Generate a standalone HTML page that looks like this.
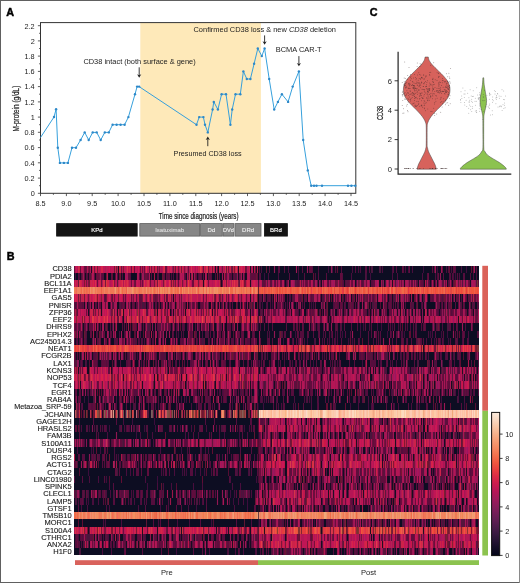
<!DOCTYPE html>
<html><head><meta charset="utf-8"><title>Figure</title>
<style>html,body{margin:0;padding:0;background:#fff}body{width:520px;height:583px;overflow:hidden;font-family:"Liberation Sans",sans-serif}svg{display:block}</style>
</head><body>
<svg width="520" height="583" viewBox="0 0 520 583" font-family="'Liberation Sans', sans-serif">
<rect x="0" y="0" width="520" height="583" fill="#fff"/><g opacity="0.999">
<rect x="140.3" y="23" width="120.6" height="170.3" fill="#fee9b9"/>
<path d="M37.9 193.3H40.5M39.1 185.7H40.5M37.9 178.1H40.5M39.1 170.4H40.5M37.9 162.8H40.5M39.1 155.2H40.5M37.9 147.6H40.5M39.1 140.0H40.5M37.9 132.3H40.5M39.1 124.7H40.5M37.9 117.1H40.5M39.1 109.5H40.5M37.9 101.9H40.5M39.1 94.2H40.5M37.9 86.6H40.5M39.1 79.0H40.5M37.9 71.4H40.5M39.1 63.8H40.5M37.9 56.1H40.5M39.1 48.5H40.5M37.9 40.9H40.5M39.1 33.3H40.5M37.9 25.7H40.5M40.5 193.3V196.1M53.4 193.3V194.8M66.4 193.3V196.1M79.3 193.3V194.8M92.2 193.3V196.1M105.2 193.3V194.8M118.1 193.3V196.1M131.1 193.3V194.8M144.0 193.3V196.1M156.9 193.3V194.8M169.9 193.3V196.1M182.8 193.3V194.8M195.8 193.3V196.1M208.7 193.3V194.8M221.6 193.3V196.1M234.6 193.3V194.8M247.5 193.3V196.1M260.4 193.3V194.8M273.4 193.3V196.1M286.3 193.3V194.8M299.2 193.3V196.1M312.2 193.3V194.8M325.1 193.3V196.1M338.1 193.3V194.8M351.0 193.3V196.1" stroke="#333" stroke-width="0.8" fill="none"/>
<rect x="40.5" y="22.6" width="315.3" height="170.7" fill="none" stroke="#333" stroke-width="1"/>
<text x="34.7" y="196.1" font-size="7.3" text-anchor="end" fill="#1c1c1c">0</text>
<text x="34.7" y="180.9" font-size="7.3" text-anchor="end" fill="#1c1c1c">0.2</text>
<text x="34.7" y="165.6" font-size="7.3" text-anchor="end" fill="#1c1c1c">0.4</text>
<text x="34.7" y="150.4" font-size="7.3" text-anchor="end" fill="#1c1c1c">0.6</text>
<text x="34.7" y="135.1" font-size="7.3" text-anchor="end" fill="#1c1c1c">0.8</text>
<text x="34.7" y="119.9" font-size="7.3" text-anchor="end" fill="#1c1c1c">1</text>
<text x="34.7" y="104.7" font-size="7.3" text-anchor="end" fill="#1c1c1c">1.2</text>
<text x="34.7" y="89.4" font-size="7.3" text-anchor="end" fill="#1c1c1c">1.4</text>
<text x="34.7" y="74.2" font-size="7.3" text-anchor="end" fill="#1c1c1c">1.6</text>
<text x="34.7" y="58.9" font-size="7.3" text-anchor="end" fill="#1c1c1c">1.8</text>
<text x="34.7" y="43.7" font-size="7.3" text-anchor="end" fill="#1c1c1c">2</text>
<text x="34.7" y="28.5" font-size="7.3" text-anchor="end" fill="#1c1c1c">2.2</text>
<text x="40.5" y="206" font-size="7.3" text-anchor="middle" fill="#1c1c1c">8.5</text>
<text x="66.4" y="206" font-size="7.3" text-anchor="middle" fill="#1c1c1c">9.0</text>
<text x="92.2" y="206" font-size="7.3" text-anchor="middle" fill="#1c1c1c">9.5</text>
<text x="118.1" y="206" font-size="7.3" text-anchor="middle" fill="#1c1c1c">10.0</text>
<text x="144.0" y="206" font-size="7.3" text-anchor="middle" fill="#1c1c1c">10.5</text>
<text x="169.9" y="206" font-size="7.3" text-anchor="middle" fill="#1c1c1c">11.0</text>
<text x="195.8" y="206" font-size="7.3" text-anchor="middle" fill="#1c1c1c">11.5</text>
<text x="221.6" y="206" font-size="7.3" text-anchor="middle" fill="#1c1c1c">12.0</text>
<text x="247.5" y="206" font-size="7.3" text-anchor="middle" fill="#1c1c1c">12.5</text>
<text x="273.4" y="206" font-size="7.3" text-anchor="middle" fill="#1c1c1c">13.0</text>
<text x="299.2" y="206" font-size="7.3" text-anchor="middle" fill="#1c1c1c">13.5</text>
<text x="325.1" y="206" font-size="7.3" text-anchor="middle" fill="#1c1c1c">14.0</text>
<text x="351.0" y="206" font-size="7.3" text-anchor="middle" fill="#1c1c1c">14.5</text>
<path d="M40.5 137.5L54.0 117.0L56.1 109.2L57.8 147.7L59.9 162.9L63.9 162.9L67.9 162.9L72.0 147.7L76.0 147.7L80.6 140.0L84.7 132.4L88.7 140.0L92.7 132.4L96.7 132.4L100.7 140.0L104.8 132.4L108.8 132.4L112.6 124.7L116.6 124.7L120.6 124.7L124.6 124.7L128.4 117.1L135.0 94.2L137.1 86.6L139.1 86.6L196.5 124.7L199.2 117.1L203.4 117.1L205.0 124.7L207.8 132.4L212.6 109.5L213.8 101.9L217.9 109.5L221.6 94.2L226.0 94.2L230.4 124.7L232.2 109.5L235.5 94.2L240.3 94.2L243.4 71.4L246.8 79.0L250.4 79.0L254.1 63.8L257.8 48.5L261.8 56.1L264.6 48.5L269.2 79.0L274.2 109.5L277.9 101.9L281.9 94.2L288.1 101.9L292.7 86.6L298.9 71.4L303.2 140.0L307.8 170.4L311.2 185.7L314.0 185.7L316.5 185.7L322.0 185.7L348.0 185.7L351.4 185.7L355.3 185.7" fill="none" stroke="#36a0dc" stroke-width="1.0" stroke-linejoin="round"/>
<g fill="#2d88c8"><circle cx="54.0" cy="117.0" r="1.2"/><circle cx="56.1" cy="109.2" r="1.2"/><circle cx="57.8" cy="147.7" r="1.2"/><circle cx="59.9" cy="162.9" r="1.2"/><circle cx="63.9" cy="162.9" r="1.2"/><circle cx="67.9" cy="162.9" r="1.2"/><circle cx="72.0" cy="147.7" r="1.2"/><circle cx="76.0" cy="147.7" r="1.2"/><circle cx="80.6" cy="140.0" r="1.2"/><circle cx="84.7" cy="132.4" r="1.2"/><circle cx="88.7" cy="140.0" r="1.2"/><circle cx="92.7" cy="132.4" r="1.2"/><circle cx="96.7" cy="132.4" r="1.2"/><circle cx="100.7" cy="140.0" r="1.2"/><circle cx="104.8" cy="132.4" r="1.2"/><circle cx="108.8" cy="132.4" r="1.2"/><circle cx="112.6" cy="124.7" r="1.2"/><circle cx="116.6" cy="124.7" r="1.2"/><circle cx="120.6" cy="124.7" r="1.2"/><circle cx="124.6" cy="124.7" r="1.2"/><circle cx="128.4" cy="117.1" r="1.2"/><circle cx="135.0" cy="94.2" r="1.2"/><circle cx="137.1" cy="86.6" r="1.2"/><circle cx="139.1" cy="86.6" r="1.2"/><circle cx="196.5" cy="124.7" r="1.2"/><circle cx="199.2" cy="117.1" r="1.2"/><circle cx="203.4" cy="117.1" r="1.2"/><circle cx="205.0" cy="124.7" r="1.2"/><circle cx="207.8" cy="132.4" r="1.2"/><circle cx="212.6" cy="109.5" r="1.2"/><circle cx="213.8" cy="101.9" r="1.2"/><circle cx="217.9" cy="109.5" r="1.2"/><circle cx="221.6" cy="94.2" r="1.2"/><circle cx="226.0" cy="94.2" r="1.2"/><circle cx="230.4" cy="124.7" r="1.2"/><circle cx="232.2" cy="109.5" r="1.2"/><circle cx="235.5" cy="94.2" r="1.2"/><circle cx="240.3" cy="94.2" r="1.2"/><circle cx="243.4" cy="71.4" r="1.2"/><circle cx="246.8" cy="79.0" r="1.2"/><circle cx="250.4" cy="79.0" r="1.2"/><circle cx="254.1" cy="63.8" r="1.2"/><circle cx="257.8" cy="48.5" r="1.2"/><circle cx="261.8" cy="56.1" r="1.2"/><circle cx="264.6" cy="48.5" r="1.2"/><circle cx="269.2" cy="79.0" r="1.2"/><circle cx="274.2" cy="109.5" r="1.2"/><circle cx="277.9" cy="101.9" r="1.2"/><circle cx="281.9" cy="94.2" r="1.2"/><circle cx="288.1" cy="101.9" r="1.2"/><circle cx="292.7" cy="86.6" r="1.2"/><circle cx="298.9" cy="71.4" r="1.2"/><circle cx="303.2" cy="140.0" r="1.2"/><circle cx="307.8" cy="170.4" r="1.2"/><circle cx="311.2" cy="185.7" r="1.2"/><circle cx="314.0" cy="185.7" r="1.2"/><circle cx="316.5" cy="185.7" r="1.2"/><circle cx="322.0" cy="185.7" r="1.2"/><circle cx="348.0" cy="185.7" r="1.2"/><circle cx="351.4" cy="185.7" r="1.2"/><circle cx="355.3" cy="185.7" r="1.2"/></g>
<path d="M139.2 67.3V76.2" stroke="#222" stroke-width="0.9" fill="none"/><path d="M137.1 74.3L139.2 77.7L141.3 74.3L139.2 75.3Z" fill="#222"/>
<path d="M264.6 35.4V43.2" stroke="#222" stroke-width="0.9" fill="none"/><path d="M262.5 41.3L264.6 44.7L266.7 41.3L264.6 42.3Z" fill="#222"/>
<path d="M298.9 56.1V64.8" stroke="#222" stroke-width="0.9" fill="none"/><path d="M296.8 62.9L298.9 66.3L301.0 62.9L298.9 63.9Z" fill="#222"/>
<path d="M207.8 146.2V138.0" stroke="#222" stroke-width="0.9" fill="none"/><path d="M205.7 139.9L207.8 136.5L209.9 139.9L207.8 138.9Z" fill="#222"/>
<text x="83.4" y="63.5" font-size="7.5" fill="#1c1c1c" textLength="112.3" lengthAdjust="spacingAndGlyphs">CD38 intact (both surface &amp; gene)</text>
<text x="193.5" y="31.6" font-size="7.5" fill="#1c1c1c" textLength="142.5" lengthAdjust="spacingAndGlyphs">Confirmed CD38 loss &amp; new <tspan font-style="italic">CD38</tspan> deletion</text>
<text x="275.7" y="51.6" font-size="7.5" fill="#1c1c1c" textLength="46" lengthAdjust="spacingAndGlyphs">BCMA CAR-T</text>
<text x="173.6" y="155.7" font-size="7.5" fill="#1c1c1c" textLength="68" lengthAdjust="spacingAndGlyphs">Presumed CD38 loss</text>
<text x="158.7" y="218.5" font-size="8.6" fill="#1c1c1c" stroke="#1c1c1c" stroke-width="0.2" textLength="79.8" lengthAdjust="spacingAndGlyphs">Time since diagnosis (years)</text>
<text transform="translate(18.9,131.5) rotate(-90)" font-size="8.6" fill="#1c1c1c" stroke="#1c1c1c" stroke-width="0.2" textLength="45.8" lengthAdjust="spacingAndGlyphs">M-protein (g/dL)</text>
<rect x="56.6" y="223.6" width="80.6" height="12.5" fill="#141414" stroke="#141414" stroke-width="0.8"/>
<text x="96.9" y="232.1" font-size="6" fill="#fff" stroke="#fff" stroke-width="0.15" text-anchor="middle">KPd</text>
<rect x="139.8" y="223.6" width="59.8" height="12.5" fill="#868686" stroke="#5e5e5e" stroke-width="0.8"/>
<text x="169.7" y="232.1" font-size="6" fill="#dcdcdc" stroke="#dcdcdc" stroke-width="0.15" text-anchor="middle">Isatuximab</text>
<rect x="200.6" y="223.6" width="21.6" height="12.5" fill="#868686" stroke="#5e5e5e" stroke-width="0.8"/>
<text x="211.4" y="232.1" font-size="6" fill="#ececec" stroke="#ececec" stroke-width="0.15" text-anchor="middle">Dd</text>
<rect x="223" y="223.6" width="11.0" height="12.5" fill="#868686" stroke="#5e5e5e" stroke-width="0.8"/>
<text x="228.5" y="232.1" font-size="5.6" fill="#ececec" stroke="#ececec" stroke-width="0.15" text-anchor="middle">DVd</text>
<rect x="235.2" y="223.6" width="25.8" height="12.5" fill="#868686" stroke="#5e5e5e" stroke-width="0.8"/>
<text x="248.1" y="232.1" font-size="6" fill="#ececec" stroke="#ececec" stroke-width="0.15" text-anchor="middle">DRd</text>
<rect x="264.4" y="223.6" width="23.0" height="12.5" fill="#141414" stroke="#141414" stroke-width="0.8"/>
<text x="275.9" y="232.1" font-size="6" fill="#fff" stroke="#fff" stroke-width="0.15" text-anchor="middle">BRd</text>
<text x="6.3" y="16.3" font-size="10.8" font-weight="bold" fill="#000" stroke="#000" stroke-width="0.45">A</text>
<text x="6.8" y="259.9" font-size="10.8" font-weight="bold" fill="#000" stroke="#000" stroke-width="0.45">B</text>
<text x="369.8" y="16.2" font-size="10.8" font-weight="bold" fill="#000" stroke="#000" stroke-width="0.45">C</text>
<path d="M398.1 51.8V174.1H511.3" fill="none" stroke="#222" stroke-width="1.2"/>
<path d="M394.6 169.0H398M394.6 139.6H398M394.6 110.2H398M394.6 80.8H398" stroke="#222" stroke-width="0.9" fill="none"/>
<text x="392" y="171.7" font-size="7.6" text-anchor="end" fill="#1c1c1c">0</text>
<text x="392" y="142.3" font-size="7.6" text-anchor="end" fill="#1c1c1c">2</text>
<text x="392" y="112.9" font-size="7.6" text-anchor="end" fill="#1c1c1c">4</text>
<text x="392" y="83.5" font-size="7.6" text-anchor="end" fill="#1c1c1c">6</text>
<text transform="translate(382.8,120) rotate(-90)" font-size="8.6" fill="#1c1c1c" stroke="#1c1c1c" stroke-width="0.2" textLength="14.2" lengthAdjust="spacingAndGlyphs">CD38</text>
<path d="M425.1 57.0C424.9 57.6 424.8 59.2 424.2 60.4C423.6 61.6 422.8 62.8 421.8 64.0C420.8 65.2 419.6 66.4 418.4 67.6C417.2 68.8 416.1 69.8 414.7 71.2C413.3 72.6 411.3 74.4 409.9 76.0C408.4 77.6 407.0 79.2 406.0 80.8C405.0 82.4 404.3 84.0 403.9 85.6C403.5 87.2 403.3 88.8 403.4 90.4C403.5 92.0 403.7 93.6 404.3 95.2C404.9 96.8 405.9 98.4 407.1 100.0C408.3 101.6 409.8 103.2 411.3 104.8C412.8 106.4 414.5 108.0 416.1 109.6C417.6 111.2 419.3 112.9 420.6 114.4C421.9 116.0 423.1 117.6 423.9 118.9C424.7 120.2 425.1 121.2 425.5 122.4C425.9 123.6 426.1 123.7 426.2 125.8C426.3 127.9 426.3 131.7 426.3 135.0C426.3 138.3 426.3 143.4 426.2 145.5C426.2 147.6 426.1 146.9 425.9 147.8C425.7 148.8 425.4 150.0 425.0 151.2C424.6 152.3 424.0 153.5 423.4 154.7C422.8 155.9 422.2 157.0 421.6 158.2C421.0 159.3 420.5 160.4 419.9 161.6C419.3 162.8 418.6 163.9 418.2 165.1C417.8 166.2 417.4 167.8 417.2 168.5C417.0 169.2 417.1 169.1 417.1 169.2L436.3 169.2C436.3 169.1 436.4 169.2 436.2 168.5C436.0 167.8 435.6 166.2 435.2 165.1C434.8 163.9 434.1 162.8 433.5 161.6C432.9 160.4 432.4 159.3 431.8 158.2C431.2 157.0 430.6 155.9 430.0 154.7C429.4 153.5 428.8 152.3 428.4 151.2C428.0 150.0 427.7 148.8 427.5 147.8C427.3 146.9 427.2 147.6 427.1 145.5C427.1 143.4 427.1 138.3 427.1 135.0C427.1 131.7 427.1 127.9 427.2 125.8C427.3 123.7 427.5 123.6 427.9 122.4C428.3 121.2 428.7 120.2 429.5 118.9C430.3 117.6 431.5 116.0 432.8 114.4C434.1 112.9 435.8 111.2 437.3 109.6C438.9 108.0 440.6 106.4 442.1 104.8C443.6 103.2 445.1 101.6 446.3 100.0C447.5 98.4 448.5 96.8 449.1 95.2C449.7 93.6 449.9 92.0 450.0 90.4C450.1 88.8 449.9 87.2 449.5 85.6C449.1 84.0 448.4 82.4 447.4 80.8C446.4 79.2 444.9 77.6 443.5 76.0C442.1 74.4 440.1 72.6 438.7 71.2C437.3 69.8 436.2 68.8 435.0 67.6C433.8 66.4 432.6 65.2 431.6 64.0C430.6 62.8 429.8 61.6 429.2 60.4C428.6 59.2 428.4 57.6 428.3 57.0Z" fill="#d7625c" stroke="#444" stroke-width="0.5"/>
<path d="M482.9 77.8C482.8 79.0 482.7 82.4 482.4 84.8C482.1 87.2 481.5 90.2 481.2 92.2C480.9 94.2 480.6 95.6 480.4 97.0C480.2 98.4 480.0 99.4 480.0 100.6C480.0 101.8 480.2 102.9 480.3 104.0C480.4 105.1 480.5 105.4 480.8 107.0C481.1 108.6 482.0 111.7 482.3 113.5C482.6 115.3 482.7 115.3 482.8 118.1C482.9 120.8 482.9 125.0 482.9 130.0C482.9 134.9 483.1 144.2 482.9 147.8C482.7 151.4 482.4 150.3 481.7 151.5C481.0 152.7 480.3 154.0 478.9 155.2C477.5 156.4 475.3 157.7 473.3 158.9C471.3 160.1 468.9 161.4 467.1 162.6C465.3 163.8 463.4 165.3 462.3 166.3C461.2 167.3 460.7 168.0 460.4 168.5C460.1 169.0 460.3 169.1 460.3 169.2L506.3 169.2C506.3 169.1 506.5 169.0 506.2 168.5C505.9 168.0 505.4 167.3 504.3 166.3C503.2 165.3 501.3 163.8 499.5 162.6C497.7 161.4 495.3 160.1 493.3 158.9C491.3 157.7 489.1 156.4 487.7 155.2C486.3 154.0 485.6 152.7 484.9 151.5C484.2 150.3 483.9 151.4 483.8 147.8C483.6 144.2 483.7 134.9 483.7 130.0C483.7 125.0 483.7 120.8 483.8 118.1C483.9 115.3 484.0 115.3 484.3 113.5C484.6 111.7 485.5 108.6 485.8 107.0C486.1 105.4 486.2 105.1 486.3 104.0C486.4 102.9 486.6 101.8 486.6 100.6C486.6 99.4 486.4 98.4 486.2 97.0C486.0 95.6 485.7 94.2 485.4 92.2C485.1 90.2 484.5 87.2 484.2 84.8C483.9 82.4 483.8 79.0 483.7 77.8Z" fill="#8cc34f" stroke="#444" stroke-width="0.5"/>
<g fill="#3a2a2a" fill-opacity="0.62"><circle cx="434.1" cy="93.9" r="0.48"/><circle cx="405.7" cy="85.5" r="0.48"/><circle cx="404.0" cy="93.4" r="0.48"/><circle cx="406.6" cy="94.9" r="0.48"/><circle cx="423.0" cy="89.4" r="0.48"/><circle cx="413.1" cy="88.5" r="0.48"/><circle cx="432.9" cy="96.1" r="0.48"/><circle cx="421.6" cy="77.4" r="0.48"/><circle cx="450.0" cy="95.8" r="0.48"/><circle cx="409.3" cy="85.3" r="0.48"/><circle cx="408.0" cy="98.2" r="0.48"/><circle cx="411.1" cy="98.4" r="0.48"/><circle cx="430.7" cy="72.2" r="0.48"/><circle cx="429.0" cy="97.9" r="0.48"/><circle cx="405.3" cy="99.2" r="0.48"/><circle cx="423.2" cy="86.5" r="0.48"/><circle cx="417.6" cy="75.1" r="0.48"/><circle cx="416.9" cy="101.5" r="0.48"/><circle cx="441.1" cy="97.3" r="0.48"/><circle cx="430.3" cy="93.7" r="0.48"/><circle cx="427.9" cy="98.9" r="0.48"/><circle cx="416.3" cy="78.5" r="0.48"/><circle cx="450.2" cy="103.7" r="0.48"/><circle cx="445.1" cy="89.8" r="0.48"/><circle cx="417.6" cy="105.4" r="0.48"/><circle cx="430.6" cy="96.1" r="0.48"/><circle cx="424.6" cy="105.0" r="0.48"/><circle cx="425.4" cy="76.9" r="0.48"/><circle cx="434.7" cy="113.5" r="0.48"/><circle cx="416.1" cy="106.3" r="0.48"/><circle cx="410.4" cy="80.3" r="0.48"/><circle cx="439.8" cy="88.2" r="0.48"/><circle cx="408.5" cy="88.5" r="0.48"/><circle cx="444.9" cy="90.9" r="0.48"/><circle cx="415.8" cy="98.1" r="0.48"/><circle cx="445.5" cy="100.0" r="0.48"/><circle cx="449.1" cy="85.8" r="0.48"/><circle cx="413.6" cy="87.1" r="0.48"/><circle cx="413.6" cy="85.5" r="0.48"/><circle cx="415.1" cy="105.7" r="0.48"/><circle cx="427.5" cy="80.7" r="0.48"/><circle cx="440.4" cy="102.2" r="0.48"/><circle cx="421.4" cy="77.2" r="0.48"/><circle cx="421.7" cy="105.1" r="0.48"/><circle cx="405.3" cy="78.6" r="0.48"/><circle cx="412.4" cy="81.6" r="0.48"/><circle cx="404.8" cy="85.8" r="0.48"/><circle cx="402.2" cy="82.5" r="0.48"/><circle cx="432.3" cy="84.9" r="0.48"/><circle cx="419.2" cy="86.1" r="0.48"/><circle cx="420.0" cy="84.3" r="0.48"/><circle cx="425.9" cy="76.1" r="0.48"/><circle cx="419.0" cy="86.7" r="0.48"/><circle cx="415.2" cy="88.5" r="0.48"/><circle cx="428.1" cy="96.8" r="0.48"/><circle cx="420.2" cy="93.9" r="0.48"/><circle cx="410.4" cy="99.2" r="0.48"/><circle cx="440.4" cy="89.2" r="0.48"/><circle cx="418.4" cy="104.6" r="0.48"/><circle cx="427.6" cy="91.6" r="0.48"/><circle cx="419.6" cy="99.0" r="0.48"/><circle cx="415.9" cy="88.5" r="0.48"/><circle cx="414.9" cy="90.6" r="0.48"/><circle cx="424.1" cy="100.8" r="0.48"/><circle cx="420.1" cy="63.7" r="0.48"/><circle cx="413.3" cy="93.2" r="0.48"/><circle cx="432.8" cy="88.6" r="0.48"/><circle cx="446.3" cy="84.0" r="0.48"/><circle cx="434.2" cy="84.3" r="0.48"/><circle cx="441.4" cy="101.7" r="0.48"/><circle cx="439.0" cy="82.9" r="0.48"/><circle cx="440.9" cy="97.9" r="0.48"/><circle cx="418.5" cy="90.1" r="0.48"/><circle cx="421.6" cy="81.9" r="0.48"/><circle cx="410.5" cy="74.4" r="0.48"/><circle cx="409.6" cy="96.9" r="0.48"/><circle cx="408.6" cy="99.3" r="0.48"/><circle cx="416.6" cy="89.1" r="0.48"/><circle cx="414.0" cy="82.9" r="0.48"/><circle cx="422.7" cy="98.4" r="0.48"/><circle cx="408.6" cy="95.5" r="0.48"/><circle cx="424.6" cy="82.4" r="0.48"/><circle cx="430.8" cy="96.6" r="0.48"/><circle cx="447.2" cy="81.6" r="0.48"/><circle cx="426.8" cy="97.6" r="0.48"/><circle cx="411.2" cy="93.8" r="0.48"/><circle cx="437.7" cy="90.6" r="0.48"/><circle cx="427.6" cy="100.3" r="0.48"/><circle cx="429.4" cy="94.5" r="0.48"/><circle cx="429.7" cy="90.0" r="0.48"/><circle cx="414.4" cy="96.2" r="0.48"/><circle cx="427.1" cy="94.3" r="0.48"/><circle cx="429.7" cy="72.4" r="0.48"/><circle cx="423.9" cy="89.6" r="0.48"/><circle cx="424.4" cy="108.0" r="0.48"/><circle cx="428.3" cy="92.4" r="0.48"/><circle cx="445.2" cy="87.5" r="0.48"/><circle cx="429.6" cy="83.1" r="0.48"/><circle cx="448.4" cy="94.1" r="0.48"/><circle cx="408.2" cy="87.9" r="0.48"/><circle cx="423.9" cy="96.1" r="0.48"/><circle cx="405.8" cy="83.7" r="0.48"/><circle cx="435.0" cy="87.5" r="0.48"/><circle cx="409.8" cy="86.1" r="0.48"/><circle cx="449.6" cy="76.9" r="0.48"/><circle cx="448.9" cy="73.2" r="0.48"/><circle cx="410.1" cy="88.4" r="0.48"/><circle cx="418.8" cy="103.2" r="0.48"/><circle cx="411.8" cy="85.6" r="0.48"/><circle cx="423.8" cy="75.1" r="0.48"/><circle cx="432.8" cy="81.3" r="0.48"/><circle cx="427.3" cy="90.0" r="0.48"/><circle cx="449.8" cy="78.5" r="0.48"/><circle cx="440.4" cy="91.4" r="0.48"/><circle cx="415.5" cy="88.0" r="0.48"/><circle cx="446.9" cy="83.2" r="0.48"/><circle cx="442.3" cy="82.7" r="0.48"/><circle cx="447.2" cy="91.4" r="0.48"/><circle cx="430.2" cy="84.8" r="0.48"/><circle cx="405.0" cy="92.6" r="0.48"/><circle cx="435.9" cy="95.6" r="0.48"/><circle cx="448.2" cy="94.9" r="0.48"/><circle cx="433.3" cy="89.2" r="0.48"/><circle cx="444.2" cy="89.6" r="0.48"/><circle cx="405.5" cy="95.5" r="0.48"/><circle cx="418.8" cy="83.2" r="0.48"/><circle cx="429.3" cy="100.3" r="0.48"/><circle cx="408.5" cy="83.3" r="0.48"/><circle cx="428.0" cy="95.0" r="0.48"/><circle cx="410.1" cy="90.7" r="0.48"/><circle cx="404.7" cy="85.8" r="0.48"/><circle cx="417.1" cy="88.2" r="0.48"/><circle cx="439.4" cy="82.0" r="0.48"/><circle cx="410.9" cy="94.3" r="0.48"/><circle cx="419.2" cy="78.5" r="0.48"/><circle cx="429.2" cy="90.1" r="0.48"/><circle cx="448.0" cy="86.4" r="0.48"/><circle cx="407.4" cy="79.5" r="0.48"/><circle cx="426.5" cy="86.2" r="0.48"/><circle cx="443.1" cy="101.7" r="0.48"/><circle cx="435.9" cy="101.3" r="0.48"/><circle cx="450.3" cy="82.9" r="0.48"/><circle cx="433.4" cy="82.6" r="0.48"/><circle cx="422.0" cy="106.1" r="0.48"/><circle cx="408.6" cy="93.2" r="0.48"/><circle cx="405.7" cy="88.1" r="0.48"/><circle cx="410.2" cy="91.6" r="0.48"/><circle cx="416.0" cy="79.8" r="0.48"/><circle cx="414.1" cy="103.0" r="0.48"/><circle cx="409.9" cy="94.4" r="0.48"/><circle cx="424.0" cy="79.3" r="0.48"/><circle cx="402.3" cy="94.9" r="0.48"/><circle cx="425.5" cy="81.5" r="0.48"/><circle cx="426.9" cy="98.5" r="0.48"/><circle cx="402.4" cy="91.2" r="0.48"/><circle cx="404.2" cy="81.7" r="0.48"/><circle cx="417.1" cy="85.1" r="0.48"/><circle cx="428.1" cy="89.5" r="0.48"/><circle cx="439.0" cy="76.5" r="0.48"/><circle cx="445.3" cy="100.7" r="0.48"/><circle cx="421.3" cy="105.7" r="0.48"/><circle cx="433.7" cy="62.8" r="0.48"/><circle cx="432.9" cy="79.2" r="0.48"/><circle cx="426.9" cy="82.5" r="0.48"/><circle cx="443.1" cy="80.8" r="0.48"/><circle cx="430.8" cy="84.1" r="0.48"/><circle cx="403.7" cy="93.9" r="0.48"/><circle cx="419.9" cy="98.6" r="0.48"/><circle cx="429.6" cy="74.5" r="0.48"/><circle cx="433.0" cy="78.3" r="0.48"/><circle cx="426.2" cy="102.8" r="0.48"/><circle cx="428.4" cy="91.2" r="0.48"/><circle cx="434.5" cy="104.1" r="0.48"/><circle cx="414.6" cy="74.6" r="0.48"/><circle cx="405.8" cy="83.8" r="0.48"/><circle cx="412.3" cy="92.8" r="0.48"/><circle cx="438.5" cy="73.4" r="0.48"/><circle cx="420.9" cy="78.4" r="0.48"/><circle cx="425.7" cy="93.0" r="0.48"/><circle cx="432.4" cy="98.7" r="0.48"/><circle cx="433.7" cy="108.3" r="0.48"/><circle cx="414.6" cy="85.6" r="0.48"/><circle cx="438.6" cy="88.2" r="0.48"/><circle cx="402.8" cy="95.9" r="0.48"/><circle cx="415.4" cy="77.6" r="0.48"/><circle cx="435.3" cy="99.1" r="0.48"/><circle cx="416.5" cy="106.0" r="0.48"/><circle cx="425.1" cy="103.3" r="0.48"/><circle cx="408.0" cy="92.4" r="0.48"/><circle cx="424.2" cy="78.8" r="0.48"/><circle cx="412.5" cy="84.4" r="0.48"/><circle cx="430.7" cy="65.3" r="0.48"/><circle cx="448.9" cy="82.6" r="0.48"/><circle cx="442.4" cy="80.6" r="0.48"/><circle cx="436.7" cy="114.1" r="0.48"/><circle cx="446.2" cy="92.4" r="0.48"/><circle cx="424.3" cy="90.9" r="0.48"/><circle cx="419.1" cy="93.0" r="0.48"/><circle cx="417.7" cy="85.3" r="0.48"/><circle cx="439.0" cy="90.7" r="0.48"/><circle cx="443.3" cy="91.6" r="0.48"/><circle cx="437.1" cy="72.7" r="0.48"/><circle cx="446.4" cy="73.8" r="0.48"/><circle cx="419.9" cy="83.2" r="0.48"/><circle cx="404.6" cy="99.0" r="0.48"/><circle cx="443.1" cy="87.2" r="0.48"/><circle cx="414.4" cy="96.8" r="0.48"/><circle cx="449.1" cy="87.2" r="0.48"/><circle cx="445.5" cy="81.2" r="0.48"/><circle cx="447.0" cy="85.2" r="0.48"/><circle cx="438.1" cy="91.8" r="0.48"/><circle cx="424.3" cy="94.5" r="0.48"/><circle cx="416.2" cy="90.8" r="0.48"/><circle cx="419.0" cy="82.4" r="0.48"/><circle cx="416.8" cy="82.1" r="0.48"/><circle cx="414.9" cy="93.2" r="0.48"/><circle cx="421.5" cy="95.5" r="0.48"/><circle cx="410.4" cy="77.7" r="0.48"/><circle cx="446.6" cy="87.1" r="0.48"/><circle cx="426.6" cy="84.7" r="0.48"/><circle cx="409.0" cy="67.5" r="0.48"/><circle cx="406.7" cy="82.6" r="0.48"/><circle cx="413.9" cy="85.6" r="0.48"/><circle cx="445.7" cy="91.8" r="0.48"/><circle cx="438.9" cy="76.8" r="0.48"/><circle cx="427.9" cy="100.8" r="0.48"/><circle cx="420.7" cy="85.2" r="0.48"/><circle cx="415.8" cy="93.2" r="0.48"/><circle cx="449.6" cy="87.7" r="0.48"/><circle cx="433.1" cy="81.9" r="0.48"/><circle cx="444.5" cy="81.8" r="0.48"/><circle cx="414.4" cy="89.2" r="0.48"/><circle cx="421.8" cy="82.5" r="0.48"/><circle cx="445.0" cy="82.0" r="0.48"/><circle cx="437.0" cy="88.3" r="0.48"/><circle cx="446.1" cy="90.7" r="0.48"/><circle cx="402.2" cy="105.5" r="0.48"/><circle cx="447.6" cy="88.6" r="0.48"/><circle cx="449.8" cy="81.2" r="0.48"/><circle cx="407.5" cy="110.4" r="0.48"/><circle cx="433.9" cy="93.4" r="0.48"/><circle cx="429.2" cy="90.0" r="0.48"/><circle cx="433.8" cy="88.4" r="0.48"/><circle cx="417.1" cy="66.5" r="0.48"/><circle cx="436.4" cy="91.3" r="0.48"/><circle cx="407.7" cy="75.4" r="0.48"/><circle cx="421.2" cy="105.5" r="0.48"/><circle cx="413.2" cy="93.3" r="0.48"/><circle cx="417.0" cy="92.4" r="0.48"/><circle cx="424.8" cy="92.0" r="0.48"/><circle cx="413.7" cy="95.1" r="0.48"/><circle cx="436.7" cy="90.6" r="0.48"/><circle cx="417.3" cy="63.1" r="0.48"/><circle cx="422.8" cy="107.6" r="0.48"/><circle cx="414.8" cy="90.9" r="0.48"/><circle cx="413.3" cy="103.5" r="0.48"/><circle cx="403.9" cy="112.9" r="0.48"/><circle cx="438.4" cy="83.1" r="0.48"/><circle cx="449.7" cy="98.6" r="0.48"/><circle cx="442.4" cy="91.3" r="0.48"/><circle cx="439.5" cy="90.2" r="0.48"/><circle cx="416.7" cy="83.3" r="0.48"/><circle cx="411.4" cy="78.8" r="0.48"/><circle cx="413.1" cy="94.9" r="0.48"/><circle cx="448.7" cy="105.2" r="0.48"/><circle cx="421.5" cy="83.0" r="0.48"/><circle cx="409.2" cy="84.2" r="0.48"/><circle cx="404.7" cy="62.1" r="0.48"/><circle cx="448.1" cy="94.5" r="0.48"/><circle cx="438.8" cy="84.9" r="0.48"/><circle cx="420.8" cy="75.1" r="0.48"/><circle cx="420.5" cy="87.8" r="0.48"/><circle cx="402.3" cy="94.4" r="0.48"/><circle cx="419.4" cy="85.2" r="0.48"/><circle cx="449.4" cy="85.6" r="0.48"/><circle cx="412.4" cy="92.7" r="0.48"/><circle cx="442.5" cy="103.8" r="0.48"/><circle cx="423.4" cy="75.0" r="0.48"/><circle cx="420.5" cy="79.2" r="0.48"/><circle cx="447.3" cy="87.3" r="0.48"/><circle cx="446.2" cy="87.4" r="0.48"/><circle cx="404.2" cy="84.0" r="0.48"/><circle cx="446.2" cy="91.9" r="0.48"/><circle cx="418.8" cy="72.8" r="0.48"/><circle cx="432.4" cy="95.0" r="0.48"/><circle cx="447.1" cy="83.0" r="0.48"/><circle cx="403.4" cy="108.7" r="0.48"/><circle cx="425.5" cy="110.8" r="0.48"/><circle cx="421.1" cy="64.7" r="0.48"/><circle cx="414.5" cy="98.4" r="0.48"/><circle cx="447.7" cy="102.7" r="0.48"/><circle cx="441.5" cy="85.6" r="0.48"/><circle cx="440.1" cy="92.6" r="0.48"/><circle cx="432.0" cy="111.5" r="0.48"/><circle cx="419.9" cy="95.6" r="0.48"/><circle cx="440.5" cy="82.5" r="0.48"/><circle cx="439.1" cy="84.7" r="0.48"/><circle cx="414.3" cy="87.6" r="0.48"/><circle cx="429.3" cy="88.4" r="0.48"/><circle cx="418.2" cy="89.9" r="0.48"/><circle cx="450.6" cy="68.4" r="0.48"/><circle cx="406.3" cy="93.9" r="0.48"/><circle cx="437.0" cy="80.4" r="0.48"/><circle cx="424.1" cy="83.7" r="0.48"/><circle cx="432.6" cy="90.0" r="0.48"/><circle cx="435.2" cy="79.7" r="0.48"/><circle cx="434.8" cy="91.4" r="0.48"/><circle cx="420.5" cy="95.0" r="0.48"/><circle cx="438.4" cy="77.4" r="0.48"/><circle cx="414.2" cy="88.5" r="0.48"/><circle cx="409.7" cy="83.2" r="0.48"/><circle cx="418.2" cy="80.3" r="0.48"/><circle cx="421.6" cy="100.7" r="0.48"/><circle cx="413.5" cy="78.0" r="0.48"/><circle cx="441.8" cy="91.7" r="0.48"/><circle cx="404.2" cy="77.9" r="0.48"/><circle cx="408.0" cy="111.7" r="0.48"/><circle cx="447.8" cy="76.7" r="0.48"/><circle cx="444.6" cy="93.6" r="0.48"/><circle cx="440.3" cy="99.2" r="0.48"/><circle cx="448.5" cy="88.4" r="0.48"/><circle cx="432.6" cy="79.4" r="0.48"/><circle cx="412.9" cy="81.9" r="0.48"/><circle cx="412.2" cy="95.2" r="0.48"/><circle cx="414.7" cy="86.6" r="0.48"/><circle cx="412.2" cy="104.1" r="0.48"/><circle cx="402.8" cy="100.5" r="0.48"/><circle cx="417.5" cy="94.2" r="0.48"/><circle cx="412.2" cy="97.4" r="0.48"/><circle cx="405.3" cy="87.2" r="0.48"/><circle cx="407.2" cy="104.4" r="0.48"/><circle cx="406.7" cy="106.1" r="0.48"/><circle cx="436.3" cy="96.0" r="0.48"/><circle cx="417.3" cy="98.7" r="0.48"/><circle cx="448.9" cy="86.3" r="0.48"/><circle cx="419.7" cy="96.5" r="0.48"/><circle cx="422.6" cy="77.9" r="0.48"/><circle cx="420.0" cy="66.6" r="0.48"/><circle cx="423.0" cy="98.5" r="0.48"/><circle cx="445.5" cy="86.3" r="0.48"/><circle cx="424.8" cy="101.3" r="0.48"/><circle cx="429.2" cy="90.1" r="0.48"/><circle cx="433.6" cy="89.5" r="0.48"/><circle cx="432.7" cy="87.1" r="0.48"/><circle cx="420.4" cy="93.6" r="0.48"/><circle cx="416.1" cy="97.3" r="0.48"/><circle cx="427.7" cy="91.3" r="0.48"/><circle cx="426.2" cy="86.4" r="0.48"/><circle cx="441.6" cy="93.5" r="0.48"/><circle cx="408.4" cy="83.9" r="0.48"/><circle cx="448.4" cy="92.6" r="0.48"/><circle cx="421.2" cy="93.0" r="0.48"/><circle cx="442.6" cy="78.4" r="0.48"/><circle cx="410.1" cy="99.8" r="0.48"/><circle cx="422.0" cy="89.3" r="0.48"/><circle cx="443.7" cy="98.7" r="0.48"/><circle cx="412.9" cy="87.7" r="0.48"/><circle cx="421.8" cy="97.2" r="0.48"/><circle cx="408.2" cy="101.9" r="0.48"/><circle cx="437.7" cy="92.3" r="0.48"/><circle cx="429.8" cy="88.5" r="0.48"/><circle cx="439.3" cy="93.0" r="0.48"/><circle cx="429.2" cy="86.1" r="0.48"/><circle cx="422.8" cy="97.7" r="0.48"/><circle cx="430.7" cy="97.8" r="0.48"/><circle cx="424.1" cy="105.5" r="0.48"/><circle cx="423.7" cy="83.8" r="0.48"/><circle cx="426.2" cy="75.9" r="0.48"/><circle cx="413.7" cy="88.8" r="0.48"/><circle cx="424.7" cy="89.5" r="0.48"/><circle cx="423.3" cy="86.6" r="0.48"/><circle cx="406.7" cy="87.5" r="0.48"/><circle cx="406.2" cy="86.4" r="0.48"/><circle cx="427.3" cy="93.1" r="0.48"/><circle cx="447.8" cy="81.2" r="0.48"/><circle cx="419.4" cy="74.4" r="0.48"/><circle cx="446.1" cy="90.8" r="0.48"/><circle cx="415.7" cy="97.6" r="0.48"/><circle cx="426.8" cy="88.6" r="0.48"/><circle cx="447.3" cy="96.7" r="0.48"/><circle cx="427.0" cy="88.9" r="0.48"/><circle cx="417.8" cy="82.8" r="0.48"/><circle cx="410.1" cy="84.3" r="0.48"/><circle cx="448.1" cy="89.5" r="0.48"/><circle cx="410.5" cy="101.1" r="0.48"/><circle cx="440.7" cy="112.3" r="0.48"/><circle cx="419.8" cy="106.5" r="0.48"/><circle cx="445.0" cy="94.1" r="0.48"/><circle cx="445.4" cy="104.7" r="0.48"/><circle cx="415.2" cy="106.6" r="0.48"/><circle cx="423.9" cy="103.1" r="0.48"/><circle cx="410.9" cy="76.7" r="0.48"/><circle cx="442.4" cy="91.2" r="0.48"/><circle cx="414.6" cy="94.6" r="0.48"/><circle cx="430.9" cy="111.4" r="0.48"/><circle cx="434.7" cy="115.4" r="0.48"/><circle cx="409.5" cy="88.2" r="0.48"/><circle cx="432.4" cy="91.1" r="0.48"/><circle cx="446.1" cy="103.1" r="0.48"/><circle cx="413.3" cy="85.6" r="0.48"/><circle cx="402.3" cy="92.4" r="0.48"/><circle cx="407.4" cy="93.0" r="0.48"/><circle cx="430.8" cy="96.0" r="0.48"/><circle cx="431.1" cy="84.9" r="0.48"/><circle cx="425.5" cy="86.7" r="0.48"/><circle cx="406.9" cy="90.8" r="0.48"/><circle cx="433.5" cy="84.8" r="0.48"/><circle cx="421.9" cy="77.8" r="0.48"/><circle cx="415.1" cy="105.0" r="0.48"/><circle cx="429.8" cy="75.3" r="0.48"/><circle cx="419.4" cy="89.9" r="0.48"/><circle cx="414.4" cy="100.6" r="0.48"/><circle cx="428.2" cy="88.4" r="0.48"/><circle cx="422.1" cy="93.0" r="0.48"/><circle cx="440.4" cy="90.8" r="0.48"/><circle cx="412.0" cy="85.4" r="0.48"/><circle cx="432.0" cy="93.3" r="0.48"/><circle cx="442.1" cy="106.9" r="0.48"/><circle cx="417.4" cy="91.8" r="0.48"/><circle cx="445.8" cy="92.2" r="0.48"/><circle cx="440.6" cy="87.8" r="0.48"/><circle cx="443.6" cy="91.4" r="0.48"/><circle cx="438.7" cy="92.3" r="0.48"/><circle cx="424.4" cy="108.8" r="0.48"/><circle cx="413.3" cy="87.2" r="0.48"/><circle cx="404.1" cy="84.8" r="0.48"/><circle cx="438.9" cy="86.2" r="0.48"/><circle cx="437.1" cy="98.3" r="0.48"/><circle cx="427.8" cy="109.0" r="0.48"/><circle cx="415.2" cy="83.5" r="0.48"/><circle cx="402.9" cy="113.3" r="0.48"/><circle cx="448.5" cy="89.5" r="0.48"/><circle cx="438.8" cy="73.0" r="0.48"/><circle cx="418.3" cy="101.6" r="0.48"/><circle cx="434.8" cy="102.6" r="0.48"/><circle cx="442.1" cy="168.6" r="0.48"/><circle cx="435.6" cy="168.6" r="0.48"/><circle cx="442.9" cy="168.6" r="0.48"/><circle cx="423.6" cy="168.6" r="0.48"/><circle cx="436.8" cy="168.6" r="0.48"/><circle cx="429.7" cy="168.6" r="0.48"/><circle cx="417.7" cy="168.6" r="0.48"/><circle cx="413.3" cy="168.6" r="0.48"/><circle cx="432.1" cy="168.6" r="0.48"/><circle cx="407.1" cy="168.6" r="0.48"/><circle cx="445.4" cy="168.6" r="0.48"/><circle cx="410.2" cy="168.6" r="0.48"/><circle cx="404.7" cy="168.6" r="0.48"/><circle cx="408.4" cy="168.6" r="0.48"/><circle cx="446.2" cy="168.6" r="0.48"/><circle cx="419.4" cy="168.6" r="0.48"/><circle cx="410.0" cy="168.6" r="0.48"/><circle cx="404.8" cy="168.6" r="0.48"/><circle cx="405.4" cy="168.6" r="0.48"/><circle cx="435.4" cy="168.6" r="0.48"/><circle cx="432.7" cy="168.6" r="0.48"/><circle cx="435.6" cy="168.6" r="0.48"/><circle cx="437.4" cy="168.6" r="0.48"/><circle cx="406.5" cy="168.6" r="0.48"/><circle cx="430.7" cy="168.6" r="0.48"/><circle cx="420.2" cy="168.6" r="0.48"/><circle cx="441.1" cy="168.6" r="0.48"/><circle cx="441.2" cy="168.6" r="0.48"/><circle cx="444.5" cy="168.6" r="0.48"/><circle cx="406.5" cy="168.6" r="0.48"/><circle cx="443.4" cy="168.6" r="0.48"/><circle cx="445.6" cy="168.6" r="0.48"/><circle cx="446.9" cy="168.6" r="0.48"/><circle cx="408.4" cy="168.6" r="0.48"/><circle cx="413.0" cy="168.6" r="0.48"/><circle cx="408.7" cy="168.6" r="0.48"/><circle cx="405.1" cy="168.6" r="0.48"/><circle cx="442.5" cy="168.6" r="0.48"/><circle cx="440.9" cy="168.6" r="0.48"/><circle cx="432.7" cy="168.6" r="0.48"/><circle cx="441.5" cy="168.6" r="0.48"/><circle cx="432.6" cy="168.6" r="0.48"/><circle cx="416.7" cy="168.6" r="0.48"/><circle cx="408.1" cy="168.6" r="0.48"/><circle cx="408.0" cy="168.6" r="0.48"/></g>
<g fill="#444" fill-opacity="0.5"><circle cx="475.0" cy="101.2" r="0.48"/><circle cx="479.8" cy="105.9" r="0.48"/><circle cx="473.3" cy="96.3" r="0.48"/><circle cx="493.2" cy="100.7" r="0.48"/><circle cx="504.6" cy="105.3" r="0.48"/><circle cx="483.5" cy="97.1" r="0.48"/><circle cx="461.7" cy="95.9" r="0.48"/><circle cx="479.3" cy="108.8" r="0.48"/><circle cx="476.3" cy="111.9" r="0.48"/><circle cx="492.7" cy="97.0" r="0.48"/><circle cx="500.0" cy="105.9" r="0.48"/><circle cx="464.5" cy="102.5" r="0.48"/><circle cx="460.4" cy="99.7" r="0.48"/><circle cx="469.6" cy="105.0" r="0.48"/><circle cx="460.5" cy="100.0" r="0.48"/><circle cx="482.9" cy="119.6" r="0.48"/><circle cx="468.8" cy="113.2" r="0.48"/><circle cx="483.1" cy="100.7" r="0.48"/><circle cx="472.3" cy="108.5" r="0.48"/><circle cx="503.7" cy="91.1" r="0.48"/><circle cx="492.5" cy="102.3" r="0.48"/><circle cx="483.2" cy="96.9" r="0.48"/><circle cx="464.0" cy="94.1" r="0.48"/><circle cx="496.5" cy="95.4" r="0.48"/><circle cx="489.2" cy="105.2" r="0.48"/><circle cx="476.7" cy="112.4" r="0.48"/><circle cx="501.3" cy="106.8" r="0.48"/><circle cx="464.3" cy="97.5" r="0.48"/><circle cx="469.8" cy="100.2" r="0.48"/><circle cx="472.4" cy="102.3" r="0.48"/><circle cx="477.7" cy="95.0" r="0.48"/><circle cx="501.0" cy="105.9" r="0.48"/><circle cx="484.8" cy="100.6" r="0.48"/><circle cx="495.0" cy="94.1" r="0.48"/><circle cx="476.3" cy="101.2" r="0.48"/><circle cx="475.3" cy="110.9" r="0.48"/><circle cx="490.8" cy="94.2" r="0.48"/><circle cx="494.4" cy="90.8" r="0.48"/><circle cx="495.9" cy="97.9" r="0.48"/><circle cx="486.9" cy="95.2" r="0.48"/><circle cx="501.0" cy="96.2" r="0.48"/><circle cx="471.2" cy="96.1" r="0.48"/><circle cx="492.6" cy="99.4" r="0.48"/><circle cx="499.1" cy="96.1" r="0.48"/><circle cx="471.7" cy="99.2" r="0.48"/><circle cx="475.3" cy="98.2" r="0.48"/><circle cx="475.4" cy="105.3" r="0.48"/><circle cx="469.0" cy="101.9" r="0.48"/><circle cx="465.0" cy="90.8" r="0.48"/><circle cx="504.6" cy="103.0" r="0.48"/><circle cx="505.6" cy="96.1" r="0.48"/><circle cx="496.9" cy="97.5" r="0.48"/><circle cx="469.3" cy="102.1" r="0.48"/><circle cx="489.6" cy="108.4" r="0.48"/><circle cx="478.2" cy="97.9" r="0.48"/><circle cx="461.9" cy="98.6" r="0.48"/><circle cx="492.2" cy="110.8" r="0.48"/><circle cx="483.3" cy="94.4" r="0.48"/><circle cx="466.8" cy="106.4" r="0.48"/><circle cx="488.1" cy="106.8" r="0.48"/><circle cx="502.1" cy="110.4" r="0.48"/><circle cx="480.1" cy="95.3" r="0.48"/><circle cx="479.7" cy="111.2" r="0.48"/><circle cx="470.8" cy="106.3" r="0.48"/><circle cx="495.9" cy="103.7" r="0.48"/><circle cx="492.5" cy="114.8" r="0.48"/><circle cx="489.8" cy="95.4" r="0.48"/><circle cx="481.2" cy="109.4" r="0.48"/><circle cx="464.8" cy="105.0" r="0.48"/><circle cx="479.6" cy="92.8" r="0.48"/><circle cx="489.3" cy="99.3" r="0.48"/><circle cx="471.8" cy="111.6" r="0.48"/><circle cx="488.9" cy="107.8" r="0.48"/><circle cx="479.1" cy="98.0" r="0.48"/><circle cx="468.7" cy="108.3" r="0.48"/><circle cx="490.4" cy="115.0" r="0.48"/><circle cx="482.8" cy="100.2" r="0.48"/><circle cx="505.1" cy="107.8" r="0.48"/><circle cx="467.7" cy="93.3" r="0.48"/><circle cx="496.3" cy="99.4" r="0.48"/><circle cx="465.0" cy="93.9" r="0.48"/><circle cx="486.7" cy="104.3" r="0.48"/><circle cx="483.9" cy="111.5" r="0.48"/><circle cx="489.7" cy="104.1" r="0.48"/><circle cx="479.2" cy="97.6" r="0.48"/><circle cx="503.9" cy="108.4" r="0.48"/><circle cx="478.4" cy="98.9" r="0.48"/><circle cx="495.4" cy="91.6" r="0.48"/><circle cx="476.7" cy="87.7" r="0.48"/><circle cx="462.9" cy="88.1" r="0.48"/><circle cx="460.9" cy="102.4" r="0.48"/><circle cx="479.6" cy="94.8" r="0.48"/><circle cx="476.5" cy="110.4" r="0.48"/><circle cx="472.5" cy="96.5" r="0.48"/><circle cx="503.5" cy="99.6" r="0.48"/><circle cx="484.5" cy="90.6" r="0.48"/><circle cx="478.3" cy="99.1" r="0.48"/><circle cx="470.1" cy="89.7" r="0.48"/><circle cx="497.5" cy="93.5" r="0.48"/><circle cx="489.5" cy="93.1" r="0.48"/><circle cx="470.7" cy="109.7" r="0.48"/><circle cx="504.6" cy="99.7" r="0.48"/><circle cx="498.0" cy="107.1" r="0.48"/><circle cx="497.8" cy="93.9" r="0.48"/><circle cx="485.5" cy="106.8" r="0.48"/><circle cx="466.1" cy="100.3" r="0.48"/><circle cx="499.4" cy="98.3" r="0.48"/><circle cx="472.6" cy="106.7" r="0.48"/><circle cx="479.9" cy="105.0" r="0.48"/><circle cx="468.9" cy="97.8" r="0.48"/><circle cx="473.2" cy="90.8" r="0.48"/><circle cx="471.6" cy="101.2" r="0.48"/><circle cx="480.0" cy="103.8" r="0.48"/><circle cx="489.6" cy="94.2" r="0.48"/><circle cx="503.0" cy="104.8" r="0.48"/><circle cx="499.6" cy="106.7" r="0.48"/><circle cx="502.0" cy="89.8" r="0.48"/><circle cx="496.4" cy="97.0" r="0.48"/><circle cx="489.4" cy="93.4" r="0.48"/><circle cx="461.0" cy="91.7" r="0.48"/></g>
<text x="71.6" y="271.40" font-size="7.5" text-anchor="end" fill="#1a1a1a" stroke="#1a1a1a" stroke-width="0.12">CD38</text>
<text x="71.6" y="278.66" font-size="7.5" text-anchor="end" fill="#1a1a1a" stroke="#1a1a1a" stroke-width="0.12">PDIA2</text>
<text x="71.6" y="285.91" font-size="7.5" text-anchor="end" fill="#1a1a1a" stroke="#1a1a1a" stroke-width="0.12">BCL11A</text>
<text x="71.6" y="293.17" font-size="7.5" text-anchor="end" fill="#1a1a1a" stroke="#1a1a1a" stroke-width="0.12">EEF1A1</text>
<text x="71.6" y="300.43" font-size="7.5" text-anchor="end" fill="#1a1a1a" stroke="#1a1a1a" stroke-width="0.12">GAS5</text>
<text x="71.6" y="307.69" font-size="7.5" text-anchor="end" fill="#1a1a1a" stroke="#1a1a1a" stroke-width="0.12">PNISR</text>
<text x="71.6" y="314.94" font-size="7.5" text-anchor="end" fill="#1a1a1a" stroke="#1a1a1a" stroke-width="0.12">ZFP36</text>
<text x="71.6" y="322.20" font-size="7.5" text-anchor="end" fill="#1a1a1a" stroke="#1a1a1a" stroke-width="0.12">EEF2</text>
<text x="71.6" y="329.46" font-size="7.5" text-anchor="end" fill="#1a1a1a" stroke="#1a1a1a" stroke-width="0.12">DHRS9</text>
<text x="71.6" y="336.71" font-size="7.5" text-anchor="end" fill="#1a1a1a" stroke="#1a1a1a" stroke-width="0.12">EPHX2</text>
<text x="71.6" y="343.97" font-size="7.5" text-anchor="end" fill="#1a1a1a" stroke="#1a1a1a" stroke-width="0.12">AC245014.3</text>
<text x="71.6" y="351.23" font-size="7.5" text-anchor="end" fill="#1a1a1a" stroke="#1a1a1a" stroke-width="0.12">NEAT1</text>
<text x="71.6" y="358.48" font-size="7.5" text-anchor="end" fill="#1a1a1a" stroke="#1a1a1a" stroke-width="0.12">FCGR2B</text>
<text x="71.6" y="365.74" font-size="7.5" text-anchor="end" fill="#1a1a1a" stroke="#1a1a1a" stroke-width="0.12">LAX1</text>
<text x="71.6" y="373.00" font-size="7.5" text-anchor="end" fill="#1a1a1a" stroke="#1a1a1a" stroke-width="0.12">KCNS3</text>
<text x="71.6" y="380.25" font-size="7.5" text-anchor="end" fill="#1a1a1a" stroke="#1a1a1a" stroke-width="0.12">NOP53</text>
<text x="71.6" y="387.51" font-size="7.5" text-anchor="end" fill="#1a1a1a" stroke="#1a1a1a" stroke-width="0.12">TCF4</text>
<text x="71.6" y="394.77" font-size="7.5" text-anchor="end" fill="#1a1a1a" stroke="#1a1a1a" stroke-width="0.12">EGR1</text>
<text x="71.6" y="402.03" font-size="7.5" text-anchor="end" fill="#1a1a1a" stroke="#1a1a1a" stroke-width="0.12">RAB4A</text>
<text x="71.6" y="409.28" font-size="7.5" text-anchor="end" fill="#1a1a1a" stroke="#1a1a1a" stroke-width="0.12" textLength="57.4" lengthAdjust="spacingAndGlyphs">Metazoa_SRP-59</text>
<text x="71.6" y="416.54" font-size="7.5" text-anchor="end" fill="#1a1a1a" stroke="#1a1a1a" stroke-width="0.12">JCHAIN</text>
<text x="71.6" y="423.80" font-size="7.5" text-anchor="end" fill="#1a1a1a" stroke="#1a1a1a" stroke-width="0.12">GAGE12H</text>
<text x="71.6" y="431.05" font-size="7.5" text-anchor="end" fill="#1a1a1a" stroke="#1a1a1a" stroke-width="0.12">HRASLS2</text>
<text x="71.6" y="438.31" font-size="7.5" text-anchor="end" fill="#1a1a1a" stroke="#1a1a1a" stroke-width="0.12">FAM3B</text>
<text x="71.6" y="445.57" font-size="7.5" text-anchor="end" fill="#1a1a1a" stroke="#1a1a1a" stroke-width="0.12">S100A11</text>
<text x="71.6" y="452.83" font-size="7.5" text-anchor="end" fill="#1a1a1a" stroke="#1a1a1a" stroke-width="0.12">DUSP4</text>
<text x="71.6" y="460.08" font-size="7.5" text-anchor="end" fill="#1a1a1a" stroke="#1a1a1a" stroke-width="0.12">RGS2</text>
<text x="71.6" y="467.34" font-size="7.5" text-anchor="end" fill="#1a1a1a" stroke="#1a1a1a" stroke-width="0.12">ACTG1</text>
<text x="71.6" y="474.60" font-size="7.5" text-anchor="end" fill="#1a1a1a" stroke="#1a1a1a" stroke-width="0.12">CTAG2</text>
<text x="71.6" y="481.85" font-size="7.5" text-anchor="end" fill="#1a1a1a" stroke="#1a1a1a" stroke-width="0.12">LINC01980</text>
<text x="71.6" y="489.11" font-size="7.5" text-anchor="end" fill="#1a1a1a" stroke="#1a1a1a" stroke-width="0.12">SPINK5</text>
<text x="71.6" y="496.37" font-size="7.5" text-anchor="end" fill="#1a1a1a" stroke="#1a1a1a" stroke-width="0.12">CLECL1</text>
<text x="71.6" y="503.62" font-size="7.5" text-anchor="end" fill="#1a1a1a" stroke="#1a1a1a" stroke-width="0.12">LAMP5</text>
<text x="71.6" y="510.88" font-size="7.5" text-anchor="end" fill="#1a1a1a" stroke="#1a1a1a" stroke-width="0.12">GTSF1</text>
<text x="71.6" y="518.14" font-size="7.5" text-anchor="end" fill="#1a1a1a" stroke="#1a1a1a" stroke-width="0.12">TMSB10</text>
<text x="71.6" y="525.39" font-size="7.5" text-anchor="end" fill="#1a1a1a" stroke="#1a1a1a" stroke-width="0.12">MORC1</text>
<text x="71.6" y="532.65" font-size="7.5" text-anchor="end" fill="#1a1a1a" stroke="#1a1a1a" stroke-width="0.12">S100A4</text>
<text x="71.6" y="539.91" font-size="7.5" text-anchor="end" fill="#1a1a1a" stroke="#1a1a1a" stroke-width="0.12">CTHRC1</text>
<text x="71.6" y="547.17" font-size="7.5" text-anchor="end" fill="#1a1a1a" stroke="#1a1a1a" stroke-width="0.12">ANXA2</text>
<text x="71.6" y="554.42" font-size="7.5" text-anchor="end" fill="#1a1a1a" stroke="#1a1a1a" stroke-width="0.12">H1F0</text>
<defs><filter id="hb" x="-1%" y="-1%" width="102%" height="102%"><feGaussianBlur stdDeviation="0.35 0.45"/></filter><clipPath id="hc"><rect x="74" y="265.3" width="405" height="290.3"/></clipPath></defs>
<g clip-path="url(#hc)"><g filter="url(#hb)" shape-rendering="crispEdges" fill="none">
<path stroke="#0c0c24" stroke-width="7" d="M74 276.5h1m1 0h2m26 0h2m3 0h2m2 0h2m8 0h1m7 0h5m16 0h1m3 0h1m2 0h3m12 0h2m36 0h3m5 0h1m24 0h1m12 0h1m2 0h3m1 0h3m1 0h9m1 0h10m1 0h8m1 0h5m1 0h8m3 0h2m1 0h7m1 0h13m3 0h8m1 0h13m2 0h3m1 0h21m1 0h4m1 0h24m1 0h4m2 0h6m7 0h1m1 0h5m11 0h3m2 0h5m1 0h2m1 0h2m1 0h2m-370 29h1m8 0h1m79 0h2m9 0h1m23 0h3m2 0h1m17 0h1m1 0h1m4 0h3m2 0h2m24 0h2m9 0h4m7 0h4m8 0h5m13 0h2m12 0h1m16 0h3m1 0h1m17 0h1m6 0h4m4 0h2m2 0h3m6 0h8m17 0h3m1 0h2m7 0h3m7 0h2m-172 7h1m22 0h2m6 0h1m43 0h1m6 0h2m-302 22h3m5 0h1m9 0h1m11 0h2m4 0h1m7 0h3m7 0h2m28 0h1m2 0h2m3 0h2m3 0h3m10 0h1m3 0h1m1 0h2m6 0h2m2 0h1m10 0h1m4 0h2m11 0h3m4 0h1m3 0h4m2 0h6m3 0h3m3 0h3m7 0h3m3 0h3m9 0h3m2 0h4m1 0h4m2 0h3m3 0h3m4 0h2m3 0h2m3 0h2m1 0h4m4 0h6m1 0h7m1 0h2m1 0h1m8 0h6m1 0h2m5 0h1m9 0h4m2 0h2m4 0h11m5 0h2m1 0h5m3 0h3m1 0h4m8 0h2m3 0h3m1 0h8m-390 7h5m9 0h2m8 0h3m43 0h1m9 0h3m8 0h2m25 0h3m49 0h2m2 0h6m3 0h2m1 0h4m5 0h1m1 0h2m4 0h2m2 0h2m9 0h2m1 0h6m2 0h2m3 0h1m3 0h2m3 0h2m6 0h3m1 0h6m7 0h3m2 0h2m1 0h5m1 0h4m1 0h2m5 0h1m3 0h3m3 0h1m1 0h3m1 0h4m3 0h2m2 0h3m1 0h4m8 0h2m1 0h4m1 0h2m10 0h4m3 0h4m3 0h4m2 0h3m2 0h10m-396 22h2m2 0h2m1 0h1m7 0h3m8 0h3m5 0h3m1 0h5m9 0h3m12 0h3m7 0h1m12 0h2m2 0h2m1 0h2m3 0h2m1 0h2m14 0h1m3 0h1m10 0h2m5 0h3m2 0h4m5 0h3m1 0h3m2 0h2m14 0h4m7 0h2m3 0h3m1 0h4m4 0h2m2 0h2m2 0h1m6 0h2m1 0h2m1 0h2m1 0h3m2 0h1m4 0h3m11 0h8m1 0h4m1 0h7m1 0h2m3 0h2m6 0h2m4 0h4m2 0h2m3 0h3m1 0h4m7 0h6m1 0h2m2 0h8m3 0h1m6 0h3m3 0h6m3 0h2m1 0h4m2 0h6m3 0h1m1 0h2m1 0h3m-390 7h1m298 0h2m-18 7h1m-298 15h1m2 0h2m77 0h2m4 0h2m16 0h2m34 0h1m35 0h1m6 0h1m21 0h1m3 0h1m8 0h5m14 0h2m6 0h2m9 0h1m11 0h3m5 0h2m14 0h3m3 0h2m10 0h3m67 0h2m1 0h2m14 0h3m-404 7h1m6 0h3m1 0h3m1 0h4m4 0h1m17 0h1m1 0h2m17 0h2m21 0h2m3 0h1m14 0h2m1 0h2m3 0h2m1 0h3m10 0h2m6 0h1m3 0h1m4 0h1m6 0h2m16 0h2m11 0h2m15 0h1m2 0h5m1 0h2m3 0h5m1 0h9m8 0h5m2 0h6m1 0h2m1 0h4m4 0h1m3 0h5m4 0h3m3 0h2m2 0h2m3 0h3m1 0h2m17 0h4m1 0h4m1 0h4m5 0h5m1 0h3m11 0h1m3 0h2m1 0h2m1 0h1m4 0h15m2 0h5m1 0h4m4 0h6m-405 7h1m8 0h5m18 0h2m9 0h2m4 0h3m1 0h3m1 0h2m3 0h2m7 0h3m1 0h2m5 0h2m8 0h2m3 0h5m9 0h6m1 0h4m6 0h2m2 0h2m7 0h3m3 0h8m4 0h2m5 0h3m10 0h1m5 0h4m1 0h9m1 0h2m3 0h2m4 0h8m3 0h2m1 0h4m1 0h7m1 0h5m2 0h7m2 0h2m6 0h9m1 0h4m1 0h7m1 0h9m1 0h2m3 0h12m1 0h3m5 0h3m1 0h9m1 0h2m1 0h4m4 0h6m2 0h5m5 0h2m2 0h1m3 0h4m1 0h10m1 0h2m3 0h8m1 0h3m-405 15h5m1 0h13m1 0h22m1 0h6m1 0h8m1 0h21m1 0h50m1 0h8m1 0h21m1 0h13m2 0h5m64 0h1m-248 7h1m7 0h4m4 0h1m7 0h2m7 0h2m1 0h9m3 0h2m17 0h3m4 0h7m1 0h1m6 0h6m7 0h1m1 0h2m8 0h3m1 0h2m1 0h4m4 0h3m1 0h5m3 0h1m1 0h2m7 0h3m16 0h4m6 0h2m-183 7h5m1 0h16m3 0h8m1 0h7m3 0h18m1 0h3m1 0h6m1 0h4m1 0h12m1 0h19m1 0h2m1 0h4m1 0h4m1 0h10m3 0h7m1 0h4m1 0h14m1 0h2m1 0h4m1 0h6m1 0h3m21 0h2m4 0h1m35 0h1m18 0h1m3 0h1m106 0h1m-378 15h3m1 0h13m3 0h2m1 0h3m1 0h3m4 0h6m1 0h45m1 0h13m2 0h5m1 0h5m3 0h10m2 0h3m1 0h2m1 0h3m1 0h14m3 0h10m1 0h10m1 0h5m6 0h1m46 0h2m1 0h1m20 0h2m11 0h2m15 0h1m30 0h2m57 0h3m-381 7h2m2 0h2m3 0h3m12 0h2m5 0h2m1 0h4m5 0h1m36 0h2m16 0h2m8 0h3m6 0h2m1 0h2m12 0h6m4 0h2m1 0h1m4 0h3m10 0h3m7 0h3m1 0h2m-179 7h2m19 0h3m8 0h2m6 0h1m66 0h2m7 0h1m8 0h2m6 0h2m-138 15h7m1 0h6m1 0h8m1 0h5m3 0h2m1 0h11m1 0h23m1 0h11m1 0h44m1 0h26m2 0h25m7 0h1m3 0h2m5 0h2m39 0h2m19 0h1m51 0h1m22 0h2m11 0h1m-351 7h35m1 0h3m1 0h33m1 0h9m1 0h3m3 0h7m1 0h4m1 0h16m1 0h8m1 0h29m1 0h7m1 0h18m24 0h1m15 0h1m8 0h2m37 0h1m14 0h1m51 0h2m8 0h4m27 0h3m-384 15h1m9 0h2m3 0h3m2 0h4m1 0h4m6 0h4m2 0h6m5 0h2m4 0h2m1 0h5m2 0h2m3 0h4m4 0h2m6 0h5m4 0h5m5 0h2m8 0h2m6 0h2m2 0h2m1 0h9m3 0h3m3 0h1m4 0h3m1 0h4m1 0h4m1 0h3m1 0h7m207 0h1m-389 7h4m1 0h2m1 0h5m1 0h18m1 0h2m1 0h28m1 0h6m1 0h14m1 0h5m3 0h7m1 0h4m1 0h6m1 0h7m1 0h9m1 0h27m1 0h12m1 0h6m2 0h2m8 0h2m55 0h2m4 0h2m29 0h1m3 0h4m76 0h2m1 0h2m29 0h1m-405 29h1m34 0h1m11 0h2m12 0h2m9 0h3m18 0h1m37 0h2m3 0h1m3 0h2m9 0h4m3 0h1m2 0h2m2 0h2m3 0h1m-171 7h1m163 0h1m8 0h2"/>
<path stroke="#0c0c24" stroke-width="8" d="M262 269h4m1 0h2m1 0h3m3 0h2m2 0h4m1 0h3m1 0h6m4 0h3m1 0h3m7 0h5m1 0h9m1 0h1m3 0h2m3 0h3m1 0h10m1 0h2m1 0h2m3 0h4m2 0h2m4 0h6m4 0h9m2 0h2m1 0h5m4 0h2m2 0h2m1 0h10m1 0h8m6 0h2m3 0h3m10 0h5m1 0h4m1 0h4m6 0h2m-221 29h1m26 0h2m126 0h1m14 0h2m-322 29h2m8 0h4m63 0h2m7 0h1m20 0h1m9 0h2m12 0h2m20 0h3m1 0h3m1 0h3m1 0h13m1 0h6m7 0h2m2 0h4m12 0h3m6 0h1m3 0h2m3 0h2m2 0h2m1 0h6m1 0h5m1 0h2m1 0h2m3 0h3m3 0h5m1 0h3m1 0h6m7 0h3m5 0h2m3 0h2m1 0h2m4 0h4m5 0h6m8 0h2m1 0h4m4 0h2m1 0h2m2 0h3m3 0h1m1 0h4m3 0h6m-337 29h1m14 0h1m8 0h1m26 0h2m56 0h2m5 0h3m7 0h3m9 0h2m8 0h3m3 0h2m22 0h2m5 0h1m10 0h1m1 0h6m5 0h1m5 0h2m32 0h1m3 0h2m1 0h2m9 0h2m12 0h2m4 0h5m8 0h3m3 0h1m6 0h2m4 0h2m1 0h3m4 0h4m-217 29h1m-171 29h1m60 0h1m4 0h1m63 0h2m27 0h1m-160 29h1m62 0h2m13 0h1m-93 29h5m1 0h8m1 0h26m5 0h6m1 0h3m1 0h2m1 0h2m3 0h2m1 0h5m2 0h12m6 0h2m1 0h4m1 0h7m5 0h3m3 0h2m1 0h4m1 0h3m3 0h4m7 0h10m1 0h6m6 0h7m4 0h5m28 0h1m41 0h1m-248 22h2m7 0h1m17 0h3m1 0h2m16 0h2m3 0h2m7 0h3m2 0h2m6 0h3m5 0h2m3 0h2m3 0h1m44 0h2m7 0h2m1 0h3m3 0h2m13 0h3m220 0h2m-403 29h4m1 0h3m1 0h20m3 0h15m1 0h24m1 0h6m1 0h4m3 0h7m1 0h8m1 0h11m1 0h10m1 0h10m3 0h22m1 0h7m1 0h6m1 0h6m10 0h1m23 0h1m8 0h1m22 0h2m74 0h2m26 0h1m47 0h2m-404 29h5m2 0h21m1 0h8m1 0h12m2 0h16m1 0h18m1 0h6m1 0h7m1 0h16m1 0h8m1 0h1m3 0h2m1 0h17m2 0h6m1 0h2m2 0h3m1 0h11m2 0h3m4 0h2m3 0h2m56 0h6m1 0h2m6 0h2m54 0h1m35 0h1m8 0h2m5 0h2"/>
<path stroke="#180c24" stroke-width="7" d="M80 276.5h1m4 0h1m2 0h1m6 0h1m12 0h1m9 0h1m2 0h1m2 0h1m11 0h1m3 0h1m9 0h1m2 0h1m1 0h1m9 0h1m4 0h1m1 0h1m5 0h1m7 0h1m10 0h1m4 0h1m1 0h1m2 0h1m8 0h1m1 0h1m2 0h1m10 0h1m5 0h1m7 0h1m67 0h1m121 0h1m2 0h1m1 0h1m9 0h1m2 0h1m1 0h1m1 0h1m-238 7h1m63 0h1m3 0h1m28 0h1m2 0h1m22 0h1m10 0h1m14 0h1m8 0h2m3 0h1m33 0h1m5 0h1m5 0h1m3 0h1m2 0h1m9 0h1m4 0h1m17 0h1m-387 22h1m2 0h1m6 0h1m2 0h1m3 0h1m6 0h1m8 0h1m7 0h1m5 0h1m3 0h1m10 0h1m7 0h1m2 0h1m2 0h1m7 0h1m6 0h1m10 0h1m1 0h1m21 0h1m3 0h1m3 0h1m1 0h1m3 0h1m3 0h1m2 0h1m7 0h1m1 0h1m4 0h1m1 0h1m6 0h1m5 0h1m9 0h1m1 0h1m2 0h1m7 0h1m1 0h1m1 0h1m1 0h1m6 0h1m3 0h1m1 0h1m6 0h1m1 0h1m1 0h1m5 0h1m4 0h1m13 0h1m3 0h1m10 0h1m1 0h1m4 0h1m1 0h1m5 0h1m1 0h1m10 0h1m4 0h1m4 0h1m1 0h1m1 0h1m3 0h1m3 0h1m18 0h1m16 0h1m2 0h1m3 0h1m14 0h1m5 0h1m2 0h1m-384 7h1m81 0h1m88 0h1m3 0h1m22 0h1m12 0h1m4 0h1m13 0h1m2 0h1m1 0h1m11 0h1m7 0h1m4 0h1m18 0h1m2 0h1m8 0h1m25 0h1m6 0h1m8 0h1m1 0h2m2 0h1m11 0h1m27 0h1m5 0h1m-351 7h1m140 0h1m63 0h1m1 0h1m78 0h1m-327 15h1m8 0h1m1 0h1m3 0h1m7 0h1m2 0h1m2 0h1m3 0h1m3 0h1m1 0h1m13 0h1m2 0h1m4 0h1m5 0h1m1 0h1m1 0h1m2 0h1m6 0h2m1 0h2m1 0h1m6 0h1m4 0h1m4 0h1m5 0h1m4 0h1m1 0h1m8 0h1m6 0h1m4 0h1m3 0h1m8 0h1m5 0h1m9 0h1m9 0h1m7 0h1m4 0h1m1 0h1m7 0h1m5 0h1m6 0h1m2 0h1m24 0h1m5 0h1m5 0h1m4 0h1m9 0h1m1 0h1m19 0h1m3 0h1m1 0h1m12 0h1m1 0h1m5 0h1m2 0h1m10 0h1m14 0h1m1 0h1m10 0h1m9 0h1m1 0h1m1 0h1m1 0h1m-384 7h1m2 0h1m4 0h1m12 0h1m6 0h1m3 0h1m10 0h1m6 0h1m11 0h1m2 0h1m2 0h1m1 0h1m5 0h1m2 0h1m1 0h1m4 0h1m4 0h1m19 0h1m8 0h1m2 0h1m11 0h1m2 0h1m1 0h1m9 0h1m4 0h1m3 0h1m4 0h1m4 0h1m5 0h1m26 0h1m3 0h1m4 0h1m10 0h1m5 0h1m14 0h1m1 0h1m2 0h1m4 0h1m4 0h1m2 0h1m12 0h1m1 0h1m1 0h1m23 0h1m1 0h1m2 0h1m1 0h1m3 0h1m1 0h1m31 0h1m12 0h1m1 0h1m3 0h1m7 0h1m-371 22h1m11 0h1m21 0h1m17 0h1m8 0h1m1 0h1m2 0h1m1 0h1m6 0h1m2 0h1m1 0h1m7 0h1m3 0h1m11 0h1m17 0h1m1 0h1m5 0h1m1 0h1m3 0h1m36 0h1m7 0h1m1 0h1m7 0h1m4 0h1m3 0h1m11 0h1m10 0h1m2 0h1m1 0h1m15 0h1m2 0h1m4 0h1m1 0h1m2 0h1m1 0h1m28 0h1m11 0h1m11 0h1m10 0h1m2 0h1m25 0h1m1 0h1m6 0h1m26 0h1m1 0h1m-383 7h1m80 0h1m90 0h1m4 0h1m12 0h1m18 0h1m25 0h1m7 0h1m36 0h1m11 0h1m30 0h1m19 0h1m9 0h1m36 0h1m-157 7h1m8 0h1m12 0h1m16 0h1m9 0h1m52 0h1m3 0h1m42 0h1m4 0h1m-395 15h1m2 0h1m1 0h1m2 0h1m6 0h1m1 0h1m1 0h1m1 0h1m14 0h2m4 0h1m4 0h1m12 0h1m1 0h2m4 0h1m3 0h1m13 0h1m2 0h1m1 0h1m9 0h1m6 0h2m6 0h1m1 0h1m3 0h1m4 0h1m4 0h1m1 0h1m2 0h1m2 0h1m10 0h1m4 0h1m1 0h1m4 0h1m3 0h1m1 0h1m2 0h1m6 0h1m1 0h1m5 0h1m3 0h1m3 0h1m3 0h1m5 0h1m1 0h1m1 0h1m13 0h1m4 0h1m6 0h1m10 0h1m2 0h1m2 0h1m1 0h1m3 0h1m2 0h1m5 0h1m1 0h1m3 0h1m1 0h1m7 0h1m7 0h1m11 0h1m5 0h1m6 0h1m4 0h1m7 0h1m10 0h1m7 0h1m2 0h1m7 0h1m4 0h1m2 0h1m3 0h1m16 0h1m2 0h1m-396 7h1m18 0h1m1 0h1m2 0h1m12 0h1m7 0h1m6 0h1m4 0h1m3 0h1m3 0h1m2 0h1m11 0h1m4 0h1m2 0h1m2 0h1m3 0h1m2 0h1m1 0h1m7 0h1m14 0h1m11 0h1m1 0h1m4 0h1m2 0h1m6 0h1m1 0h1m1 0h1m1 0h1m3 0h2m9 0h1m12 0h1m1 0h1m1 0h1m1 0h1m4 0h1m11 0h1m18 0h1m2 0h1m1 0h1m24 0h1m2 0h1m7 0h1m1 0h1m22 0h1m1 0h1m2 0h1m2 0h1m2 0h1m1 0h1m19 0h1m15 0h1m3 0h1m3 0h1m9 0h1m1 0h1m28 0h1m1 0h1m-397 7h1m4 0h1m15 0h1m1 0h1m5 0h1m6 0h1m1 0h1m26 0h1m1 0h1m11 0h1m4 0h1m18 0h1m5 0h1m12 0h1m13 0h1m1 0h1m6 0h1m10 0h1m6 0h1m5 0h1m1 0h1m5 0h1m3 0h1m20 0h1m4 0h1m11 0h1m37 0h1m57 0h1m1 0h1m25 0h1m15 0h1m1 0h1m6 0h1m1 0h1m19 0h1m-209 15h1m10 0h1m16 0h1m20 0h1m13 0h1m22 0h1m26 0h1m11 0h1m4 0h1m35 0h1m-347 7h1m2 0h1m7 0h1m2 0h1m1 0h1m1 0h1m5 0h1m1 0h1m21 0h1m4 0h1m1 0h1m2 0h1m4 0h1m4 0h1m11 0h1m14 0h1m2 0h1m5 0h1m2 0h1m27 0h1m1 0h1m5 0h1m8 0h1m1 0h1m2 0h1m1 0h1m1 0h1m4 0h1m6 0h1m1 0h1m4 0h1m6 0h1m21 0h1m26 0h1m7 0h1m25 0h1m22 0h1m33 0h1m18 0h2m2 0h1m-331 7h1m17 0h1m1 0h1m92 0h1m51 0h1m8 0h1m12 0h1m1 0h1m8 0h1m8 0h1m2 0h1m12 0h1m1 0h1m7 0h1m4 0h1m3 0h1m3 0h1m11 0h1m10 0h1m2 0h1m13 0h1m10 0h2m19 0h1m5 0h1m1 0h1m1 0h1m15 0h1m3 0h1m1 0h1m4 0h1m4 0h1m1 0h1m-368 15h1m13 0h1m81 0h1m39 0h1m28 0h1m6 0h1m3 0h1m5 0h1m10 0h2m1 0h1m3 0h1m21 0h1m9 0h1m8 0h1m9 0h1m12 0h1m1 0h1m4 0h1m5 0h1m4 0h1m16 0h1m16 0h1m9 0h1m7 0h1m1 0h1m2 0h1m4 0h1m6 0h1m3 0h2m9 0h1m14 0h1m2 0h1m-402 7h1m12 0h1m1 0h1m5 0h1m8 0h1m9 0h1m1 0h1m2 0h1m5 0h1m3 0h1m8 0h1m2 0h1m1 0h1m2 0h1m4 0h1m7 0h1m5 0h1m3 0h1m2 0h1m4 0h1m2 0h1m1 0h1m18 0h1m5 0h1m9 0h1m5 0h1m1 0h1m5 0h1m6 0h1m8 0h1m15 0h1m2 0h1m13 0h1m3 0h1m44 0h1m51 0h1m16 0h2m7 0h1m4 0h1m7 0h1m25 0h1m4 0h1m22 0h1m-396 7h1m1 0h1m4 0h1m9 0h1m5 0h1m1 0h1m6 0h1m4 0h1m3 0h1m15 0h1m1 0h1m2 0h1m3 0h1m5 0h1m4 0h1m5 0h1m2 0h2m1 0h2m6 0h1m1 0h1m10 0h1m4 0h1m5 0h1m4 0h1m1 0h1m8 0h1m9 0h1m10 0h1m3 0h2m6 0h1m1 0h1m32 0h2m34 0h1m-217 15h1m151 0h1m6 0h1m5 0h1m7 0h1m7 0h1m10 0h1m4 0h1m2 0h1m6 0h1m8 0h1m15 0h1m1 0h1m3 0h1m15 0h1m11 0h1m15 0h1m1 0h1m2 0h1m3 0h1m13 0h1m12 0h1m11 0h1m10 0h1m8 0h1m2 0h1m19 0h1m-317 7h1m101 0h1m3 0h1m13 0h1m2 0h1m8 0h1m1 0h1m1 0h1m2 0h1m9 0h1m2 0h1m6 0h1m1 0h1m2 0h1m3 0h1m7 0h1m4 0h1m4 0h1m8 0h1m3 0h1m10 0h1m6 0h1m2 0h1m9 0h1m1 0h1m8 0h1m2 0h1m10 0h1m17 0h1m3 0h1m1 0h1m3 0h1m1 0h1m1 0h1m13 0h1m1 0h1m12 0h1m-402 15h1m1 0h1m7 0h1m16 0h1m1 0h1m17 0h1m4 0h1m15 0h1m12 0h1m2 0h1m7 0h1m1 0h1m9 0h1m4 0h1m1 0h1m1 0h1m4 0h1m2 0h1m17 0h1m1 0h1m5 0h1m1 0h1m1 0h1m42 0h1m14 0h1m34 0h1m6 0h1m24 0h1m2 0h1m14 0h1m1 0h1m13 0h1m3 0h1m1 0h1m5 0h1m45 0h1m10 0h1m6 0h1m2 0h1m10 0h1m-311 7h1m91 0h1m4 0h1m7 0h1m1 0h2m10 0h1m4 0h1m5 0h1m3 0h1m12 0h1m3 0h1m14 0h1m1 0h1m4 0h1m3 0h1m1 0h1m7 0h1m6 0h1m1 0h1m5 0h1m11 0h1m2 0h1m3 0h1m1 0h1m2 0h1m13 0h1m5 0h1m6 0h1m7 0h1m2 0h1m3 0h1m4 0h1m1 0h1m12 0h1m3 0h2m12 0h1m-386 22h1m161 0h1m70 0h1m-243 7h1m14 0h1m2 0h1m4 0h1m1 0h1m5 0h1m3 0h1m1 0h1m3 0h1m21 0h1m6 0h1m1 0h2m4 0h1m2 0h1m5 0h1m1 0h1m3 0h1m6 0h1m1 0h1m12 0h1m7 0h1m4 0h1m1 0h1m11 0h1m7 0h1m1 0h1m13 0h1m2 0h1m1 0h1m20 0h1m13 0h1m61 0h1m25 0h1m-294 7h1m1 0h1m6 0h1m8 0h1m3 0h1m6 0h1m2 0h1m2 0h1m10 0h1m8 0h1m2 0h1m6 0h2m19 0h1m24 0h1m11 0h1m2 0h1m32 0h1m1 0h2m7 0h1m70 0h1"/>
<path stroke="#180c24" stroke-width="8" d="M218 269h1m39 0h1m1 0h1m12 0h1m1 0h1m19 0h1m1 0h1m8 0h1m1 0h1m21 0h1m5 0h1m22 0h1m10 0h1m10 0h1m22 0h1m28 0h1m2 0h1m3 0h1m6 0h1m2 0h1m1 0h1m19 0h1m2 0h1m-214 29h1m3 0h1m4 0h1m1 0h1m14 0h1m2 0h1m11 0h1m3 0h1m13 0h1m8 0h1m1 0h1m8 0h1m2 0h1m6 0h1m3 0h1m32 0h1m3 0h1m6 0h1m10 0h1m1 0h1m5 0h1m3 0h1m29 0h1m2 0h1m4 0h1m1 0h1m4 0h1m-385 29h1m4 0h1m10 0h1m1 0h1m2 0h1m6 0h1m2 0h1m2 0h1m5 0h1m1 0h1m1 0h1m1 0h1m1 0h1m5 0h1m4 0h1m1 0h1m6 0h1m1 0h2m1 0h1m14 0h1m3 0h1m3 0h1m1 0h1m11 0h1m2 0h1m3 0h1m8 0h1m4 0h1m7 0h1m8 0h1m3 0h2m1 0h1m11 0h1m8 0h1m35 0h1m2 0h1m9 0h1m1 0h1m5 0h1m8 0h1m4 0h1m1 0h1m31 0h1m5 0h1m18 0h1m1 0h1m1 0h1m5 0h1m1 0h1m4 0h1m7 0h1m7 0h1m12 0h1m25 0h1m1 0h1m6 0h1m-395 29h1m1 0h1m1 0h1m11 0h1m5 0h1m13 0h1m4 0h1m6 0h1m1 0h1m9 0h1m1 0h1m4 0h1m1 0h1m12 0h1m8 0h1m5 0h1m1 0h1m5 0h1m3 0h1m18 0h1m6 0h1m8 0h1m2 0h1m2 0h1m26 0h1m9 0h1m2 0h1m10 0h1m5 0h1m1 0h1m1 0h1m5 0h1m6 0h1m1 0h1m2 0h1m3 0h1m3 0h1m1 0h1m1 0h1m5 0h1m1 0h1m2 0h1m1 0h1m3 0h1m2 0h1m12 0h1m1 0h1m3 0h1m8 0h1m7 0h1m2 0h1m11 0h1m1 0h1m1 0h1m9 0h1m2 0h1m7 0h1m2 0h1m1 0h1m2 0h1m5 0h1m11 0h1m9 0h1m2 0h1m17 0h1m-317 29h1m30 0h1m29 0h1m58 0h1m6 0h1m1 0h1m2 0h1m60 0h1m8 0h1m1 0h1m25 0h1m4 0h1m1 0h1m17 0h1m13 0h1m5 0h1m4 0h1m16 0h1m-378 29h1m7 0h1m2 0h1m3 0h1m2 0h1m9 0h1m15 0h1m5 0h1m9 0h2m3 0h1m10 0h1m4 0h1m23 0h2m33 0h1m5 0h1m5 0h1m11 0h1m7 0h1m-162 29h1m1 0h1m22 0h1m21 0h1m6 0h1m14 0h1m12 0h1m13 0h1m16 0h1m27 0h1m11 0h1m2 0h1m6 0h1m195 0h1m-327 29h1m43 0h1m1 0h1m18 0h1m1 0h1m19 0h1m6 0h1m2 0h1m22 0h1m11 0h1m35 0h1m20 0h1m2 0h1m14 0h1m2 0h1m14 0h1m83 0h1m3 0h1m1 0h1m14 0h1m-364 22h1m4 0h1m6 0h1m3 0h1m13 0h1m2 0h1m13 0h1m6 0h1m26 0h1m1 0h1m2 0h1m1 0h1m1 0h1m2 0h1m2 0h1m4 0h1m3 0h1m5 0h1m6 0h1m1 0h1m2 0h1m2 0h1m2 0h1m1 0h1m1 0h1m2 0h1m1 0h2m10 0h1m14 0h1m11 0h1m80 0h1m3 0h1m47 0h1m16 0h1m-309 29h1m54 0h1m52 0h1m47 0h1m6 0h1m3 0h1m12 0h1m1 0h1m1 0h2m1 0h1m8 0h1m12 0h1m1 0h1m26 0h1m3 0h1m24 0h1m3 0h1m6 0h1m4 0h1m1 0h1m5 0h1m19 0h1m4 0h1m5 0h1m2 0h1m2 0h1m1 0h1m5 0h1m4 0h1m1 0h1m4 0h1m5 0h1m11 0h1m-267 29h1m1 0h1m54 0h1m5 0h1m11 0h1m2 0h1m20 0h1m6 0h1m2 0h1m2 0h1m19 0h1m3 0h1m4 0h1m7 0h1m4 0h1m2 0h1m6 0h1m1 0h1m3 0h1m2 0h1m1 0h1m7 0h1m5 0h1m1 0h1m1 0h1m5 0h1m3 0h2m6 0h1m1 0h1m5 0h1m9 0h1m15 0h1m4 0h1m9 0h1m6 0h1m6 0h1"/>
<path stroke="#240c24" stroke-width="7" d="M190 276.5h1m2 0h1m29 0h1m18 0h1m-40 7h1m46 0h1m141 0h1m11 0h1m-314 22h1m73 0h1m-65 7h1m15 0h1m5 0h1m33 0h1m15 0h1m11 0h1m26 0h1m37 0h1m40 0h1m81 0h1m23 0h1m2 0h1m14 0h1m-190 7h1m23 0h1m119 0h1m50 0h1m1 0h1m34 0h1m-381 15h1m49 0h1m35 7h1m10 0h1m42 0h1m204 7h1m-227 15h1m-120 7h1m32 0h1m127 0h1m46 0h1m11 0h1m71 0h1m2 0h1m1 0h1m42 0h1m43 0h1m-340 7h1m30 0h1m2 0h1m23 0h1m4 0h1m39 0h1m210 0h1m26 0h1m8 0h1m-348 15h1m48 0h1m1 0h1m23 0h1m116 0h1m95 0h1m11 0h1m-302 7h1m116 0h1m175 0h1m-118 22h1m14 0h1m104 0h1m36 0h1m-80 7h1m38 0h1m22 0h1m14 0h1m-144 7h1m4 0h1m8 0h1m108 0h1m2 0h1m-145 15h1m81 0h1m67 0h1m-310 7h1m139 0h1m26 0h1m35 0h1m2 0h1m36 0h1m5 0h1m1 0h1m68 0h1m-362 7h1m19 0h1m56 0h1m2 0h1m152 0h1m53 0h1m73 0h1m-106 15h1m15 0h1m53 0h1m10 0h1m28 0h1m-95 7h1m41 0h1m66 0h1m-212 15h1m113 0h1m-122 7h1m18 0h1m1 0h1m23 0h1m33 0h1m66 0h1m57 0h1m-321 22h1m14 0h1m23 0h1m34 0h1m11 0h1m35 0h1m105 0h1m52 0h1m-235 7h1m181 0h1m7 0h1m48 0h1m-216 7h1m18 0h1m11 0h1m137 0h1"/>
<path stroke="#240c24" stroke-width="8" d="M91 269h1m26 0h1m96 0h1m22 0h1m11 0h1m2 0h1m2 0h1m-84 29h1m76 0h1m26 0h1m79 0h1m19 0h1m-282 29h1m-13 29h1m1 0h1m33 0h1m80 0h1m36 0h1m-159 29h1m61 0h1m60 0h1m1 0h1m44 0h1m165 0h1m41 0h1m-379 29h1m76 0h1m17 0h1m1 0h1m5 0h1m1 0h1m2 0h1m43 0h1m17 0h1m-117 29h1m12 0h1m27 0h1m95 0h1m56 0h1m27 0h1m38 0h1m25 0h1m-158 29h1m36 0h1m28 0h1m1 0h1m13 0h1m61 0h1m57 0h1m-199 22h1m59 0h1m4 0h1m5 0h1m23 0h1m94 0h1m-98 29h1m104 29h1"/>
<path stroke="#240c30" stroke-width="7" d="M258 312.5h1m-1 80h1m-1 14h1m-1 29h1"/>
<path stroke="#240c30" stroke-width="8" d="M258 327h1m-1 196h1"/>
<path stroke="#241824" stroke-width="8" d="M114 414h1m16 0h1m41 0h1m25 0h1"/>
<path stroke="#300c24" stroke-width="7" d="M258 457.5h1"/>
<path stroke="#300c30" stroke-width="7" d="M258 363.5h1"/>
<path stroke="#300c30" stroke-width="8" d="M258 494h1"/>
<path stroke="#3c0c3c" stroke-width="7" d="M264 276.5h1m33 0h1m71 0h1m84 0h1m-194 29h1m9 0h1m38 0h1m1 0h1m-136 29h1m116 0h1m46 0h1m44 0h1m16 0h1m25 0h1m10 0h1m5 0h1m-234 7h1m68 0h1m23 0h1m40 0h1m3 0h1m81 0h1m13 0h1m-136 22h1m48 0h1m-48 29h1m-232 7h1m3 0h1m97 0h1m47 0h1m29 0h1m176 0h1m-246 7h1m35 0h1m30 0h1m86 0h1m17 0h1m50 0h1m17 0h1m26 0h1m-386 15h1m52 0h1m21 0h1m-66 7h1m19 0h1m34 0h1m10 0h1m88 0h1m-109 7h1m87 0h1m14 0h1m-149 15h1m8 0h1m80 0h1m-64 7h1m132 7h1m-146 15h1m50 0h1m98 0h1m-110 7h1m-60 15h1m68 0h1m75 0h1m13 0h1m-88 7h1m35 0h1m50 0h1m1 29h1"/>
<path stroke="#3c0c3c" stroke-width="8" d="M328 269h1m94 0h1m13 0h1m28 0h1m-107 58h1m2 0h1m13 0h1m3 0h1m10 0h1m-256 29h1m148 0h1m70 29h1m-270 87h1m93 0h1m3 0h1m8 0h1m8 0h1m25 22h1m3 0h1m-24 29h1m102 0h1m131 0h1m-271 29h1m167 0h1m71 0h1"/>
<path stroke="#480c30" stroke-width="7" d="M258 370.5h1m-1 51h1m-1 29h1m-1 29h1m-1 58h1"/>
<path stroke="#480c30" stroke-width="8" d="M258 472h1"/>
<path stroke="#480c3c" stroke-width="7" d="M75 276.5h1m3 0h1m42 0h1m48 0h1m1 0h1m11 0h1m12 0h1m16 0h1m52 0h1m9 0h1m36 0h1m35 0h1m14 0h1m25 0h1m4 0h1m24 0h1m12 0h1m1 0h1m15 0h1m5 0h1m13 0h1m2 0h1m-219 7h1m27 0h1m136 0h1m5 0h1m-342 22h1m58 0h1m73 0h1m23 0h1m14 0h1m5 0h1m3 0h1m12 0h1m1 0h1m1 0h1m8 0h1m5 0h1m30 0h1m11 0h1m42 0h1m16 0h1m15 0h1m19 0h1m2 0h1m-147 7h1m20 0h1m48 0h1m69 0h1m1 0h1m-183 7h1m-177 15h1m13 0h1m22 0h1m4 0h1m15 0h1m35 0h1m6 0h1m18 0h1m11 0h1m52 0h1m1 0h1m53 0h1m7 0h1m3 0h1m1 0h1m2 0h1m19 0h1m30 0h1m9 0h2m25 0h1m3 0h1m35 0h1m-393 7h1m9 0h1m52 0h1m2 0h1m1 0h1m52 0h1m11 0h1m82 0h1m5 0h1m5 0h1m9 0h1m7 0h1m4 0h1m1 0h1m2 0h1m2 0h1m1 0h1m21 0h1m13 0h1m2 0h1m29 0h1m19 0h1m13 0h1m2 0h1m18 0h1m5 0h1m-389 22h1m1 0h1m3 0h1m10 0h1m22 0h1m9 0h1m10 0h1m13 0h1m19 0h1m24 0h1m17 0h1m10 0h1m29 0h1m18 0h1m5 0h1m4 0h1m2 0h1m37 0h1m4 0h1m1 0h1m42 0h1m9 0h1m1 0h1m3 0h1m57 0h1m4 0h1m-195 7h1m57 0h1m-66 7h1m-172 15h1m129 0h1m1 0h2m1 0h1m59 0h1m6 0h1m9 0h1m31 0h1m11 0h1m21 0h1m7 0h1m2 0h1m8 0h1m5 0h1m41 0h1m21 0h1m2 0h1m12 0h1m1 0h1m-358 7h1m29 0h1m34 0h1m2 0h1m25 0h1m15 0h1m5 0h1m27 0h1m1 0h1m3 0h1m9 0h1m17 0h1m9 0h1m1 0h1m2 0h1m1 0h1m6 0h1m9 0h1m20 0h1m8 0h2m8 0h1m18 0h1m4 0h1m32 0h1m32 0h1m5 0h1m-384 7h1m34 0h1m38 0h1m2 0h1m32 0h1m20 0h1m65 0h1m2 0h1m11 0h1m1 0h1m15 0h1m5 0h1m40 0h1m12 0h1m1 0h1m20 0h1m3 0h1m12 0h1m5 0h1m-295 15h1m-43 7h1m12 0h1m7 0h1m3 0h1m12 0h1m4 0h1m1 0h1m2 0h1m6 0h1m43 0h1m10 0h1m14 0h1m26 0h1m3 0h1m1 0h1m9 0h1m-152 7h1m8 0h1m32 0h1m11 0h1m32 0h1m2 0h1m9 0h1m20 0h1m27 0h1m108 0h1m89 0h1m1 0h1m9 0h1m-382 15h1m15 0h1m20 0h1m45 0h1m14 0h1m11 0h1m13 0h1m3 0h1m2 0h1m53 0h1m49 0h1m44 0h1m51 0h1m47 0h1m19 0h1m-387 7h1m22 0h1m1 0h1m8 0h1m69 0h1m7 0h1m5 0h1m9 0h1m2 0h1m4 0h1m3 0h1m22 0h1m10 0h1m-178 7h1m120 0h1m-121 15h1m8 0h1m46 0h1m84 0h1m38 0h1m41 0h1m1 0h1m-205 7h1m47 0h1m5 0h1m7 0h1m21 0h1m8 0h1m29 0h1m7 0h1m54 0h1m24 0h1m59 0h1m42 0h1m4 0h1m11 0h1m21 0h1m-385 15h1m4 0h1m2 0h1m5 0h2m4 0h1m29 0h1m1 0h1m3 0h1m5 0h1m3 0h1m1 0h1m21 0h1m18 0h1m11 0h1m2 0h1m35 0h1m4 0h1m144 0h1m-308 7h1m5 0h1m18 0h1m2 0h1m28 0h1m29 0h1m19 0h1m45 0h1m30 0h1m5 0h1m56 0h1m2 0h1m2 0h1m6 0h1m3 0h1m9 0h1m12 0h1m20 0h1m39 0h1m13 0h1m12 0h1m-382 29h1m2 0h1m24 0h1m4 0h1m36 0h1m34 0h1m60 0h1m-161 7h1m32 0h1m1 0h1m132 0h1"/>
<path stroke="#480c3c" stroke-width="8" d="M261 269h1m26 0h1m9 0h1m19 0h1m33 0h1m5 0h1m1 0h1m21 0h1m9 0h1m12 0h1m2 0h1m3 0h1m33 0h1m4 0h1m9 0h1m-175 29h1m1 0h2m52 0h1m117 0h1m-292 29h1m5 0h1m7 0h1m2 0h1m7 0h1m14 0h1m49 0h1m56 0h1m51 0h1m28 0h1m8 0h1m2 0h1m4 0h1m26 0h1m22 0h1m-391 29h1m17 0h1m33 0h1m28 0h1m64 0h1m39 0h1m2 0h1m2 0h1m33 0h1m8 0h1m5 0h1m5 0h1m1 0h1m14 0h1m24 0h1m32 0h1m3 0h1m10 0h1m4 0h1m4 0h1m3 0h1m1 0h1m12 0h1m3 0h1m7 0h1m3 0h1m17 0h1m-86 29h1m-307 58h1m65 0h1m2 0h1m73 0h1m-102 29h1m3 0h1m30 0h1m1 0h1m10 0h1m9 0h1m15 0h1m10 0h1m25 0h1m10 0h1m185 0h1m-347 22h1m9 0h1m7 0h1m3 0h1m3 0h1m16 0h1m1 0h1m6 0h1m9 0h1m40 0h1m12 0h1m5 0h1m40 0h1m-149 29h1m1 0h1m15 0h1m36 0h1m18 0h1m11 0h1m61 0h1m7 0h1m128 0h1m38 0h1m20 0h1m4 0h1m-352 29h1m8 0h1m97 0h1m17 0h1m7 0h1m3 0h1m3 0h1m11 0h1m4 0h1m22 0h1m33 0h1m34 0h1m4 0h1m4 0h1m25 0h1m5 0h1m4 0h1"/>
<path stroke="#48183c" stroke-width="7" d="M235 276.5h1m129 0h1m19 7h1m-267 22h1m22 0h2m9 0h1m98 0h1m73 0h1m32 0h1m12 0h2m38 0h1m13 0h1m46 0h1m-132 7h1m-213 22h1m75 0h2m71 0h1m-165 7h1m19 0h1m66 0h2m34 0h1m76 0h1m-231 22h1m248 0h1m69 0h1m12 0h2m16 0h1m6 0h1m-148 7h1m36 0h1m52 0h2m22 0h1m5 0h1m25 0h1m-113 7h1m-89 15h1m35 0h1m114 0h1m44 0h1m15 0h1m-361 7h1m8 0h1m204 0h1m66 0h2m26 0h1m18 0h1m35 0h1m-325 7h1m1 0h1m119 0h1m79 0h1m80 0h1m-338 22h1m7 0h1m8 0h2m22 0h1m13 0h1m2 0h1m8 0h1m26 0h1m13 0h1m11 0h1m21 0h1m137 7h1m10 0h2m41 0h1m41 0h2m4 0h1m-364 22h1m72 0h1m15 0h1m4 0h1m-116 7h1m148 0h1m105 15h2m40 0h1m24 0h2m12 0h1m13 0h2m12 0h1m-98 7h1m85 0h1m27 0h1m-384 15h2m30 0h1m15 0h1m36 0h1m35 0h2m149 7h1m25 0h1m75 0h1m-363 29h3m23 0h1m10 0h1m19 0h1m14 0h1m33 0h1"/>
<path stroke="#48183c" stroke-width="8" d="M332 269h1m38 0h2m6 0h2m-58 29h1m70 0h1m28 0h1m18 0h1m-338 29h1m6 0h1m35 0h2m66 0h1m124 0h1m74 0h1m17 0h1m12 0h2m-368 29h1m46 0h1m5 0h1m29 0h1m21 0h1m27 0h1m50 0h1m120 0h2m12 0h1m36 0h1m13 0h1m2 0h1m-191 29h1m20 0h1m-161 29h1m22 0h1m-26 29h1m16 0h1m-24 29h1m118 0h1m12 0h1m-175 22h1m11 0h1m17 0h1m7 0h1m41 0h1m6 0h1m22 0h1m55 0h1m1 0h1m4 0h1m33 29h1m60 0h1m5 0h1m24 0h1m27 0h1m18 0h1m20 0h2m-365 29h2m147 0h1m27 0h1m14 0h1m17 0h1m14 0h1m68 0h1m15 0h1m2 0h1m48 0h1m10 0h1"/>
<path stroke="#540c30" stroke-width="7" d="M309 305.5h1m70 0h1m-148 29h1m-145 29h1m22 0h1m156 0h1m196 43h1m8 0h1m-282 22h1m63 0h1m-112 7h1m-41 15h1m35 7h1m-46 7h1m159 0h1m-150 15h1m66 7h1m-72 15h1m19 0h1m132 0h1m-1 43h1"/>
<path stroke="#540c30" stroke-width="8" d="M299 327h1m163 29h1m-206 87h1m-180 29h1m126 0h1m21 0h1m-16 51h1m71 0h1"/>
<path stroke="#540c3c" stroke-width="7" d="M78 276.5h1m2 0h1m4 0h2m14 0h2m11 0h1m1 0h1m12 0h1m8 0h1m11 0h1m5 0h2m8 0h1m8 0h1m24 0h1m1 0h1m5 0h1m1 0h1m7 0h1m10 0h2m1 0h1m25 0h2m28 0h1m14 0h1m13 0h1m7 0h1m15 0h1m84 0h1m15 0h1m5 0h2m1 0h1m4 0h1m5 0h2m5 0h1m-187 7h1m5 0h1m6 0h2m29 0h1m14 0h1m1 0h1m10 0h1m5 0h1m8 0h2m44 0h1m13 0h1m16 0h1m-374 22h1m6 0h1m12 0h2m13 0h1m10 0h1m2 0h1m5 0h1m3 0h1m1 0h1m3 0h1m3 0h2m9 0h2m1 0h1m2 0h1m23 0h1m7 0h1m6 0h1m14 0h1m9 0h1m1 0h1m1 0h2m1 0h1m4 0h1m21 0h1m7 0h1m9 0h1m1 0h1m24 0h1m10 0h1m18 0h1m2 0h2m3 0h1m1 0h1m3 0h1m4 0h1m1 0h1m1 0h1m6 0h1m5 0h1m20 0h1m1 0h1m1 0h1m1 0h2m12 0h1m1 0h1m2 0h1m5 0h1m12 0h1m3 0h1m8 0h1m6 0h1m5 0h1m2 0h1m7 0h1m1 0h1m2 0h2m-308 7h1m88 0h1m1 0h1m24 0h1m12 0h1m5 0h1m3 0h1m11 0h1m2 0h1m4 0h1m6 0h1m9 0h1m18 0h1m4 0h1m9 0h1m24 0h1m13 0h1m16 0h1m13 0h1m16 0h1m7 0h1m-214 7h1m65 0h1m-244 15h1m10 0h1m13 0h1m23 0h1m11 0h1m5 0h1m4 0h1m14 0h1m7 0h1m8 0h2m4 0h1m8 0h1m2 0h1m1 0h1m2 0h1m5 0h1m19 0h1m1 0h1m10 0h1m1 0h1m27 0h1m1 0h2m5 0h1m6 0h1m1 0h4m3 0h2m4 0h1m4 0h1m6 0h1m3 0h1m15 0h1m4 0h1m17 0h1m2 0h1m4 0h1m1 0h1m1 0h1m15 0h1m2 0h1m13 0h1m2 0h1m18 0h1m7 0h1m11 0h1m1 0h1m4 0h1m1 0h1m12 0h1m-404 7h1m2 0h1m1 0h1m30 0h1m3 0h1m1 0h2m15 0h1m2 0h1m1 0h1m2 0h1m8 0h1m1 0h2m4 0h1m18 0h1m2 0h1m1 0h1m11 0h1m6 0h1m6 0h1m2 0h1m14 0h1m4 0h3m1 0h1m7 0h1m3 0h3m1 0h1m15 0h2m3 0h1m23 0h1m27 0h1m9 0h1m6 0h1m12 0h1m3 0h1m9 0h1m9 0h1m1 0h1m11 0h1m3 0h1m4 0h1m1 0h1m3 0h1m3 0h1m4 0h1m4 0h1m1 0h1m7 0h1m4 0h1m5 0h1m7 0h1m4 0h1m1 0h1m9 0h1m-367 22h1m4 0h1m1 0h1m17 0h2m10 0h1m4 0h2m11 0h1m11 0h1m7 0h1m2 0h1m4 0h1m2 0h1m2 0h2m13 0h1m8 0h1m10 0h1m4 0h1m8 0h1m3 0h1m3 0h1m3 0h1m5 0h1m3 0h1m2 0h1m6 0h1m8 0h1m9 0h1m4 0h1m3 0h2m3 0h1m5 0h1m5 0h1m4 0h1m10 0h1m6 0h1m9 0h1m4 0h1m16 0h5m2 0h1m2 0h1m4 0h1m14 0h1m1 0h1m10 0h1m19 0h1m1 0h1m12 0h1m21 0h1m6 0h1m-203 7h1m44 0h1m9 0h1m6 0h2m49 0h1m18 0h1m2 0h3m21 0h1m8 0h1m13 0h1m17 0h1m-115 7h1m24 0h1m40 0h1m27 0h1m19 0h1m-402 15h1m4 0h1m2 0h1m4 0h1m1 0h1m38 0h1m4 0h3m15 0h1m1 0h1m6 0h1m4 0h1m2 0h1m25 0h2m1 0h1m6 0h1m1 0h1m15 0h1m3 0h1m7 0h2m1 0h1m1 0h1m2 0h1m1 0h1m1 0h1m3 0h1m12 0h1m8 0h1m9 0h2m6 0h3m6 0h1m4 0h2m3 0h1m12 0h1m4 0h2m6 0h1m3 0h1m6 0h1m18 0h2m3 0h1m11 0h1m27 0h1m18 0h1m8 0h1m1 0h1m2 0h1m1 0h1m14 0h1m2 0h1m1 0h1m1 0h1m1 0h1m3 0h1m3 0h1m-401 7h1m1 0h1m30 0h1m9 0h1m6 0h1m6 0h1m5 0h1m2 0h1m4 0h1m8 0h1m2 0h1m1 0h1m14 0h1m14 0h1m5 0h1m1 0h1m5 0h1m1 0h1m11 0h1m1 0h1m25 0h1m1 0h1m9 0h1m6 0h1m1 0h2m5 0h1m5 0h1m4 0h1m28 0h1m7 0h1m7 0h1m2 0h1m3 0h1m12 0h1m1 0h1m6 0h1m20 0h1m21 0h2m5 0h1m9 0h1m3 0h1m9 0h1m-355 7h1m5 0h1m2 0h2m6 0h1m2 0h2m1 0h1m6 0h1m6 0h1m6 0h1m3 0h1m3 0h1m3 0h1m2 0h1m6 0h1m3 0h1m8 0h1m6 0h1m7 0h2m3 0h1m17 0h3m3 0h1m2 0h2m4 0h1m3 0h1m24 0h1m4 0h1m8 0h1m15 0h1m2 0h1m6 0h2m18 0h1m14 0h1m12 0h1m2 0h1m37 0h1m13 0h1m6 0h1m14 0h1m17 0h2m5 0h1m27 0h1m-369 15h1m22 0h1m88 0h1m8 0h1m21 0h1m13 0h2m9 0h2m4 0h1m18 0h1m18 0h1m36 0h1m37 0h2m4 0h1m37 0h1m40 0h1m10 0h1m-391 7h1m13 0h1m3 0h2m22 0h1m4 0h1m13 0h1m14 0h1m6 0h1m1 0h1m5 0h1m7 0h1m30 0h1m2 0h1m2 0h1m2 0h1m6 0h1m9 0h1m8 0h1m1 0h2m-176 7h1m16 0h1m96 0h1m15 0h1m1 0h1m30 0h1m16 0h1m10 0h1m10 0h1m20 0h2m2 0h1m24 0h1m4 0h1m17 0h1m23 0h1m3 0h1m16 0h1m14 0h1m1 0h1m5 0h1m19 0h3m4 0h2m9 0h1m6 0h1m6 0h1m-370 15h1m83 0h1m10 0h1m26 0h1m1 0h1m10 0h1m10 0h1m15 0h1m1 0h2m4 0h1m6 0h1m26 0h1m7 0h1m3 0h1m20 0h1m3 0h1m21 0h1m6 0h1m8 0h2m11 0h3m1 0h2m32 0h1m6 0h1m10 0h1m7 0h1m13 0h1m2 0h1m-401 7h2m2 0h3m8 0h1m1 0h1m3 0h1m2 0h1m3 0h1m20 0h1m1 0h1m8 0h1m1 0h1m5 0h1m1 0h1m6 0h1m2 0h1m2 0h2m2 0h1m3 0h1m6 0h1m2 0h2m7 0h1m15 0h1m11 0h1m16 0h1m4 0h1m10 0h2m6 0h1m26 0h1m144 0h1m12 0h1m1 0h1m3 0h1m4 0h1m-352 7h1m1 0h1m1 0h1m2 0h1m9 0h2m1 0h1m13 0h1m1 0h1m1 0h1m2 0h1m9 0h2m23 0h1m8 0h1m12 0h1m9 0h1m28 0h1m107 0h1m-274 15h1m7 0h1m21 0h1m124 0h1m32 0h1m3 0h1m4 0h1m4 0h1m8 0h1m28 0h1m5 0h1m10 0h1m3 0h1m8 0h1m11 0h2m4 0h1m9 0h2m17 0h1m1 0h1m1 0h1m5 0h1m34 0h1m-324 7h1m156 0h2m4 0h1m7 0h1m22 0h1m2 0h1m1 0h1m3 0h1m5 0h1m4 0h3m1 0h1m14 0h1m11 0h1m4 0h1m17 0h1m1 0h1m20 0h2m6 0h2m2 0h1m12 0h1m18 0h1m-369 15h2m21 0h1m9 0h2m16 0h1m9 0h1m9 0h4m7 0h1m21 0h1m4 0h1m1 0h1m2 0h1m8 0h1m2 0h1m15 0h1m6 0h1m55 0h1m36 0h1m4 0h1m24 0h1m19 0h1m-295 7h1m66 0h1m20 0h1m9 0h1m4 0h1m24 0h1m47 0h2m4 0h2m23 0h1m4 0h1m26 0h1m4 0h1m2 0h1m6 0h1m9 0h2m8 0h2m3 0h1m12 0h1m11 0h1m4 0h1m4 0h1m13 0h1m7 0h1m1 0h1m4 0h1m5 0h1m2 0h1m1 0h1m8 0h1m24 0h1m3 0h1m3 0h1m2 0h1m-398 29h1m1 0h1m17 0h2m3 0h1m1 0h1m9 0h1m5 0h1m8 0h1m1 0h1m2 0h1m18 0h1m4 0h1m11 0h1m8 0h1m1 0h1m1 0h1m10 0h1m6 0h1m8 0h1m2 0h1m5 0h3m8 0h2m2 0h2m3 0h1m4 0h1m8 0h1m13 0h1m103 0h1m-300 7h2m1 0h2m3 0h1m19 0h1m6 0h2m13 0h1m33 0h1m15 0h1m10 0h1m5 0h1m14 0h1m29 0h1m8 0h1m4 0h1"/>
<path stroke="#540c3c" stroke-width="8" d="M259 269h1m9 0h1m8 0h2m4 0h1m17 0h1m9 0h1m22 0h1m5 0h1m13 0h1m9 0h2m2 0h1m23 0h1m2 0h1m6 0h1m28 0h1m15 0h1m6 0h1m20 0h1m-372 29h1m153 0h3m3 0h1m1 0h2m1 0h1m1 0h1m19 0h1m7 0h1m3 0h2m5 0h1m10 0h1m50 0h1m13 0h1m1 0h1m3 0h1m33 0h1m2 0h1m1 0h1m20 0h1m12 0h1m-392 29h1m3 0h1m4 0h1m2 0h1m12 0h1m6 0h1m2 0h1m11 0h1m1 0h1m1 0h1m5 0h1m3 0h1m6 0h1m13 0h1m24 0h2m15 0h1m20 0h1m7 0h3m1 0h1m31 0h1m3 0h1m3 0h1m13 0h1m7 0h1m1 0h1m6 0h1m7 0h1m3 0h1m3 0h1m3 0h1m2 0h1m8 0h1m1 0h1m2 0h1m3 0h1m6 0h1m5 0h1m7 0h1m5 0h1m16 0h1m1 0h1m3 0h1m5 0h1m4 0h1m7 0h1m7 0h1m1 0h1m1 0h1m6 0h1m3 0h1m2 0h1m9 0h2m2 0h1m3 0h1m-381 29h1m1 0h1m14 0h2m15 0h1m6 0h1m4 0h1m1 0h1m9 0h1m5 0h1m19 0h3m1 0h1m8 0h1m4 0h2m14 0h1m7 0h1m14 0h2m2 0h1m4 0h1m6 0h1m27 0h1m8 0h1m4 0h1m2 0h1m2 0h1m1 0h1m14 0h1m3 0h2m2 0h2m10 0h1m6 0h1m4 0h2m27 0h1m2 0h1m8 0h1m1 0h2m9 0h1m8 0h1m8 0h2m1 0h1m8 0h1m3 0h2m17 0h1m1 0h1m5 0h2m12 0h1m6 0h1m-195 29h1m6 0h1m28 0h1m11 0h1m24 0h1m4 0h1m3 0h1m54 0h1m-328 29h1m56 0h1m86 0h1m-134 29h1m14 0h1m1 0h1m5 0h1m47 0h1m5 0h2m9 0h1m2 0h2m50 0h1m1 0h1m10 0h1m-132 29h1m13 0h1m2 0h3m2 0h1m23 0h2m2 0h1m20 0h3m21 0h1m1 0h2m17 0h1m4 0h1m10 0h1m5 0h1m53 0h1m14 0h1m15 0h1m17 0h1m18 0h1m8 0h1m43 0h1m16 0h1m20 0h1m-392 22h1m2 0h1m1 0h1m15 0h1m1 0h2m15 0h1m1 0h2m13 0h1m5 0h1m3 0h2m11 0h1m1 0h1m15 0h1m1 0h1m15 0h1m2 0h1m10 0h1m3 0h1m1 0h1m11 0h1m8 0h1m5 0h1m6 0h1m227 0h2m-326 29h1m6 0h1m39 0h1m35 0h1m35 0h3m4 0h1m3 0h1m12 0h1m5 0h1m20 0h1m2 0h2m1 0h1m17 0h2m1 0h2m12 0h1m29 0h1m4 0h1m3 0h1m15 0h1m13 0h1m1 0h1m18 0h1m2 0h1m11 0h1m-346 29h1m17 0h1m18 0h1m31 0h1m8 0h1m35 0h1m24 0h1m2 0h1m1 0h1m11 0h2m5 0h2m12 0h2m9 0h1m2 0h1m3 0h1m6 0h1m6 0h1m5 0h1m1 0h1m9 0h1m2 0h1m1 0h1m10 0h1m1 0h1m8 0h1m22 0h1m16 0h1m6 0h1m16 0h1m2 0h1m7 0h1m1 0h1m5 0h1m1 0h1m5 0h2"/>
<path stroke="#54183c" stroke-width="7" d="M90 276.5h1m50 0h1m2 0h1m84 0h1m6 0h1m13 0h1m11 7h1m8 0h1m23 0h2m17 0h1m5 0h1m25 0h1m16 0h1m25 0h1m5 0h1m46 0h2m18 0h1m2 0h1m10 0h1m-401 22h1m36 0h1m6 0h1m18 0h1m68 0h1m41 0h1m2 0h1m68 0h1m26 0h1m1 0h1m23 0h1m8 0h1m52 0h1m22 0h1m9 0h1m-210 7h1m23 0h1m9 0h1m36 0h1m19 0h1m22 0h2m16 0h1m15 0h1m1 0h1m36 0h1m28 0h1m-216 7h1m23 0h1m56 0h1m-259 15h1m15 0h1m60 0h1m118 0h1m115 0h1m80 0h1m-394 7h1m6 0h1m1 0h1m3 0h1m128 0h1m13 0h1m59 0h1m115 0h1m38 0h1m-382 22h2m37 0h1m47 0h1m36 0h1m12 0h1m194 0h1m20 0h1m-262 7h1m77 0h1m57 0h1m6 0h1m22 0h1m50 0h1m29 0h1m6 0h1m21 0h1m1 0h1m2 0h1m3 0h1m-157 7h1m13 0h1m53 0h1m-274 15h1m1 0h1m43 0h1m21 0h1m19 0h1m6 0h1m24 0h1m45 0h1m13 0h1m6 0h1m41 0h1m38 0h1m2 0h1m30 0h1m42 0h1m17 0h1m8 0h1m-370 7h1m10 0h1m3 0h1m44 0h1m42 0h1m10 0h1m28 0h1m15 0h1m18 0h1m81 0h1m8 0h1m22 0h1m-279 7h1m55 0h1m70 0h1m28 15h1m1 0h1m105 0h1m6 0h1m65 0h1m16 0h1m12 0h1m-338 7h1m20 0h1m1 0h1m38 0h1m22 0h1m138 0h1m-81 7h1m51 0h1m39 0h1m4 0h1m9 0h1m7 0h1m10 0h1m9 0h1m8 0h1m5 0h1m28 0h1m2 0h1m-195 15h1m6 0h2m20 0h1m17 0h1m1 0h1m18 0h2m13 0h1m10 0h1m13 0h1m43 0h2m27 0h1m-359 7h1m28 0h1m67 0h1m8 0h1m87 0h1m-200 7h1m124 0h1m39 0h1m37 15h1m5 0h1m18 0h1m12 0h1m30 0h1m18 0h1m24 0h1m23 0h1m10 0h1m6 0h1m-93 7h1m32 0h1m44 0h1m37 0h1m-294 15h1m126 0h1m4 7h2m38 0h1m21 0h1m1 0h1m20 0h1m15 0h1m5 0h1m33 0h1m1 0h1m3 0h1m11 0h1m1 0h1m3 0h1m-390 29h1m19 0h1m11 0h1m14 0h1m20 0h1m20 0h1m11 0h1m4 0h1m3 0h1m58 0h1m65 0h1m69 0h1m-308 7h1m3 0h1m32 0h1m200 0h1m72 0h1m80 0h1"/>
<path stroke="#54183c" stroke-width="8" d="M139 298h1m173 0h1m12 0h1m8 0h1m28 0h1m19 0h1m10 0h1m28 0h1m33 0h1m10 0h1m-392 29h1m3 0h1m64 0h1m11 0h2m4 0h1m6 0h1m46 0h1m24 0h1m12 0h1m56 0h1m21 0h1m100 0h1m-333 29h1m2 0h1m20 0h1m30 0h1m9 0h1m6 0h1m9 0h1m10 0h1m7 0h1m33 0h1m2 0h1m11 0h2m78 0h1m18 0h1m15 0h2m6 0h3m77 0h1m-273 29h1m52 0h1m25 0h1m28 0h1m3 0h1m31 0h1m12 0h1m19 0h1m12 0h1m18 0h1m57 0h1m17 0h1m-325 29h1m58 0h1m1 0h1m-135 29h1m20 0h1m4 0h1m21 0h1m3 0h1m17 0h1m16 0h1m8 0h1m50 0h1m12 0h1m25 0h1m-145 29h1m154 0h1m11 0h1m38 0h1m35 0h1m25 0h1m4 0h1m33 0h1m21 0h1m32 0h1m-403 22h1m6 0h1m39 0h1m1 0h1m27 0h1m30 0h1m41 0h1m18 0h1m228 0h1m-206 29h1m38 0h1m2 0h1m5 0h1m3 0h1m6 0h1m28 0h1m1 0h1m3 0h1m1 0h1m18 0h1m19 0h1m8 0h1m41 0h1m5 0h4m3 0h1m-195 29h1m11 0h1m35 0h1m27 0h1m4 0h1m9 0h1m10 0h1m6 0h1m1 0h1m4 0h1m14 0h1m23 0h1m10 0h1m17 0h1m17 0h1"/>
<path stroke="#600c30" stroke-width="7" d="M112 276.5h1m6 0h1m193 0h1m-117 29h1m122 7h1m48 0h1m-236 22h1m8 0h1m265 0h2m48 0h1m-110 7h1m11 0h1m75 0h1m-293 22h1m14 0h1m10 0h1m9 0h1m277 0h1m13 0h1m-46 7h1m-88 7h1m-246 15h1m1 0h1m1 0h1m56 0h1m5 0h1m184 0h1m1 0h1m37 0h1m-201 7h1m12 0h1m194 0h1m74 0h1m-378 7h1m69 0h1m73 0h1m7 0h1m50 0h1m27 0h2m17 0h1m89 0h1m14 0h1m-375 22h1m1 0h1m86 7h1m-70 15h1m115 0h1m194 0h1m19 0h1m-227 7h1m-81 22h1m80 0h1m103 0h1m131 7h1m5 0h1m1 0h1m-55 15h1m-93 7h1m84 0h1m60 0h1"/>
<path stroke="#600c30" stroke-width="8" d="M337 269h1m111 0h1m21 0h1m-141 29h1m82 0h1m-285 29h1m19 0h1m29 0h1m221 0h1m-153 29h1m63 0h1m-33 29h1m-202 29h1m167 29h1m-38 51h1m-135 29h1m3 0h1m85 0h1m-1 29h1m233 0h1"/>
<path stroke="#600c3c" stroke-width="7" d="M84 276.5h1m4 0h1m4 0h1m1 0h1m4 0h1m9 0h1m16 0h2m17 0h2m15 0h1m1 0h1m1 0h2m7 0h1m1 0h1m4 0h1m11 0h1m2 0h2m9 0h1m15 0h1m7 0h1m4 0h1m4 0h1m6 0h5m1 0h1m82 0h2m86 0h1m9 0h1m-217 7h1m40 0h2m5 0h1m4 0h1m4 0h2m24 0h1m6 0h1m3 0h1m9 0h1m14 0h1m4 0h2m3 0h1m8 0h1m11 0h2m36 0h2m3 0h1m4 0h2m5 0h1m6 0h1m13 0h1m1 0h1m1 0h1m15 0h1m8 0h1m-405 22h1m4 0h3m1 0h1m5 0h1m9 0h2m11 0h1m9 0h1m9 0h2m3 0h1m3 0h1m6 0h1m13 0h1m4 0h1m2 0h1m18 0h1m2 0h1m3 0h1m4 0h2m9 0h2m3 0h1m4 0h1m21 0h1m30 0h1m2 0h1m1 0h1m1 0h1m10 0h1m41 0h2m3 0h2m10 0h1m21 0h1m1 0h1m8 0h2m2 0h2m19 0h1m27 0h1m3 0h1m2 0h1m3 0h2m7 0h1m4 0h1m-387 7h1m69 0h1m84 0h1m12 0h2m5 0h2m11 0h1m1 0h2m4 0h3m2 0h1m9 0h1m7 0h2m3 0h1m10 0h2m12 0h1m6 0h1m4 0h1m1 0h1m3 0h2m5 0h1m8 0h1m2 0h3m19 0h2m2 0h3m16 0h1m19 0h1m7 0h1m4 0h1m1 0h1m8 0h1m2 0h2m3 0h3m3 0h1m5 0h1m-351 7h1m142 0h1m1 0h1m17 0h1m17 0h1m6 0h1m9 0h2m5 0h1m36 0h1m22 0h2m10 0h1m45 0h1m30 0h1m-396 15h1m8 0h2m8 0h1m2 0h2m5 0h1m14 0h1m22 0h2m11 0h1m10 0h1m19 0h1m2 0h1m24 0h1m1 0h2m3 0h1m2 0h1m4 0h1m1 0h2m3 0h2m3 0h1m5 0h1m43 0h1m21 0h1m12 0h1m42 0h1m14 0h1m24 0h1m47 0h1m-384 7h1m1 0h1m1 0h1m12 0h1m2 0h1m4 0h2m1 0h1m13 0h1m3 0h1m1 0h2m1 0h1m2 0h1m11 0h1m2 0h1m12 0h1m9 0h2m7 0h1m1 0h1m6 0h1m5 0h1m3 0h1m3 0h1m16 0h3m18 0h1m2 0h2m5 0h2m1 0h2m3 0h1m8 0h1m19 0h1m3 0h1m5 0h1m2 0h1m99 0h1m17 0h1m18 0h1m23 0h1m-390 22h1m6 0h1m12 0h3m5 0h4m1 0h1m8 0h1m11 0h2m2 0h1m16 0h1m13 0h1m5 0h2m21 0h2m13 0h1m9 0h1m3 0h1m1 0h2m13 0h1m9 0h1m7 0h1m6 0h1m32 0h1m23 0h1m19 0h1m29 0h1m16 0h1m41 0h1m20 0h2m-344 7h2m2 0h1m26 0h1m17 0h1m13 0h1m4 0h1m4 0h2m63 0h1m3 0h1m11 0h2m41 0h2m4 0h1m2 0h1m1 0h1m1 0h3m3 0h1m1 0h1m9 0h2m2 0h1m2 0h1m8 0h2m3 0h1m3 0h1m6 0h1m38 0h1m8 0h1m11 0h1m5 0h1m1 0h1m20 0h1m1 0h1m6 0h1m7 0h1m-207 7h1m4 0h1m10 0h2m3 0h2m6 0h1m11 0h1m4 0h3m5 0h1m38 0h1m1 0h1m8 0h1m13 0h1m1 0h1m15 0h3m7 0h1m24 0h1m3 0h1m11 0h1m1 0h1m9 0h1m1 0h1m7 0h1m-402 15h1m2 0h1m23 0h1m8 0h2m6 0h1m3 0h1m8 0h1m5 0h2m14 0h1m9 0h1m7 0h1m19 0h2m11 0h1m2 0h1m2 0h1m11 0h3m1 0h1m2 0h1m2 0h1m7 0h1m3 0h1m16 0h1m1 0h1m8 0h1m26 0h1m1 0h1m7 0h2m24 0h2m18 0h1m5 0h1m13 0h1m2 0h2m18 0h1m2 0h1m4 0h1m10 0h2m1 0h2m4 0h1m5 0h2m2 0h1m4 0h1m3 0h1m17 0h1m1 0h1m-393 7h1m3 0h1m20 0h1m3 0h1m1 0h1m3 0h1m1 0h1m6 0h1m3 0h1m3 0h1m3 0h3m6 0h1m6 0h1m2 0h2m15 0h1m2 0h2m22 0h1m3 0h1m6 0h2m9 0h1m7 0h2m18 0h1m2 0h2m129 0h1m1 0h1m42 0h1m6 0h1m-353 7h1m10 0h2m2 0h2m20 0h1m35 0h1m1 0h1m6 0h1m9 0h1m9 0h1m1 0h1m15 0h1m5 0h1m5 0h1m18 0h2m18 0h1m83 0h1m106 0h2m-182 15h1m2 0h1m46 0h1m11 0h1m5 0h1m27 0h1m14 0h1m12 0h2m2 0h1m5 0h2m3 0h2m12 0h2m17 0h1m13 0h2m13 0h1m4 0h1m3 0h1m6 0h1m-403 7h1m45 0h1m5 0h1m32 0h1m9 0h1m12 0h1m17 0h2m21 0h1m15 0h1m25 0h1m18 0h1m16 0h1m11 0h1m7 0h1m19 0h1m5 0h1m39 0h1m39 0h1m16 0h1m2 0h1m3 0h1m-190 7h2m1 0h2m7 0h1m1 0h2m14 0h2m2 0h1m3 0h1m3 0h1m9 0h1m9 0h1m6 0h1m4 0h1m3 0h1m15 0h2m1 0h1m3 0h1m2 0h1m4 0h1m8 0h1m5 0h1m2 0h2m6 0h1m4 0h1m2 0h1m2 0h1m2 0h1m13 0h1m1 0h3m3 0h1m31 0h1m1 0h1m4 0h1m-370 15h1m155 0h2m4 0h1m6 0h1m7 0h1m1 0h1m5 0h1m1 0h1m30 0h2m12 0h2m7 0h1m21 0h1m3 0h1m11 0h1m10 0h1m8 0h4m3 0h1m18 0h1m2 0h1m29 0h2m6 0h3m-381 7h1m4 0h1m5 0h2m19 0h1m3 0h1m2 0h2m12 0h1m3 0h3m2 0h1m4 0h1m3 0h1m25 0h1m8 0h1m7 0h2m9 0h1m16 0h1m1 0h2m8 0h1m12 0h2m5 0h1m3 0h1m11 0h2m2 0h1m10 0h1m23 0h2m15 0h1m8 0h1m35 0h1m25 0h1m10 0h1m22 0h1m10 0h1m19 0h1m-401 7h2m16 0h2m13 0h1m16 0h3m8 0h1m8 0h2m1 0h1m10 0h1m3 0h1m18 0h2m1 0h1m6 0h3m5 0h1m13 0h1m4 0h2m8 0h2m2 0h1m7 0h1m14 0h1m132 0h1m57 0h1m-188 15h2m12 0h1m3 0h1m12 0h1m5 0h1m7 0h1m2 0h1m2 0h1m8 0h1m2 0h2m18 0h1m15 0h1m5 0h1m5 0h1m4 0h1m5 0h4m12 0h2m5 0h1m10 0h1m2 0h1m6 0h2m7 0h1m7 0h3m4 0h1m4 0h1m1 0h2m1 0h1m7 0h1m2 0h1m-212 7h1m7 0h1m6 0h2m1 0h1m15 0h1m10 0h3m8 0h1m1 0h1m1 0h1m12 0h1m2 0h1m6 0h1m16 0h1m4 0h2m4 0h2m1 0h1m1 0h1m15 0h1m3 0h1m1 0h2m3 0h1m4 0h1m3 0h1m6 0h5m8 0h1m2 0h1m2 0h1m12 0h1m1 0h1m1 0h1m11 0h1m7 0h1m-393 15h1m38 0h1m55 0h1m1 0h1m101 0h1m7 0h1m35 0h2m4 0h3m17 0h1m3 0h1m14 0h1m5 0h1m7 0h2m3 0h2m9 0h1m4 0h1m5 0h2m9 0h1m4 0h4m10 0h1m2 0h1m22 0h1m10 0h1m-209 7h1m11 0h1m4 0h1m7 0h2m1 0h2m13 0h1m2 0h1m3 0h2m4 0h2m28 0h1m1 0h2m17 0h1m8 0h1m11 0h3m7 0h1m6 0h1m7 0h2m1 0h1m9 0h1m15 0h1m12 0h1m-377 22h1m155 0h1m3 0h1m-174 7h2m3 0h1m1 0h1m1 0h1m4 0h3m3 0h1m2 0h1m12 0h1m12 0h1m2 0h1m9 0h3m2 0h1m11 0h1m15 0h1m2 0h1m8 0h1m1 0h1m12 0h4m9 0h2m4 0h2m1 0h1m22 0h1m7 0h1m5 0h1m28 0h1m24 0h1m21 0h1m12 0h1m1 0h1m32 0h2m14 0h3m7 0h2m2 0h3m-315 7h1m8 0h1m4 0h1m3 0h1m5 0h2m9 0h1m7 0h1m17 0h3m10 0h2m5 0h1m4 0h1m3 0h2m24 0h1m1 0h2m3 0h1m4 0h2m34 0h1m213 0h1"/>
<path stroke="#600c3c" stroke-width="8" d="M85 269h1m131 0h1m91 0h3m90 0h1m6 0h1m24 0h1m18 0h2m-351 29h1m35 0h2m13 0h1m10 0h1m97 0h1m4 0h1m14 0h1m8 0h2m4 0h1m1 0h1m4 0h1m5 0h1m7 0h1m7 0h1m8 0h1m7 0h2m5 0h2m9 0h1m3 0h1m1 0h2m1 0h1m9 0h1m7 0h2m17 0h1m7 0h1m1 0h1m11 0h1m1 0h1m3 0h1m3 0h1m1 0h1m3 0h2m7 0h2m10 0h1m6 0h1m-400 29h1m8 0h1m3 0h4m5 0h1m42 0h1m3 0h1m12 0h1m7 0h1m1 0h2m4 0h1m2 0h1m10 0h1m2 0h1m6 0h1m4 0h2m2 0h1m3 0h1m9 0h1m2 0h1m2 0h1m5 0h1m7 0h1m3 0h1m3 0h1m43 0h1m3 0h1m4 0h1m9 0h1m5 0h1m105 0h1m31 0h1m15 0h1m-385 29h2m6 0h1m2 0h1m3 0h1m12 0h1m16 0h1m12 0h3m6 0h1m13 0h1m8 0h1m3 0h1m1 0h1m6 0h2m4 0h1m9 0h1m2 0h1m2 0h1m1 0h1m1 0h1m6 0h1m3 0h2m5 0h1m5 0h1m3 0h2m25 0h2m1 0h1m19 0h1m2 0h1m7 0h1m4 0h1m21 0h1m12 0h2m11 0h1m1 0h2m4 0h3m14 0h1m23 0h1m2 0h1m2 0h1m10 0h1m8 0h1m1 0h1m22 0h1m16 0h1m1 0h1m-382 29h1m32 0h1m75 0h1m7 0h1m4 0h1m18 0h1m6 0h1m11 0h1m1 0h1m15 0h2m2 0h1m15 0h2m11 0h1m1 0h2m1 0h1m6 0h1m1 0h1m16 0h1m2 0h1m2 0h1m6 0h1m26 0h3m3 0h1m8 0h1m2 0h3m11 0h1m1 0h2m9 0h1m10 0h1m4 0h2m6 0h2m20 0h1m6 0h1m-402 58h1m6 0h1m5 0h1m3 0h1m7 0h2m9 0h1m5 0h1m1 0h2m2 0h1m2 0h1m3 0h1m10 0h2m5 0h1m5 0h1m17 0h1m10 0h1m2 0h1m16 0h1m15 0h1m7 0h2m6 0h1m3 0h1m10 0h1m1 0h3m3 0h1m25 0h1m35 0h1m24 0h1m23 0h1m2 0h1m8 0h1m62 0h1m-331 29h1m31 0h2m64 0h1m25 0h1m44 0h1m5 0h2m3 0h1m9 0h1m14 0h1m23 0h1m4 0h1m1 0h1m4 0h2m3 0h1m2 0h2m6 0h2m9 0h1m3 0h1m23 0h2m1 0h1m6 0h2m5 0h1m6 0h1m5 0h4m5 0h1m5 0h2m5 0h2m4 0h1m1 0h2m2 0h1m-402 22h1m11 0h1m5 0h1m1 0h1m4 0h1m20 0h1m6 0h2m8 0h2m2 0h1m9 0h1m8 0h1m2 0h1m16 0h1m1 0h1m4 0h2m3 0h3m2 0h1m3 0h1m5 0h1m32 0h1m3 0h1m2 0h1m7 0h2m7 0h2m34 0h1m4 0h1m36 0h1m3 0h1m1 0h1m30 0h1m14 0h1m9 0h1m18 0h2m45 0h1m-196 29h1m2 0h1m1 0h2m11 0h1m1 0h1m1 0h1m5 0h1m1 0h2m3 0h1m7 0h1m3 0h1m7 0h2m6 0h3m14 0h1m11 0h2m7 0h2m1 0h1m3 0h1m2 0h1m4 0h1m20 0h1m10 0h2m6 0h1m4 0h1m4 0h1m2 0h1m4 0h2m5 0h1m14 0h1m3 0h1m2 0h1m-354 29h1m136 0h1m9 0h1m2 0h2m1 0h1m11 0h1m2 0h1m2 0h1m1 0h1m6 0h1m1 0h1m10 0h1m1 0h2m24 0h1m12 0h1m3 0h1m2 0h1m4 0h1m12 0h1m15 0h1m13 0h1m7 0h1m1 0h1m3 0h1m6 0h1m2 0h1m7 0h1m10 0h1m2 0h1m1 0h1"/>
<path stroke="#601830" stroke-width="7" d="M208 276.5h1m40 29h1m7 0h1m110 0h1m48 0h1m-160 43h1m-106 15h1m17 29h1m32 0h1m159 7h1m68 0h1m-171 29h1m-10 7h1m17 0h1m-106 22h1m72 0h1m-65 7h1m25 0h1m98 15h1m38 0h1m-180 7h1m107 0h1m30 0h1m92 0h1m-136 44h1m-92 14h1"/>
<path stroke="#601830" stroke-width="8" d="M266 269h1m75 29h1m11 0h1m-258 58h1m159 0h1m194 29h1m-366 29h1m151 80h1m-94 29h1m97 0h1m136 0h1m-71 29h1"/>
<path stroke="#60183c" stroke-width="7" d="M117 283.5h1m121 0h1m27 0h1m33 0h1m80 0h1m31 0h1m11 0h1m31 0h1m-354 22h1m22 0h1m52 0h1m185 0h1m-222 7h1m7 0h1m204 0h1m23 0h1m19 0h1m14 0h1m26 0h1m25 0h1m3 0h1m-358 7h1m42 0h1m149 0h1m72 0h1m28 0h1m61 0h1m-400 15h1m152 0h1m1 36h1m49 0h1m83 0h1m26 0h1m39 0h1m21 0h1m16 0h1m-169 7h1m34 0h1m34 0h1m5 0h1m4 0h1m6 0h1m53 0h1m6 0h1m-344 15h1m340 0h1m-374 14h1m236 15h1m101 0h1m35 0h1m11 0h1m-157 7h1m18 0h1m83 0h1m50 0h1m13 0h1m-167 7h1m37 0h1m1 0h1m-44 15h1m23 0h1m29 0h1m26 0h1m32 0h1m28 0h1m-84 7h1m-120 7h1m56 0h1m78 0h1m73 0h1m-177 15h1m169 0h1m-193 7h1m27 0h1m51 0h1m59 0h1m60 0h1m-165 15h1m61 0h1m77 0h1m-130 7h1m-145 29h1m88 0h1m165 0h1m1 0h1m-336 7h1m7 0h1m53 0h1m2 0h1m12 0h1m18 0h1m42 0h1m112 0h1m3 0h1m118 0h1"/>
<path stroke="#60183c" stroke-width="8" d="M219 298h1m2 0h1m15 0h1m158 0h1m6 0h1m65 0h1m1 0h1m-221 29h1m1 0h1m-154 29h1m50 0h1m-62 29h1m16 0h1m139 0h1m19 0h1m92 0h1m6 0h1m1 0h1m29 0h1m20 0h1m10 0h1m27 0h1m12 0h1m1 0h1m-382 29h1m24 0h1m17 0h1m15 0h1m63 0h1m7 0h1m5 0h1m-154 29h1m1 0h1m76 0h1m32 0h1m4 0h1m16 0h1m33 0h1m190 0h1m23 0h1m10 0h1m-105 29h1m1 0h1m33 0h1m53 0h1m1 0h1m-86 22h1m9 0h1m66 0h1m-105 58h1"/>
<path stroke="#602430" stroke-width="7" d="M258 290.5h1"/>
<path stroke="#604848" stroke-width="8" d="M258 414h1"/>
<path stroke="#6c0c3c" stroke-width="7" d="M97 276.5h2m46 0h2m16 0h1m31 0h1m29 0h1m-129 7h1m33 0h1m3 0h1m6 0h1m7 0h1m27 0h1m13 0h2m71 0h1m8 0h1m2 0h1m9 0h1m11 0h1m3 0h1m1 0h1m1 0h1m1 0h2m12 0h1m6 0h1m4 0h2m2 0h2m8 0h1m1 0h1m14 0h1m34 0h1m7 0h1m10 0h1m12 0h1m4 0h1m6 0h1m22 0h1m-391 22h1m44 0h1m27 0h1m19 0h1m22 0h1m8 0h1m1 0h1m36 0h1m80 0h1m26 0h1m51 0h1m-317 7h1m2 0h1m77 0h1m10 0h1m2 0h1m1 0h1m17 0h1m13 0h1m1 0h1m6 0h1m3 0h1m2 0h1m15 0h1m23 0h1m11 0h1m5 0h1m17 0h1m1 0h1m1 0h1m118 0h2m1 0h1m16 0h1m2 0h1m11 0h1m-349 7h1m153 0h1m26 0h1m15 0h1m16 0h1m1 0h1m8 0h1m15 0h1m14 0h1m20 0h2m8 0h1m1 0h1m8 0h1m13 0h1m11 0h1m6 0h1m13 0h1m10 0h1m-394 15h1m33 0h1m31 0h1m12 0h1m58 0h1m-96 7h1m46 0h1m17 0h1m31 0h1m8 0h1m6 0h1m42 0h1m-146 22h1m30 0h1m40 0h1m15 0h1m12 0h1m18 0h1m17 0h1m92 0h1m-286 7h1m1 0h1m11 0h1m2 0h1m20 0h1m14 0h1m1 0h2m3 0h1m12 0h1m16 0h1m1 0h1m1 0h2m7 0h1m14 0h1m7 0h1m25 0h1m15 0h1m2 0h1m14 0h1m3 0h1m7 0h1m1 0h1m8 0h1m2 0h2m7 0h1m11 0h1m13 0h1m14 0h1m3 0h2m10 0h1m3 0h1m15 0h1m3 0h1m18 0h1m2 0h1m18 0h1m26 0h1m14 0h1m-382 7h1m3 0h1m29 0h1m112 0h2m17 0h1m23 0h2m1 0h1m13 0h1m1 0h1m19 0h1m6 0h1m6 0h1m5 0h1m7 0h1m5 0h1m8 0h1m10 0h1m31 0h1m18 0h1m5 0h1m9 0h1m5 0h1m1 0h1m5 0h1m13 0h1m-358 15h1m5 0h1m3 0h1m14 0h1m15 0h1m122 0h1m91 0h1m16 0h1m20 0h1m12 0h1m5 0h1m-267 7h1m3 0h1m17 0h1m82 0h1m-157 7h1m60 0h1m117 15h1m10 0h1m5 0h1m13 0h1m12 0h1m2 0h1m2 0h1m14 0h1m4 0h1m8 0h1m7 0h1m5 0h1m24 0h1m4 0h1m4 0h1m1 0h1m18 0h1m12 0h1m17 0h1m10 0h1m1 0h1m-207 7h1m9 0h1m20 0h1m5 0h1m5 0h1m17 0h1m1 0h1m4 0h1m3 0h1m4 0h1m10 0h1m5 0h1m11 0h1m10 0h2m1 0h1m1 0h1m5 0h1m7 0h1m10 0h1m24 0h1m3 0h1m9 0h1m-194 7h1m12 0h1m18 0h1m5 0h1m25 0h1m20 0h1m6 0h1m8 0h2m10 0h1m3 0h1m14 0h1m8 0h1m2 0h1m67 0h1m2 0h1m-217 15h1m33 0h1m7 0h1m1 0h1m1 0h1m10 0h1m8 0h1m1 0h1m1 0h1m42 0h1m7 0h1m79 0h1m-339 7h1m11 0h1m100 0h1m33 0h1m26 0h1m10 0h1m12 0h1m25 0h1m1 0h1m4 0h2m2 0h1m12 0h1m3 0h1m29 0h1m6 0h1m12 0h1m3 0h1m2 0h1m1 0h1m11 0h1m12 0h1m4 0h1m3 0h1m9 0h1m-370 7h1m18 0h1m2 0h2m1 0h1m21 0h1m4 0h1m36 0h1m26 0h1m8 0h1m3 0h1m18 0h1m89 0h1m23 0h1m74 0h1m16 0h1m13 0h1m-216 15h1m31 0h1m6 0h1m8 0h1m17 0h1m6 0h1m11 0h1m6 0h1m9 0h1m14 0h1m6 0h1m22 0h1m7 0h1m21 0h1m11 0h1m14 0h2m4 0h1m-210 7h1m2 0h1m6 0h1m6 0h1m10 0h3m57 0h1m2 0h1m15 0h1m14 0h1m58 0h1m7 0h1m-193 15h1m3 0h1m3 0h2m15 0h1m5 0h1m4 0h1m15 0h1m1 0h2m22 0h1m1 0h1m5 0h1m4 0h1m12 0h1m1 0h2m14 0h1m19 0h1m2 0h1m1 0h1m8 0h1m2 0h1m2 0h1m9 0h1m17 0h1m8 0h1m2 0h1m11 0h1m-212 7h1m5 0h1m14 0h1m5 0h1m15 0h1m70 0h1m2 0h1m16 0h1m13 0h1m14 0h1m-303 22h1m23 0h1m19 0h1m50 0h2m6 0h1m11 0h1m-110 7h1m1 0h1m31 0h1m100 0h2m31 0h1m1 0h1m10 0h1m13 0h1m2 0h2m1 0h1m6 0h1m4 0h1m16 0h1m9 0h1m14 0h1m4 0h1m5 0h1m10 0h1m7 0h1m8 0h1m10 0h1m3 0h1m11 0h1m1 0h1m5 0h1m11 0h1m-394 7h1m14 0h1m27 0h1m8 0h1m1 0h1m11 0h1m13 0h2m9 0h1m7 0h1m10 0h1m5 0h2m3 0h2m4 0h1m11 0h1m2 0h1m10 0h1m5 0h1m15 0h2m3 0h1m31 0h1m56 0h1m1 0h1m45 0h1m4 0h1m8 0h1m6 0h1m12 0h2m4 0h1m10 0h1m3 0h1m8 0h1"/>
<path stroke="#6c0c3c" stroke-width="8" d="M74 269h1m5 0h1m3 0h1m1 0h1m2 0h1m44 0h1m5 0h1m3 0h1m20 0h2m21 0h1m56 0h1m9 0h1m186 0h1m30 0h1m-362 29h1m10 0h1m1 0h1m5 0h1m4 0h1m17 0h1m1 0h1m2 0h1m7 0h1m35 0h1m11 0h1m12 0h1m12 0h1m4 0h1m28 0h1m3 0h1m1 0h1m1 0h1m14 0h1m11 0h1m6 0h1m6 0h1m8 0h1m4 0h1m9 0h1m10 0h1m1 0h1m4 0h1m7 0h1m10 0h1m20 0h1m1 0h1m6 0h1m20 0h1m3 0h1m4 0h1m4 0h1m14 0h1m8 0h1m-401 29h1m5 0h1m13 0h1m39 0h2m26 0h2m26 0h1m11 0h1m43 0h1m9 0h1m-183 29h1m32 0h1m6 0h1m16 0h1m18 0h1m3 0h1m78 0h1m13 0h1m1 0h1m39 0h1m117 0h1m60 0h1m-395 29h1m23 0h1m12 0h2m5 0h1m7 0h1m10 0h1m35 0h1m6 0h2m6 0h1m8 0h1m33 0h1m9 0h1m4 0h1m5 0h2m9 0h1m26 0h1m8 0h1m1 0h1m3 0h1m1 0h1m7 0h1m2 0h1m5 0h1m3 0h1m9 0h1m11 0h1m14 0h1m8 0h1m7 0h1m4 0h1m5 0h1m12 0h1m20 0h1m2 0h1m12 0h1m1 0h1m1 0h1m21 0h1m-388 58h1m9 0h1m4 0h1m10 0h1m4 0h1m2 0h1m45 0h1m14 0h1m46 0h1m7 0h1m24 0h1m12 0h1m9 0h1m5 0h1m58 0h1m26 0h1m1 0h2m3 0h1m5 0h1m37 0h1m29 0h1m2 0h1m1 0h1m-199 29h1m5 0h1m3 0h1m8 0h2m8 0h1m7 0h1m5 0h2m35 0h1m26 0h1m10 0h1m1 0h1m1 0h1m8 0h1m2 0h2m4 0h1m5 0h1m30 0h2m13 0h1m23 0h1m-373 22h1m21 0h1m25 0h1m46 0h2m96 0h1m3 0h1m4 0h1m4 0h1m1 0h2m1 0h1m3 0h1m9 0h1m30 0h1m5 0h1m4 0h1m5 0h1m9 0h1m10 0h1m13 0h1m7 0h1m6 0h1m27 0h1m14 0h1m-208 29h1m70 0h1m16 0h1m17 0h1m21 0h1m24 0h1m19 0h1m28 0h1m-183 29h1m10 0h1m29 0h1m84 0h2m14 0h1m12 0h1"/>
<path stroke="#6c1830" stroke-width="7" d="M120 276.5h1m41 0h1m54 0h1m38 0h1m-37 7h1m120 0h1m112 0h1m-296 22h1m16 0h1m59 0h1m14 0h1m75 0h1m123 0h1m-135 7h1m9 0h1m80 7h1m-325 15h1m14 0h1m94 0h1m85 0h1m143 14h1m2 15h1m43 14h1m-324 15h1m209 0h1m-262 14h1m71 0h1m67 0h1m16 0h1m75 0h1m12 22h1m27 0h1m-4 7h1m-195 15h1m174 0h1m-241 7h1m23 0h1m43 0h1m111 0h1m68 0h1m55 0h1m15 0h1m-345 7h1m118 0h1m222 0h1m-88 15h1m-5 7h1m-230 15h1m146 0h1m73 0h1m64 0h1m51 0h1m8 0h1m-141 7h1m134 0h1m-358 29h1m109 0h1m94 0h1m-163 7h1m2 0h1m124 0h1m183 0h1"/>
<path stroke="#6c1830" stroke-width="8" d="M257 298h1m44 0h1m24 0h1m116 0h1m-339 29h1m8 0h1m17 0h1m304 0h1m-207 29h1m11 0h1m-92 29h1m130 0h1m-194 29h1m1 0h1m9 0h1m37 0h1m60 0h1m45 0h1m98 29h1m-40 29h1m-46 22h1m147 0h1m-127 58h1"/>
<path stroke="#6c183c" stroke-width="7" d="M82 276.5h1m16 0h1m6 0h1m81 0h1m51 0h1m-163 7h1m22 0h1m32 0h1m202 0h1m20 0h1m-176 22h2m5 0h1m15 0h1m-114 7h1m17 0h1m2 0h1m5 0h1m8 0h1m66 0h1m6 0h1m10 0h1m14 0h1m4 0h1m34 0h1m44 0h1m132 0h1m-282 7h1m53 0h1m140 0h1m38 0h1m45 0h1m30 0h1m-379 22h1m32 0h1m56 0h1m1 0h1m24 0h1m201 0h2m-20 7h1m34 0h1m-343 15h1m48 7h1m13 0h1m8 0h1m14 0h1m45 0h1m33 0h1m29 0h1m11 0h1m32 0h1m106 0h1m-332 7h1m86 0h1m16 0h1m28 0h1m168 0h1m2 0h1m4 0h1m27 0h1m16 0h1m-373 15h1m26 0h1m28 0h1m156 0h1m87 0h1m8 0h1m-285 7h1m27 0h1m68 0h1m34 0h1m163 0h1m-295 7h1m21 0h1m244 15h1m1 0h1m12 0h1m22 0h1m-187 7h1m20 0h1m30 0h1m22 0h1m29 0h1m4 0h1m1 0h1m9 0h1m36 0h1m20 0h1m22 0h1m-45 7h1m16 0h1m36 0h1m9 0h1m-188 15h1m112 0h1m9 0h1m40 0h1m-274 7h1m36 0h1m38 0h1m84 0h1m47 0h1m95 0h1m-398 7h1m6 0h1m39 0h1m74 0h1m65 0h1m6 0h1m30 0h1m45 0h1m64 0h1m15 0h1m-141 15h1m86 0h1m30 0h1m-105 7h1m50 0h1m32 0h1m85 0h1m-202 15h1m7 0h1m23 0h1m72 0h1m17 0h1m38 0h1m-86 7h1m1 0h1m85 0h1m29 0h1m-302 22h1m5 0h1m159 7h1m55 0h1m-210 7h1m43 0h1m5 0h1m40 0h1m71 0h1m71 0h1m3 0h1m4 0h1"/>
<path stroke="#6c183c" stroke-width="8" d="M121 269h1m35 0h1m17 0h1m27 0h1m22 0h1m5 0h1m13 0h1m-141 29h1m11 0h1m34 0h1m3 0h1m6 0h1m16 0h1m44 0h1m138 0h1m34 0h1m37 0h1m-227 29h1m115 0h1m-98 29h1m-130 29h1m30 0h1m110 0h1m52 0h1m43 0h1m-265 29h1m30 0h1m55 0h1m45 0h1m-32 29h1m14 0h1m47 0h1m23 0h1m23 0h1m20 0h1m6 0h1m1 0h1m27 0h1m125 0h1m3 0h1m-220 29h1m33 0h2m3 0h1m22 0h1m17 0h1m-247 22h1m23 0h1m189 0h1m2 0h1m9 29h1m23 0h1m28 0h1m6 0h1m57 0h1m-20 29h1"/>
<path stroke="#6c2430" stroke-width="7" d="M303 479.5h1"/>
<path stroke="#6c2430" stroke-width="8" d="M84 414h1m53 0h1m110 0h1"/>
<path stroke="#6c3c3c" stroke-width="7" d="M258 515.5h1"/>
<path stroke="#780c3c" stroke-width="7" d="M140 283.5h1m67 0h1m147 29h1m-171 7h1m195 0h1m-261 51h1m8 0h1m84 0h1m-54 7h1m124 44h1m19 0h1m147 0h1m-167 14h1m-141 29h1m217 37h1m-254 29h1m59 0h1m254 7h1m-326 7h1m48 0h1m159 0h1"/>
<path stroke="#780c3c" stroke-width="8" d="M131 269h1m10 0h1m-29 29h1m60 0h1m3 0h1m26 0h1m256 87h1m-187 58h1m57 0h1m15 0h1m66 0h1m-148 51h1m10 0h1m166 0h1m11 0h1"/>
<path stroke="#781830" stroke-width="7" d="M89 283.5h1m154 0h1m210 0h1m-380 29h1m88 0h1m11 0h1m55 0h1m-67 7h2m71 0h2m-167 15h1m113 0h1m217 14h1m26 0h1m41 0h1m-388 22h1m87 0h1m-89 7h1m22 0h1m45 0h1m86 0h1m161 15h1m17 29h1m-106 7h1m99 0h1m-123 29h1m60 0h2m110 0h1m-171 7h1m18 0h1m68 0h1m37 0h1m-122 37h1m29 0h1m98 0h1m4 0h1m-354 29h1m23 0h2m58 0h1m113 0h1m60 0h1m101 0h1m28 0h2m-167 7h1m105 0h1m-237 7h1m82 0h1m181 0h1m15 0h1"/>
<path stroke="#781830" stroke-width="8" d="M220 298h1m57 87h1m98 0h1m-175 29h1m-5 29h1m91 0h1m170 0h1m-62 29h1m-29 22h1m-42 29h1"/>
<path stroke="#78183c" stroke-width="7" d="M91 276.5h1m-6 7h1m1 0h1m16 0h1m48 0h1m2 0h1m5 0h1m7 0h1m3 0h1m6 0h1m3 0h1m11 0h1m27 0h1m11 0h1m6 0h1m113 0h1m39 0h1m60 0h1m-282 22h1m119 0h1m-226 7h1m20 0h1m2 0h1m13 0h1m6 0h1m11 0h1m7 0h1m21 0h1m2 0h1m10 0h1m14 0h1m15 0h1m19 0h1m13 0h1m-152 7h1m21 0h1m2 0h1m11 0h1m12 0h1m2 0h1m7 0h1m6 0h1m15 0h1m1 0h1m29 0h1m8 0h1m19 0h1m4 0h1m6 0h1m58 0h1m41 0h1m32 0h1m10 0h1m42 0h1m31 0h1m-274 22h1m83 7h1m15 0h1m20 0h1m52 0h1m23 0h1m12 0h1m53 0h1m12 0h1m-398 22h1m75 0h1m34 0h1m6 0h1m19 0h1m15 0h1m24 0h1m214 0h1m4 0h1m-389 7h1m28 0h1m2 0h1m16 0h1m1 0h1m3 0h1m26 0h1m7 0h1m1 0h1m1 0h1m13 0h1m3 0h1m5 0h1m16 0h1m7 0h1m12 0h1m4 0h1m24 0h1m33 0h1m76 0h1m-251 15h1m283 0h1m-59 29h1m2 0h1m56 0h1m-130 7h1m11 0h1m3 0h1m28 0h1m24 0h1m15 0h1m15 0h1m5 0h1m1 0h1m6 0h1m51 0h1m11 0h1m-160 7h1m99 0h1m58 0h1m-200 22h1m1 0h1m16 0h1m10 0h1m4 0h1m5 0h1m1 0h2m11 0h1m6 0h1m10 0h1m25 0h1m23 0h1m10 0h1m11 0h1m16 0h1m5 0h1m8 0h1m9 0h1m1 0h1m-217 7h1m16 0h1m1 0h1m9 0h1m22 0h1m12 0h1m2 0h1m15 0h1m11 0h2m19 0h1m15 0h1m6 0h1m4 0h1m22 0h1m8 0h1m24 0h1m17 0h1m4 0h1m1 0h1m3 0h1m-130 15h1m28 7h1m91 0h1m-177 15h1m7 0h1m32 0h1m6 0h2m39 0h1m-282 29h1m2 0h2m13 0h1m16 0h1m42 0h1m3 0h1m19 0h1m4 0h1m23 0h1m11 0h1m1 0h1m10 0h1m72 0h1m61 0h1m-131 7h1m76 0h1m21 0h1m23 0h1m46 0h1m12 0h1m1 0h1m29 0h1m-244 7h1m32 0h1m13 0h1m3 0h1m15 0h1m5 0h1m3 0h1m18 0h1m27 0h1m14 0h1m5 0h1m20 0h1m11 0h1m20 0h1m3 0h1m18 0h1m3 0h1m10 0h1"/>
<path stroke="#78183c" stroke-width="8" d="M88 269h1m5 0h1m2 0h1m16 0h1m1 0h1m32 0h1m1 0h1m2 0h1m4 0h1m13 0h1m4 0h1m2 0h1m26 0h1m3 0h1m9 0h1m5 0h1m2 0h1m-154 29h1m1 0h1m3 0h1m3 0h1m22 0h1m21 0h1m8 0h1m3 0h1m3 0h1m20 0h1m42 0h1m17 0h1m20 0h1m121 0h1m101 0h1m-272 29h1m-129 58h1m10 0h1m33 0h1m7 0h1m26 0h2m3 0h1m11 0h1m32 0h1m11 0h1m5 0h1m65 0h1m163 0h1m-379 29h1m30 0h1m32 0h1m18 0h1m50 0h1m15 0h1m-93 29h1m68 0h1m38 0h1m17 0h1m47 0h1m5 0h1m20 0h1m1 0h1m18 0h1m5 0h1m19 0h1m15 0h1m15 0h1m24 0h1m28 0h1m5 0h1m-215 29h1m51 0h1m1 0h1m35 0h1m22 0h1m-101 22h1m3 0h1m78 0h1m11 0h1m12 0h1m34 0h2m10 0h1m14 0h1m-183 29h1m144 0h1m1 0h1m-103 29h1m14 0h1"/>
<path stroke="#781854" stroke-width="7" d="M297 370.5h1m-53 36h1"/>
<path stroke="#781854" stroke-width="8" d="M133 443h1m153 80h1"/>
<path stroke="#782430" stroke-width="7" d="M155 312.5h1m63 7h1m179 29h1m75 0h1m-57 102h1m52 7h1m-49 7h1m-163 37h1m-24 29h1m82 0h1m68 0h1m54 7h1m31 7h1"/>
<path stroke="#782430" stroke-width="8" d="M243 385h1m-129 29h1m71 0h1m21 0h1m234 80h1m-100 29h1"/>
<path stroke="#78243c" stroke-width="8" d="M128 414h1"/>
<path stroke="#783030" stroke-width="7" d="M477 283.5h1m-1 65h2m-159 182h1m36 0h1"/>
<path stroke="#783030" stroke-width="8" d="M86 414h1m126 0h1m25 0h1"/>
<path stroke="#783c30" stroke-width="8" d="M158 414h1m39 0h1"/>
<path stroke="#783c3c" stroke-width="8" d="M181 414h1m55 0h1"/>
<path stroke="#78483c" stroke-width="8" d="M186 414h1"/>
<path stroke="#785454" stroke-width="8" d="M123 414h1m6 0h1m21 0h1m19 0h1"/>
<path stroke="#786060" stroke-width="8" d="M151 414h1m55 0h1"/>
<path stroke="#841830" stroke-width="7" d="M84 283.5h1m-3 36h1m96 0h1m106 29h1m11 0h1m71 0h1m18 0h1m31 0h1m30 0h1m-293 22h1m-35 7h1m4 0h1m333 80h1m-133 7h1m27 0h1m31 0h1m10 0h1m29 0h1m-338 66h1m373 0h1m-105 14h1"/>
<path stroke="#841830" stroke-width="8" d="M123 269h1m110 0h1m-138 29h1m245 145h1m43 0h1m16 0h1"/>
<path stroke="#84183c" stroke-width="7" d="M114 283.5h1m83 29h1m-115 7h1m261 29h1m11 0h1m28 0h1m25 0h1m42 0h1m-296 29h1m43 0h1m54 87h1m78 66h1m97 0h1m-141 14h1"/>
<path stroke="#84183c" stroke-width="8" d="M184 269h1m-71 116h1m68 0h1m117 58h1m87 0h1m16 0h1m42 0h1"/>
<path stroke="#841854" stroke-width="7" d="M319 283.5h1m63 0h1m-144 22h1m50 0h1m6 0h1m22 0h1m102 0h1m21 0h1m-25 7h1m-1 7h1m-315 15h1m265 0h1m-297 29h1m79 0h1m43 0h1m103 0h1m134 0h1m-127 7h1m-174 22h1m111 0h1m79 0h1m44 0h1m18 0h1m-223 7h1m96 0h1m103 0h1m-286 29h1m38 0h1m292 7h1m-70 15h1m74 0h1m6 0h1m6 0h1m-356 7h1m289 22h1m57 0h1m-152 7h1m10 0h1m41 0h1m137 0h1m-293 15h1m194 7h1m13 0h1m-230 29h1m77 7h1"/>
<path stroke="#841854" stroke-width="8" d="M421 298h1m54 0h1m-325 29h1m2 0h1m41 0h1m273 0h1m-381 29h1m67 0h1m16 0h1m152 0h1m63 0h1m75 0h1m-156 29h1m-229 58h1m119 51h1m10 0h1m28 0h1m146 29h1m20 0h1m1 0h1m13 0h1m-226 29h1m108 0h1m81 0h1m51 0h1m28 0h1"/>
<path stroke="#842430" stroke-width="7" d="M173 283.5h1m34 29h1m-133 7h1m54 0h1m49 0h1m47 0h1m2 0h1m24 0h1m2 0h1m1 29h1m8 0h1m33 0h1m4 0h2m8 0h1m6 0h1m2 0h1m11 0h1m10 0h1m1 0h1m17 0h1m54 0h1m16 0h1m14 0h1m-385 22h1m1 7h1m1 0h1m141 0h1m16 0h1m13 0h1m100 44h1m-48 43h1m110 0h1m2 0h1m-338 66h1m156 0h1m29 0h1m14 0h1m14 0h1m8 0h2m21 0h1m9 0h1m3 0h1m25 0h1m14 0h1m6 0h1m8 0h1m23 0h1m1 0h1m10 0h1m1 0h1m3 0h1m1 0h1m2 0h1m3 0h1m4 0h1m14 0h1m-25 14h1"/>
<path stroke="#842430" stroke-width="8" d="M101 298h1m91 87h1m2 29h1m4 0h1"/>
<path stroke="#843030" stroke-width="7" d="M137 312.5h1m122 36h1m107 0h1m39 0h1m-111 182h2m56 0h1m1 0h1m23 0h1m25 0h1m6 0h1"/>
<path stroke="#843030" stroke-width="8" d="M99 414h1m71 0h1m23 0h1m8 0h1m48 0h1m1 0h1"/>
<path stroke="#84303c" stroke-width="8" d="M112 414h1"/>
<path stroke="#843c30" stroke-width="7" d="M342 530.5h1"/>
<path stroke="#843c30" stroke-width="8" d="M192 414h1m51 0h1"/>
<path stroke="#843c3c" stroke-width="8" d="M76 414h1m28 0h1m118 0h1m16 0h1"/>
<path stroke="#84483c" stroke-width="8" d="M98 414h1m30 0h1m39 0h1m23 0h1"/>
<path stroke="#844848" stroke-width="8" d="M168 414h1m71 0h1m2 0h1"/>
<path stroke="#845448" stroke-width="8" d="M97 414h1m69 0h1"/>
<path stroke="#845454" stroke-width="8" d="M230 414h1"/>
<path stroke="#846054" stroke-width="8" d="M104 414h1m137 0h1"/>
<path stroke="#846060" stroke-width="8" d="M107 414h1m9 0h1"/>
<path stroke="#846c6c" stroke-width="8" d="M126 414h1"/>
<path stroke="#901848" stroke-width="7" d="M200 392.5h1m-51 145h1"/>
<path stroke="#901854" stroke-width="7" d="M237 276.5h1m5 0h1m196 0h1m-147 7h1m74 0h1m26 0h1m6 0h1m4 0h1m10 0h1m16 0h1m4 0h1m33 0h1m-391 22h1m4 0h1m7 0h1m70 0h1m4 0h1m51 0h1m20 0h1m41 0h1m68 0h1m110 0h1m-360 7h1m140 0h1m12 0h1m14 0h1m10 0h1m40 0h1m2 0h1m11 0h1m2 0h1m22 0h1m4 0h1m6 0h1m11 0h1m1 0h2m4 0h1m9 0h1m27 0h1m26 0h1m-65 7h1m-332 15h1m63 0h1m27 0h1m32 0h1m24 0h1m49 0h1m15 0h1m162 0h1m-373 7h1m22 0h1m19 0h1m38 0h1m10 0h1m10 0h1m1 0h1m29 0h1m1 0h1m4 0h1m12 0h1m16 0h1m4 0h1m18 0h1m104 0h1m-307 22h1m37 0h1m23 0h1m8 0h1m47 0h1m19 0h1m36 0h1m1 0h1m47 0h1m21 0h1m43 7h1m10 0h1m36 0h1m-158 7h1m180 0h1m21 0h1m1 0h1m-381 15h1m6 0h1m23 0h1m51 0h1m16 0h1m5 0h1m10 0h1m46 0h1m37 0h1m20 0h1m8 0h1m6 0h1m71 0h1m52 0h1m12 0h1m-387 7h1m31 0h1m21 0h1m8 0h1m13 0h1m12 0h1m69 0h1m1 0h1m48 0h1m46 0h1m50 0h1m17 0h1m13 0h1m1 0h1m-306 7h1m5 0h1m18 0h1m39 0h1m39 0h1m171 0h1m-123 15h1m34 0h1m18 0h1m20 0h1m56 0h1m26 0h1m15 0h1m-287 7h1m15 0h1m11 0h1m43 0h1m125 0h1m62 0h1m2 0h1m34 0h1m-342 7h1m159 0h1m10 0h1m8 0h1m26 0h1m18 0h1m45 0h1m31 0h1m16 0h1m15 0h1m15 0h1m-205 15h1m21 0h1m31 0h1m18 0h1m23 0h1m15 0h1m10 0h1m27 0h1m28 0h1m2 0h1m-309 7h1m30 0h1m284 0h1m-294 7h1m3 0h1m11 0h1m141 0h1m24 15h1m2 0h1m3 0h1m67 0h1m22 0h1m16 0h1m1 0h1m-80 7h1m3 0h1m20 0h1m25 0h1m5 0h1m10 0h1m18 0h1m-293 15h1m36 0h1m78 0h1m167 0h1m-189 7h1m1 0h1m99 0h1m12 0h1m66 0h1m4 0h1m-366 29h1m12 0h1m41 0h1m4 0h1m10 0h1m21 0h1m3 0h1m12 0h1m21 0h1m15 0h1m5 0h1m31 0h1m-192 7h1m43 0h1m9 0h1m17 0h1m90 0h1"/>
<path stroke="#901854" stroke-width="8" d="M274 269h1m32 0h1m23 0h1m-69 29h1m83 0h1m8 0h1m1 0h1m12 0h1m4 0h1m6 0h1m19 0h1m35 0h1m6 0h1m7 0h1m-378 29h1m8 0h1m26 0h1m26 0h1m20 0h1m16 0h1m22 0h1m16 0h1m18 0h1m71 0h1m14 0h1m6 0h1m101 0h1m-332 29h1m6 0h1m12 0h1m16 0h1m4 0h1m45 0h1m5 0h1m19 0h1m57 0h1m3 0h1m9 0h1m29 0h1m30 0h1m16 0h1m10 0h1m11 0h1m60 0h1m-189 29h1m49 0h1m49 0h1m49 0h1m-317 58h1m18 0h1m22 0h1m9 0h1m25 0h1m3 0h1m1 0h1m80 0h1m47 29h1m35 0h1m13 0h1m3 0h1m83 0h1m-371 22h1m38 0h1m37 0h1m67 0h1m2 0h1m31 0h1m211 0h1m-205 29h1m4 0h1m19 0h1m3 0h1m14 0h1m9 0h1m14 0h1m6 0h1m14 0h1m5 0h1m6 0h1m2 0h1m49 0h1m2 0h1m41 0h1m-195 29h1m90 0h1m15 0h1m1 0h1m8 0h1m12 0h1"/>
<path stroke="#901860" stroke-width="7" d="M397 283.5h1m34 94h1m-150 44h1"/>
<path stroke="#901860" stroke-width="8" d="M139 327h1m297 58h1"/>
<path stroke="#903030" stroke-width="7" d="M301 348.5h1m135 0h1m-130 182h1m66 0h1m3 0h1m38 0h1m39 0h1m8 0h1"/>
<path stroke="#903c30" stroke-width="7" d="M277 530.5h1m107 0h1"/>
<path stroke="#90483c" stroke-width="8" d="M234 414h1m22 0h1"/>
<path stroke="#9c1848" stroke-width="7" d="M210 363.5h1m161 36h1m97 0h1m-236 29h1m-54 29h1m-87 7h1m110 0h1m-38 37h1m131 7h1m158 0h1"/>
<path stroke="#9c1848" stroke-width="8" d="M128 327h1m105 0h1m-79 87h1m21 0h1m-7 80h1"/>
<path stroke="#9c1854" stroke-width="7" d="M83 276.5h1m16 0h1m41 0h2m43 0h1m3 0h1m2 0h1m11 0h1m15 0h1m4 0h1m13 0h1m24 7h1m2 0h1m2 0h1m15 0h1m13 0h1m1 0h1m11 0h1m5 0h1m6 0h1m1 0h1m22 0h1m2 0h1m6 0h2m15 0h1m6 0h1m5 0h1m5 0h1m1 0h1m2 0h1m4 0h1m4 0h1m30 0h1m12 0h1m1 0h1m1 0h1m2 0h1m4 0h1m-386 22h1m5 0h1m21 0h1m11 0h1m2 0h1m8 0h1m25 0h1m1 0h1m5 0h1m9 0h1m8 0h1m15 0h1m11 0h1m54 0h1m6 0h1m18 0h1m23 0h1m37 0h1m20 0h1m17 0h1m1 0h1m21 0h1m10 0h1m22 0h1m-288 7h1m103 0h2m16 0h1m20 0h1m8 0h1m16 0h1m11 0h1m24 0h1m23 0h1m10 0h1m2 0h2m1 0h1m12 0h1m11 0h1m4 0h1m14 0h1m5 0h1m3 0h1m-209 7h1m3 0h1m42 0h1m57 0h1m14 0h1m55 0h1m13 0h1m-380 15h1m24 0h1m4 0h1m5 0h1m7 0h1m7 0h1m26 0h1m3 0h1m2 0h1m5 0h1m18 0h1m70 0h1m92 0h1m40 0h1m4 0h1m-306 7h1m26 0h2m5 0h1m19 0h2m11 0h1m4 0h1m10 0h1m7 0h1m14 0h1m12 0h1m15 0h1m11 0h1m39 0h1m6 0h1m12 0h1m18 0h1m69 0h1m-226 22h1m1 0h1m27 0h1m78 0h2m131 0h1m25 0h1m-354 7h1m75 0h1m82 0h1m32 0h1m1 0h1m5 0h1m5 0h1m5 0h1m2 0h1m9 0h1m7 0h1m12 0h1m3 0h1m4 0h1m6 0h1m14 0h1m7 0h1m1 0h1m7 0h1m1 0h2m5 0h1m14 0h1m3 0h1m2 0h1m16 0h1m1 0h1m2 0h1m3 0h1m5 0h1m13 0h1m3 0h2m21 0h1m-209 7h1m15 0h1m11 0h1m3 0h1m1 0h1m1 0h1m37 0h1m12 0h2m22 0h1m3 0h1m3 0h2m35 0h1m8 0h1m22 0h1m-377 15h1m21 0h1m9 0h1m12 0h1m17 0h1m14 0h1m27 0h1m25 0h1m18 0h1m27 0h1m5 0h1m126 0h1m14 0h1m3 0h1m1 0h1m9 0h1m5 0h1m10 0h1m8 0h1m-353 7h1m3 0h1m3 0h1m5 0h1m12 0h1m28 0h1m17 0h1m21 0h2m33 0h1m12 0h1m10 0h1m84 0h1m7 0h1m81 0h1m9 0h1m-340 7h1m343 0h1m-155 15h1m1 0h1m36 0h1m8 0h1m12 0h1m3 0h1m22 0h1m17 0h1m12 0h1m2 0h1m9 0h1m10 0h1m17 0h1m-313 7h1m42 0h1m30 0h1m51 0h1m98 0h1m4 0h1m22 0h1m12 0h1m32 0h1m1 0h1m-180 7h1m3 0h1m46 0h1m1 0h1m4 0h1m8 0h2m3 0h1m15 0h1m1 0h1m13 0h1m9 0h2m7 0h1m8 0h1m2 0h1m10 0h1m27 0h1m-152 15h1m11 0h1m2 0h1m4 0h1m10 0h1m14 0h1m13 0h1m8 0h1m16 0h1m2 0h1m2 0h1m5 0h1m3 0h1m33 0h1m4 0h1m14 0h1m18 0h1m4 0h1m9 0h1m-340 7h1m1 0h1m61 0h1m25 0h1m76 0h1m2 0h1m5 0h1m66 0h1m5 0h1m1 0h1m36 0h1m52 0h1m-396 7h1m2 0h1m29 0h1m26 0h1m6 0h1m2 0h1m36 0h1m34 0h1m7 0h1m9 0h1m7 0h1m137 0h1m42 0h1m26 0h1m-193 15h1m15 0h1m5 0h1m20 0h1m15 0h1m20 0h1m3 0h1m5 0h1m4 0h1m5 0h1m19 0h1m3 0h1m15 0h1m2 0h1m4 0h1m15 0h2m1 0h1m26 0h1m15 0h2m-215 7h1m9 0h1m4 0h1m2 0h1m5 0h1m1 0h1m43 0h1m15 0h1m6 0h1m9 0h1m1 0h1m5 0h1m1 0h1m19 0h1m11 0h1m58 0h2m6 0h1m-354 15h1m36 0h1m67 0h1m28 0h1m25 0h1m81 0h1m21 0h1m36 0h1m33 0h1m-195 7h1m5 0h1m3 0h1m10 0h1m34 0h1m16 0h1m2 0h1m8 0h1m34 0h1m13 0h1m7 0h1m28 0h1m4 0h1m24 0h1m11 0h1m-393 29h1m10 0h1m45 0h1m20 0h1m7 0h1m7 0h1m9 0h1m30 0h1m34 0h1m67 0h1m47 0h1m1 0h1m14 0h1m8 0h1m27 0h1m8 0h1m5 0h1m-318 7h1m4 0h1m5 0h1m6 0h1m3 0h1m5 0h1m1 0h1m19 0h1m5 0h1m5 0h1m12 0h1m4 0h1m11 0h1m9 0h1m10 0h1m9 0h1m74 0h1"/>
<path stroke="#9c1854" stroke-width="8" d="M172 269h1m123 0h1m138 0h1m5 0h1m32 0h1m-330 29h1m12 0h1m74 0h1m44 0h1m1 0h1m1 0h1m26 0h1m6 0h1m1 0h1m10 0h1m6 0h1m2 0h1m20 0h1m7 0h1m33 0h1m4 0h1m3 0h1m22 0h1m14 0h1m1 0h1m-355 29h1m4 0h1m43 0h1m26 0h1m15 0h1m2 0h1m15 0h1m39 0h1m4 0h1m59 0h1m13 0h1m134 0h1m-380 29h1m20 0h1m1 0h1m3 0h1m2 0h1m1 0h1m3 0h1m1 0h1m46 0h1m2 0h1m11 0h1m15 0h1m2 0h1m2 0h1m2 0h1m3 0h1m12 0h1m4 0h1m6 0h1m4 0h1m69 0h1m35 0h1m4 0h1m1 0h1m25 0h1m95 0h1m-390 29h1m18 0h1m56 0h1m86 0h1m14 0h1m5 0h1m14 0h1m1 0h1m14 0h1m1 0h1m12 0h1m3 0h1m2 0h2m1 0h1m14 0h1m4 0h1m4 0h1m4 0h1m6 0h1m4 0h1m1 0h1m4 0h1m7 0h1m20 0h2m19 0h1m2 0h1m7 0h1m6 0h1m29 0h1m-400 58h1m3 0h1m46 0h2m11 0h1m14 0h1m11 0h1m14 0h1m27 0h1m1 0h1m8 0h1m7 0h1m4 0h1m121 0h1m28 0h1m14 0h1m41 0h1m33 0h1m-217 29h1m10 0h1m1 0h1m37 0h1m16 0h1m17 0h1m2 0h1m20 0h1m13 0h1m4 0h1m16 0h1m22 0h1m15 0h1m6 0h1m1 0h1m-378 22h1m12 0h1m32 0h1m42 0h1m8 0h1m6 0h1m5 0h1m84 0h1m33 0h1m77 0h1m13 0h1m2 0h1m5 0h1m4 0h1m-154 29h2m13 0h1m22 0h1m4 0h1m7 0h1m3 0h1m20 0h1m15 0h1m4 0h1m1 0h1m5 0h1m11 0h1m19 0h1m19 0h1m20 0h1m11 0h1m8 0h1m11 0h1m-196 29h1m13 0h1m5 0h1m2 0h1m5 0h1m30 0h1m9 0h1m12 0h1m14 0h1m33 0h1m2 0h1m8 0h1m8 0h1m36 0h1"/>
<path stroke="#9c1860" stroke-width="7" d="M126 276.5h1m206 7h1m42 0h1m-61 36h1m61 0h1m64 0h1m9 0h1m-59 51h1m-1 7h1m13 0h2m-77 44h1m30 0h1m73 0h1m38 7h1m-182 22h1m54 0h1m114 0h1m-136 7h1m-112 7h1m58 15h1m44 0h1m149 0h1"/>
<path stroke="#9c1860" stroke-width="8" d="M382 356h1m-122 29h1m176 0h1m-335 58h1m163 29h1m4 0h1m142 0h1m2 0h1m-134 22h1m31 0h1m87 29h1"/>
<path stroke="#9c2448" stroke-width="7" d="M223 305.5h1m-148 101h1"/>
<path stroke="#9c2448" stroke-width="8" d="M433 385h1m-250 29h1"/>
<path stroke="#a81848" stroke-width="7" d="M154 276.5h1m32 29h1m23 0h1m-119 29h1m57 0h1m3 7h1m42 22h1m269 0h1m-47 14h1m51 0h1m-299 15h1m178 0h1m-143 7h1m27 0h1m200 29h1m-3 7h1m-320 22h1m-6 7h1m221 15h1m125 7h1m-103 22h1m-248 29h1m124 7h1"/>
<path stroke="#a81848" stroke-width="8" d="M213 327h1m-129 29h1m153 0h1m148 29h1m68 0h1m1 0h1m-129 87h1m-23 80h1m155 0h1"/>
<path stroke="#a81854" stroke-width="7" d="M93 276.5h1m22 0h1m8 0h1m1 0h1m9 0h2m10 0h1m32 0h1m45 0h1m18 0h1m1 0h1m-109 7h1m1 0h1m115 0h1m8 0h1m7 0h1m1 0h1m3 0h1m10 0h1m14 0h1m3 0h1m2 0h1m16 0h1m1 0h1m3 0h1m11 0h1m2 0h1m13 0h1m7 0h1m2 0h1m7 0h1m3 0h1m15 0h2m5 0h1m13 0h1m4 0h1m6 0h2m3 0h1m5 0h1m6 0h1m6 0h1m2 0h1m5 0h2m-398 22h1m24 0h1m1 0h1m2 0h1m3 0h1m3 0h2m32 0h2m1 0h1m20 0h1m3 0h2m1 0h1m23 0h1m49 0h1m37 0h1m72 0h2m-287 7h1m6 0h1m28 0h1m19 0h1m29 0h1m7 0h1m7 0h1m17 0h1m8 0h1m25 0h1m12 0h2m7 0h1m8 0h1m3 0h1m1 0h1m9 0h1m1 0h1m31 0h1m22 0h1m10 0h1m6 0h1m3 0h2m19 0h1m11 0h2m11 0h1m18 0h1m7 0h2m10 0h1m7 0h1m2 0h2m4 0h1m-196 7h2m5 0h2m3 0h1m7 0h1m2 0h2m4 0h1m1 0h1m4 0h1m2 0h1m7 0h1m3 0h1m2 0h1m3 0h1m5 0h1m1 0h1m1 0h1m2 0h1m1 0h1m8 0h1m12 0h1m5 0h1m4 0h2m13 0h1m2 0h1m3 0h1m6 0h1m6 0h3m4 0h2m5 0h1m3 0h1m1 0h1m1 0h1m2 0h1m4 0h1m6 0h1m13 0h1m7 0h3m6 0h1m-400 15h1m35 0h1m11 0h1m17 0h1m9 0h1m61 0h1m18 0h1m-142 7h1m23 0h1m39 0h1m32 0h1m-101 22h1m102 0h1m40 0h2m86 0h1m-230 7h1m6 0h1m29 0h1m21 0h1m3 0h2m6 0h1m6 0h1m23 0h1m45 0h1m3 0h1m1 0h1m11 0h1m25 0h1m11 0h1m17 0h1m30 0h3m3 0h1m8 0h1m7 0h2m21 0h1m2 0h1m2 0h1m19 0h1m12 0h1m4 0h1m8 0h1m1 0h1m3 0h1m6 0h1m2 0h1m5 0h2m4 0h1m-399 7h1m102 0h1m81 0h1m2 0h1m1 0h1m1 0h1m2 0h1m7 0h1m2 0h1m3 0h2m3 0h1m2 0h1m11 0h2m2 0h1m5 0h2m4 0h1m1 0h1m2 0h1m2 0h2m4 0h1m2 0h1m4 0h1m2 0h1m1 0h1m4 0h1m3 0h1m6 0h1m11 0h1m1 0h1m2 0h1m8 0h2m8 0h1m5 0h1m8 0h1m7 0h1m3 0h2m5 0h1m1 0h1m5 0h1m1 0h2m3 0h1m8 0h1m7 0h1m3 0h1m-378 15h1m12 0h1m13 0h1m2 0h1m5 0h1m15 0h1m3 0h1m22 0h1m17 0h1m17 0h1m19 0h1m35 0h1m8 0h1m43 0h1m5 0h1m15 0h1m18 0h1m21 0h1m22 0h2m10 0h1m9 0h1m-333 7h1m47 0h1m25 0h1m48 0h1m162 0h1m-303 7h1m63 0h1m19 0h1m19 0h1m66 0h2m13 15h1m4 0h1m7 0h1m5 0h1m11 0h1m1 0h2m7 0h1m11 0h1m6 0h1m4 0h2m2 0h1m3 0h1m6 0h1m1 0h2m7 0h1m11 0h1m6 0h1m6 0h1m8 0h2m11 0h1m24 0h1m7 0h1m2 0h1m1 0h1m4 0h2m3 0h1m3 0h1m1 0h1m7 0h3m2 0h1m-185 7h1m8 0h1m1 0h2m10 0h2m28 0h1m7 0h1m4 0h1m23 0h1m17 0h1m18 0h1m21 0h1m9 0h1m1 0h1m1 0h1m9 0h1m3 0h2m2 0h1m7 0h1m-209 7h1m4 0h1m8 0h1m4 0h2m18 0h1m7 0h2m8 0h1m11 0h1m14 0h1m9 0h1m16 0h1m4 0h2m18 0h1m25 0h2m5 0h1m24 0h1m12 0h3m-203 15h1m3 0h1m13 0h1m11 0h1m1 0h1m17 0h1m1 0h1m21 0h1m8 0h2m5 0h1m14 0h1m10 0h1m18 0h1m1 0h1m1 0h1m6 0h1m11 0h1m30 0h1m-313 7h1m10 0h1m82 0h1m15 0h1m4 0h1m11 0h1m6 0h1m3 0h1m12 0h1m14 0h1m11 0h1m5 0h1m5 0h1m11 0h1m17 0h1m33 0h1m2 0h1m1 0h1m24 0h1m11 0h1m5 0h1m-362 7h1m39 0h1m24 0h1m1 0h1m27 0h1m25 0h2m3 0h1m1 0h1m2 0h1m8 0h1m10 0h1m1 0h1m5 0h1m3 0h1m38 0h1m18 0h1m13 0h1m32 0h1m1 0h1m50 0h1m27 0h1m17 0h1m13 0h1m-204 15h1m10 0h1m4 0h1m2 0h1m2 0h1m23 0h1m49 0h2m24 0h1m7 0h2m16 0h1m27 0h1m2 0h1m11 0h1m10 0h1m-209 7h1m35 0h1m10 0h1m10 0h2m8 0h1m1 0h1m4 0h1m3 0h1m6 0h1m7 0h1m17 0h1m7 0h1m14 0h1m30 0h1m26 0h1m10 0h1m-248 15h1m40 0h1m5 0h1m39 0h1m1 0h1m7 0h1m2 0h1m6 0h1m15 0h1m20 0h1m1 0h1m28 0h1m3 0h1m10 0h2m9 0h1m7 0h1m5 0h1m9 0h1m10 0h1m11 0h1m-192 7h1m11 0h1m11 0h1m2 0h1m1 0h1m28 0h1m32 0h1m3 0h1m26 0h1m6 0h1m8 0h2m2 0h1m10 0h1m20 0h1m13 0h1m-347 22h1m55 0h1m35 0h1m12 0h1m26 0h1m-129 7h2m132 0h2m1 0h1m2 0h1m2 0h1m13 0h1m34 0h1m10 0h1m6 0h1m6 0h1m1 0h1m5 0h1m5 0h1m2 0h1m2 0h1m14 0h1m1 0h1m5 0h1m3 0h1m1 0h1m7 0h1m2 0h1m1 0h1m16 0h1m12 0h1m4 0h1m3 0h1m3 0h1m2 0h1m1 0h1m2 0h1m8 0h1m3 0h1m1 0h1m-385 7h1m2 0h1m4 0h1m1 0h1m3 0h1m26 0h1m3 0h1m8 0h1m14 0h1m20 0h1m3 0h1m18 0h1m4 0h1m6 0h1m18 0h1m87 0h1m72 0h1m20 0h1m30 0h1m12 0h1"/>
<path stroke="#a81854" stroke-width="8" d="M83 269h1m6 0h1m52 0h1m14 0h1m2 0h1m25 0h1m7 0h1m18 0h1m6 0h1m29 0h1m-128 29h1m7 0h1m4 0h1m34 0h1m15 0h1m32 0h1m17 0h2m6 0h1m3 0h1m24 0h1m18 0h2m11 0h1m5 0h2m9 0h1m8 0h1m5 0h1m9 0h1m27 0h1m17 0h1m1 0h1m2 0h1m3 0h1m10 0h1m3 0h1m14 0h1m23 0h1m3 0h1m7 0h1m6 0h1m-386 29h1m9 0h1m12 0h1m47 0h1m2 0h1m37 0h1m11 0h1m5 0h1m18 0h1m12 0h1m-174 29h1m4 0h1m2 0h1m9 0h1m29 0h1m1 0h1m7 0h1m8 0h1m1 0h1m1 0h1m18 0h1m15 0h1m11 0h1m35 0h1m17 0h1m39 0h1m140 0h1m-346 29h1m3 0h1m1 0h1m4 0h1m23 0h1m12 0h2m12 0h1m2 0h1m23 0h1m2 0h1m4 0h1m10 0h1m12 0h1m6 0h1m5 0h2m2 0h1m11 0h1m19 0h1m6 0h1m2 0h2m5 0h1m10 0h1m2 0h1m1 0h1m41 0h1m1 0h1m2 0h1m23 0h1m2 0h1m4 0h1m19 0h1m10 0h1m11 0h1m4 0h1m1 0h1m2 0h2m9 0h1m5 0h1m1 0h1m5 0h1m3 0h1m9 0h1m-390 58h1m3 0h1m10 0h2m7 0h1m5 0h1m1 0h1m6 0h1m4 0h1m5 0h1m9 0h1m1 0h1m7 0h1m12 0h1m4 0h1m5 0h1m6 0h1m11 0h2m1 0h1m1 0h1m3 0h1m4 0h2m2 0h1m1 0h2m4 0h1m1 0h1m1 0h1m12 0h1m1 0h1m13 0h1m4 0h1m12 0h1m31 0h1m29 0h1m2 0h1m11 0h1m9 0h1m18 0h1m4 0h1m52 0h1m12 0h1m-180 29h1m3 0h1m7 0h1m6 0h1m9 0h1m7 0h1m1 0h1m3 0h1m12 0h1m3 0h1m14 0h1m9 0h1m4 0h1m12 0h1m7 0h1m6 0h1m17 0h1m2 0h2m5 0h2m2 0h1m1 0h1m2 0h1m5 0h1m1 0h1m2 0h1m6 0h1m2 0h1m22 0h1m2 0h1m2 0h1m8 0h1m-383 22h2m105 0h1m56 0h1m6 0h2m1 0h1m3 0h1m6 0h1m4 0h1m2 0h1m4 0h1m4 0h1m18 0h1m3 0h2m2 0h1m6 0h1m1 0h1m21 0h1m14 0h1m2 0h1m5 0h1m1 0h1m4 0h1m1 0h1m6 0h1m8 0h2m3 0h1m9 0h1m6 0h1m1 0h1m1 0h2m27 0h1m3 0h1m8 0h1m-208 29h1m10 0h1m29 0h1m25 0h1m2 0h1m17 0h1m30 0h1m11 0h1m7 0h1m1 0h1m1 0h1m1 0h1m47 0h1m5 0h1m7 0h1m-180 29h1m4 0h1m49 0h1m22 0h1m13 0h1m19 0h1m6 0h1m17 0h2m3 0h2m18 0h1m2 0h1m8 0h1m3 0h1"/>
<path stroke="#a81860" stroke-width="7" d="M292 283.5h1m179 0h1m-122 36h2m46 51h1m-6 7h1m71 73h1m-78 7h1m80 44h1m-106 36h1m75 0h1m19 0h1"/>
<path stroke="#a81860" stroke-width="8" d="M189 356h1m17 87h1m2 0h1m4 0h1m201 29h1m55 80h1"/>
<path stroke="#a82448" stroke-width="7" d="M415 377.5h1m-238 15h1m57 14h1m65 44h1m-37 51h1"/>
<path stroke="#a82448" stroke-width="8" d="M117 269h1m339 225h1"/>
<path stroke="#a82454" stroke-width="7" d="M251 283.5h1m139 0h1m-92 87h1m118 0h1m-18 65h1m48 15h1m-339 14h1"/>
<path stroke="#a82454" stroke-width="8" d="M101 414h1m68 0h1m44 0h1m235 58h1m-32 80h1"/>
<path stroke="#a83c48" stroke-width="8" d="M176 414h1m68 0h1"/>
<path stroke="#a84854" stroke-width="8" d="M174 414h1"/>
<path stroke="#b41848" stroke-width="7" d="M107 276.5h1m116 0h1m75 7h1m92 0h1m31 0h1m-351 29h1m18 0h1m23 0h1m37 0h1m27 0h1m17 0h1m171 0h1m-251 7h1m8 44h1m232 0h1m-290 7h1m63 0h1m27 0h1m291 0h1m-340 7h1m53 0h1m5 0h1m4 0h1m39 0h1m-118 15h1m8 0h1m159 0h1m121 0h1m-278 7h1m162 22h1m21 0h1m5 0h1m158 0h1m-160 7h1m56 0h1m-83 22h1m41 0h1m-259 7h1m371 0h1m4 0h1m7 0h1m-328 7h1m23 0h1m14 0h1m11 0h1m12 0h1m186 0h1m-32 15h1m100 0h1m-100 22h1m23 0h1m1 0h1m31 7h1m59 0h1m-354 29h1m10 0h1m298 0h1m-197 7h1m32 0h1m80 0h1"/>
<path stroke="#b41848" stroke-width="8" d="M216 269h1m37 0h1m-81 29h1m99 0h1m111 0h1m-292 29h1m155 0h1m84 29h1m-196 29h1m32 0h1m9 0h1m64 0h1m133 0h1m33 0h1m-193 58h1m30 0h1m62 0h1m102 0h1m48 0h1m1 0h1m-209 29h1m103 0h1m-8 22h1m21 0h1m5 29h1"/>
<path stroke="#b41854" stroke-width="7" d="M92 276.5h1m87 0h2m1 0h1m21 0h1m42 0h1m-175 7h1m7 0h2m3 0h1m14 0h1m7 0h1m4 0h1m2 0h1m4 0h1m5 0h2m2 0h1m17 0h3m20 0h1m2 0h1m5 0h1m7 0h1m20 0h1m15 0h1m32 0h1m11 0h1m5 0h1m3 0h1m7 0h1m19 0h1m12 0h3m33 0h1m7 0h1m8 0h1m20 0h1m57 0h1m-364 22h1m9 0h1m2 0h1m20 0h1m67 0h1m-112 7h1m17 0h1m6 0h1m16 0h1m3 0h1m9 0h1m7 0h1m1 0h1m11 0h1m17 0h1m10 0h1m1 0h1m5 0h1m22 0h1m16 0h1m16 0h1m24 0h1m10 0h1m9 0h2m4 0h1m45 0h2m36 0h1m17 0h1m18 0h1m29 0h1m18 0h1m-328 7h1m36 0h1m21 0h1m4 0h1m9 0h1m1 0h1m49 0h1m1 0h1m3 0h1m3 0h1m1 0h2m4 0h1m6 0h1m6 0h1m7 0h2m4 0h1m11 0h1m8 0h1m3 0h2m5 0h1m1 0h1m1 0h1m5 0h1m1 0h2m3 0h1m6 0h1m1 0h1m1 0h1m14 0h1m2 0h1m5 0h1m6 0h1m5 0h1m5 0h1m4 0h1m6 0h1m5 0h1m5 0h1m1 0h1m1 0h1m2 0h1m2 0h1m3 0h1m7 0h1m1 0h1m-349 15h1m10 0h1m90 0h1m19 0h2m-141 7h1m20 0h1m40 0h1m116 0h1m-76 22h1m-128 7h1m6 0h1m2 0h1m2 0h2m5 0h1m9 0h2m6 0h3m7 0h1m3 0h1m5 0h2m3 0h1m2 0h1m8 0h2m21 0h1m1 0h1m3 0h1m13 0h1m2 0h1m7 0h1m8 0h1m4 0h1m4 0h1m2 0h1m3 0h1m10 0h1m14 0h3m2 0h1m1 0h1m8 0h1m24 0h1m19 0h1m15 0h2m5 0h1m3 0h1m3 0h1m31 0h1m1 0h1m9 0h1m2 0h1m19 0h1m19 0h1m20 0h1m4 0h1m-379 7h1m25 0h1m14 0h1m17 0h1m8 0h1m36 0h1m16 0h1m8 0h1m17 0h1m15 0h1m4 0h1m1 0h1m9 0h1m1 0h1m3 0h1m18 0h1m10 0h1m6 0h1m6 0h1m7 0h2m3 0h1m6 0h1m2 0h1m1 0h2m1 0h1m10 0h1m2 0h1m5 0h1m1 0h2m18 0h1m1 0h1m1 0h1m2 0h1m7 0h1m7 0h1m11 0h1m1 0h1m16 0h1m2 0h1m7 0h1m16 0h1m-373 15h2m30 0h1m44 0h2m2 0h1m67 0h2m13 0h1m31 0h1m121 0h1m-170 7h2m-147 7h1m10 0h1m149 15h4m1 0h2m1 0h1m1 0h2m6 0h1m3 0h1m6 0h1m1 0h2m8 0h2m3 0h2m6 0h1m7 0h1m7 0h1m5 0h1m4 0h2m6 0h1m2 0h2m1 0h1m7 0h1m2 0h1m19 0h1m4 0h1m17 0h1m10 0h1m2 0h2m1 0h1m2 0h1m13 0h2m22 0h1m-211 7h1m2 0h1m1 0h1m1 0h1m4 0h1m1 0h1m20 0h1m3 0h1m10 0h1m13 0h2m11 0h1m11 0h2m15 0h1m2 0h1m3 0h1m28 0h1m1 0h2m20 0h1m20 0h1m12 0h1m-201 7h1m22 0h1m8 0h1m8 0h1m36 0h2m62 0h1m60 0h1m-200 15h1m25 0h1m42 0h1m9 0h1m35 0h1m5 0h1m39 0h1m4 0h2m28 0h2m-225 7h1m16 0h1m29 0h1m15 0h1m14 0h1m4 0h1m4 0h1m1 0h2m12 0h1m13 0h1m2 0h1m1 0h1m12 0h1m6 0h1m1 0h1m6 0h2m6 0h1m9 0h1m1 0h1m18 0h1m1 0h1m22 0h1m2 0h1m1 0h1m-382 7h1m42 0h1m44 0h1m56 0h1m5 0h1m25 0h1m3 0h1m20 0h1m1 0h1m7 0h1m5 0h1m12 0h1m10 0h1m24 0h1m12 0h2m2 0h1m1 0h1m1 0h1m25 0h1m12 0h1m27 0h1m3 0h1m2 0h1m15 0h1m-185 15h1m15 0h1m30 0h1m1 0h1m36 0h1m11 0h1m39 0h1m1 0h1m19 0h1m32 0h2m-213 7h1m18 0h1m37 0h1m32 0h1m38 0h1m8 0h1m-143 15h1m2 0h1m8 0h1m8 0h1m8 0h1m6 0h1m21 0h2m1 0h1m18 0h1m4 0h2m4 0h1m11 0h1m12 0h2m21 0h1m5 0h1m3 0h1m9 0h1m2 0h1m5 0h1m6 0h1m8 0h1m4 0h1m3 0h1m2 0h1m5 0h1m4 0h1m2 0h2m4 0h1m1 0h1m-189 7h1m4 0h2m11 0h1m5 0h1m90 0h1m34 0h1m-365 22h1m4 0h1m5 0h1m8 0h1m29 0h1m8 0h1m21 0h2m7 0h2m11 0h1m6 0h1m30 0h1m15 0h1m5 0h1m2 0h1m-64 7h1m90 0h1m4 0h2m2 0h2m2 0h1m6 0h2m1 0h4m1 0h1m4 0h3m3 0h3m4 0h1m1 0h1m8 0h1m5 0h1m12 0h1m5 0h1m2 0h2m1 0h1m1 0h1m7 0h1m10 0h1m5 0h1m9 0h1m23 0h1m13 0h1m5 0h1m4 0h2m11 0h1m1 0h1m2 0h1m1 0h1m3 0h3m3 0h1m3 0h1m1 0h1m-388 7h1m4 0h1m7 0h1m13 0h1m34 0h1m1 0h1m7 0h1m5 0h1m1 0h1m23 0h1m5 0h1m6 0h2m10 0h2m32 0h2m34 0h1m19 0h1m1 0h2m12 0h1m2 0h1m1 0h1m8 0h2m18 0h2m18 0h1m4 0h1m2 0h1m1 0h1m6 0h2m8 0h1m1 0h1m20 0h1m7 0h2m10 0h1m4 0h1m5 0h1m5 0h1m2 0h1"/>
<path stroke="#b41854" stroke-width="8" d="M75 269h1m1 0h1m9 0h1m4 0h1m6 0h1m5 0h1m4 0h1m11 0h1m14 0h1m1 0h1m20 0h1m1 0h1m4 0h1m11 0h1m5 0h1m3 0h1m7 0h1m26 0h1m12 0h1m9 0h2m3 0h1m-166 29h1m1 0h1m10 0h1m14 0h1m10 0h1m22 0h1m1 0h1m8 0h1m16 0h2m1 0h1m3 0h1m13 0h3m4 0h1m6 0h1m5 0h1m4 0h1m3 0h1m1 0h1m15 0h1m2 0h2m4 0h1m42 0h1m21 0h1m29 0h1m12 0h1m62 0h1m38 0h1m-384 29h1m56 0h1m104 0h1m3 0h1m-39 29h1m38 0h1m134 0h1m-303 29h1m4 0h1m18 0h1m4 0h1m6 0h1m1 0h1m2 0h1m4 0h1m8 0h1m6 0h1m1 0h2m4 0h1m13 0h1m1 0h1m3 0h2m3 0h1m1 0h1m13 0h1m1 0h1m1 0h1m3 0h1m6 0h1m14 0h1m9 0h2m2 0h2m9 0h1m7 0h2m12 0h1m30 0h1m1 0h2m13 0h1m7 0h1m5 0h4m1 0h1m11 0h1m4 0h1m6 0h1m35 0h1m5 0h1m1 0h2m12 0h2m52 0h1m1 0h1m3 0h1m-228 29h1m-154 29h1m4 0h1m26 0h1m28 0h2m3 0h1m31 0h1m3 0h2m15 0h1m1 0h1m3 0h1m19 0h1m1 0h1m28 0h1m1 0h1m12 0h1m4 0h1m34 0h1m6 0h1m4 0h1m27 0h1m8 0h1m2 0h1m1 0h1m12 0h1m2 0h1m8 0h2m1 0h2m4 0h1m2 0h1m10 0h1m1 0h1m1 0h1m11 0h1m6 0h2m11 0h1m1 0h1m-201 29h1m6 0h3m2 0h1m14 0h1m36 0h1m1 0h1m1 0h1m3 0h1m12 0h2m21 0h1m8 0h1m5 0h2m2 0h3m6 0h1m14 0h1m4 0h1m28 0h1m6 0h1m5 0h1m5 0h1m-214 22h2m8 0h1m5 0h1m4 0h1m1 0h1m6 0h1m1 0h1m3 0h1m2 0h1m12 0h1m2 0h1m3 0h1m4 0h1m1 0h2m10 0h1m1 0h2m2 0h1m4 0h4m2 0h1m1 0h1m1 0h2m3 0h1m4 0h1m7 0h1m15 0h1m3 0h1m3 0h1m20 0h1m10 0h1m5 0h1m6 0h1m1 0h1m1 0h2m3 0h1m9 0h1m-168 29h1m97 0h1m77 0h1m-183 29h1m31 0h1m13 0h1m42 0h1m45 0h1m19 0h1m26 0h2"/>
<path stroke="#b42448" stroke-width="7" d="M192 276.5h1m23 29h1m-117 7h1m85 0h1m214 0h1m-130 7h1m-192 51h1m227 0h1m16 22h1m90 29h1m-58 7h1m-196 36h1m165 0h1m51 37h1m-155 29h1m-40 7h1m229 0h1m-159 7h1"/>
<path stroke="#b42448" stroke-width="8" d="M257 269h1m215 29h1m-292 116h1m132 58h1m8 0h1"/>
<path stroke="#b42454" stroke-width="7" d="M109 283.5h1m147 0h1m100 29h1m-100 7h1m-16 51h1m37 0h1m124 51h1m-132 7h1m142 7h1m58 22h1m-125 7h1m45 0h1m1 0h1m2 0h1m68 0h1m-7 15h1m-186 22h1m14 0h1m19 0h1m41 0h1m-157 29h1m4 0h1m-34 7h1m272 0h1m-59 7h1m44 0h1"/>
<path stroke="#b42454" stroke-width="8" d="M106 269h1m75 29h1m-59 87h1m-19 29h1m181 29h1m25 0h1m-20 51h1m35 0h1"/>
<path stroke="#b43048" stroke-width="7" d="M180 530.5h1m91 7h1"/>
<path stroke="#b43048" stroke-width="8" d="M90 414h1"/>
<path stroke="#b43054" stroke-width="8" d="M186 269h1"/>
<path stroke="#b44854" stroke-width="8" d="M133 414h1"/>
<path stroke="#b46c78" stroke-width="8" d="M136 414h1"/>
<path stroke="#c01848" stroke-width="7" d="M85 283.5h1m113 0h1m46 0h1m-4 22h1m-120 7h1m13 0h1m21 0h1m8 0h1m41 0h1m11 0h1m1 0h1m-114 7h1m8 0h1m58 0h1m6 0h1m40 0h1m164 0h1m39 0h1m-113 29h1m-247 22h1m7 0h1m14 0h1m31 0h1m6 0h1m41 0h1m60 0h1m-126 7h1m11 0h1m5 0h1m70 0h1m42 0h1m167 44h1m-129 7h1m21 0h1m16 0h1m2 0h1m6 0h1m13 0h1m66 0h1m7 0h2m44 0h1m-282 29h1m86 0h1m48 0h1m14 0h1m10 0h1m8 0h1m39 0h1m30 0h1m1 0h1m33 0h1m1 0h1m-381 7h1m58 0h1m94 0h1m39 0h1m25 0h1m108 0h1m-118 37h1m21 0h1m10 0h1m4 0h1m16 0h1m85 0h1m-330 29h1m61 0h1m43 0h1m30 0h1m86 7h1m55 0h1m32 0h1m-343 7h1m14 0h1m5 0h1m23 0h1m57 0h1m36 0h1m43 0h1m12 0h1m89 0h1m5 0h1m4 0h1m9 0h1m2 0h1m19 0h2m41 0h1"/>
<path stroke="#c01848" stroke-width="8" d="M98 269h1m42 0h1m32 0h1m27 0h1m6 0h1m-103 29h1m5 0h1m8 0h1m15 0h1m77 0h1m25 0h1m-130 87h1m20 0h1m22 0h1m44 0h1m18 0h1m-76 58h1m116 0h1m74 0h1m16 0h1m3 0h1m28 0h1m59 0h1m1 0h1m6 0h1m1 0h1m15 0h1m-172 51h1m24 0h1m123 0h1m18 0h1"/>
<path stroke="#c01854" stroke-width="7" d="M76 283.5h1m19 0h1m1 0h1m12 0h1m4 0h1m15 0h1m3 0h1m1 0h2m21 0h2m4 0h1m11 0h2m6 0h1m19 0h1m1 0h3m1 0h2m3 0h1m5 0h1m4 0h1m1 0h1m24 0h1m3 0h1m126 0h1m-225 22h1m-86 7h1m3 0h2m1 0h1m10 0h1m7 0h1m1 0h1m8 0h1m9 0h1m6 0h3m6 0h1m37 0h1m25 0h1m12 0h2m16 0h1m1 0h1m15 0h1m25 0h1m-206 7h1m2 0h4m3 0h1m2 0h1m2 0h1m5 0h1m10 0h1m11 0h1m4 0h1m9 0h1m10 0h1m9 0h1m5 0h1m13 0h1m5 0h1m6 0h1m3 0h1m84 0h1m2 0h2m1 0h1m8 0h2m5 0h2m6 0h1m16 0h1m11 0h2m1 0h1m4 0h2m6 0h1m2 0h1m5 0h1m14 0h1m7 0h1m4 0h1m6 0h1m18 0h1m2 0h1m5 0h1m1 0h1m9 0h1m1 0h1m9 0h1m1 0h1m3 0h1m9 0h1m1 0h1m-7 29h1m-371 22h2m10 0h2m2 0h1m5 0h3m3 0h3m1 0h1m3 0h1m18 0h1m1 0h1m2 0h1m11 0h1m14 0h1m9 0h2m1 0h1m1 0h1m2 0h1m2 0h2m2 0h1m1 0h1m2 0h1m1 0h1m6 0h6m7 0h1m4 0h1m19 0h2m18 0h1m8 0h1m3 0h1m18 0h1m73 0h1m8 0h1m5 0h1m28 0h1m38 0h1m-372 7h1m2 0h1m2 0h1m4 0h1m38 0h1m2 0h2m4 0h1m7 0h1m31 0h1m7 0h1m7 0h1m24 0h1m2 0h3m3 0h1m5 0h1m2 0h2m4 0h1m3 0h1m1 0h1m17 0h1m12 0h1m4 0h2m23 0h1m11 0h1m16 0h1m21 0h1m21 0h1m3 0h1m5 0h1m46 0h1m-226 15h1m29 29h1m34 0h1m42 0h1m2 0h1m34 0h1m35 0h1m7 0h1m30 0h1m-182 7h1m4 0h1m3 0h2m1 0h1m1 0h1m6 0h1m1 0h1m2 0h2m9 0h1m12 0h1m3 0h3m5 0h1m5 0h2m26 0h1m1 0h1m14 0h2m9 0h2m12 0h3m6 0h1m12 0h2m1 0h2m12 0h1m16 0h1m10 0h2m-177 7h1m-22 22h1m20 0h1m9 0h1m6 0h1m27 0h1m5 0h1m5 0h1m5 0h1m6 0h1m5 0h1m15 0h1m2 0h1m7 0h2m12 0h1m8 0h1m-297 7h1m105 0h1m23 0h1m1 0h1m14 0h1m1 0h1m2 0h1m6 0h1m2 0h1m3 0h1m4 0h1m3 0h1m13 0h1m4 0h1m2 0h1m8 0h2m4 0h1m2 0h2m3 0h1m3 0h1m2 0h1m1 0h2m8 0h1m3 0h1m5 0h1m18 0h1m27 0h1m7 0h1m1 0h3m3 0h2m6 0h2m1 0h1m7 0h1m7 0h1m1 0h1m-187 15h1m44 0h1m-69 22h1m13 0h3m1 0h1m12 0h1m10 0h1m11 0h1m31 0h2m9 0h1m3 0h1m45 0h3m5 0h1m2 0h1m5 0h1m13 0h1m10 0h1m1 0h1m19 0h1m-192 7h1m119 0h1m-311 22h1m11 0h1m2 0h1m1 0h1m8 0h1m2 0h1m4 0h1m13 0h1m4 0h3m6 0h2m13 0h3m3 0h1m17 0h1m1 0h2m3 0h1m11 0h1m10 0h1m2 0h1m4 0h1m28 7h1m15 0h2m13 0h1m13 0h3m6 0h1m1 0h1m7 0h1m2 0h1m7 0h2m4 0h1m8 0h1m2 0h1m9 0h1m1 0h1m2 0h2m6 0h2m32 0h2m4 0h2m8 0h1m10 0h1m37 0h2m-369 7h1m11 0h1m29 0h1m46 0h1m13 0h2m47 0h1m13 0h2m4 0h1m4 0h1m3 0h1m13 0h5m11 0h1m4 0h1m1 0h1m2 0h1m3 0h2m1 0h1m2 0h1m10 0h2m4 0h2m5 0h2m11 0h1m13 0h1m14 0h2m4 0h1m13 0h1m7 0h1m2 0h1m5 0h1m24 0h1m8 0h1"/>
<path stroke="#c01854" stroke-width="8" d="M81 269h2m12 0h1m4 0h1m2 0h2m2 0h2m2 0h3m10 0h2m2 0h1m1 0h1m4 0h2m8 0h1m1 0h2m3 0h1m16 0h1m7 0h1m5 0h1m6 0h1m1 0h1m1 0h1m10 0h1m4 0h1m9 0h1m2 0h1m5 0h1m13 0h1m-170 29h1m16 0h1m7 0h1m2 0h2m6 0h1m5 0h2m11 0h1m4 0h2m11 0h1m14 0h2m5 0h1m6 0h1m6 0h1m1 0h1m6 0h5m5 0h1m1 0h1m3 0h1m22 0h1m2 0h1m17 0h1m126 0h3m44 0h1m-352 87h1m1 0h1m4 0h1m4 0h1m11 0h2m3 0h1m1 0h1m9 0h1m3 0h1m7 0h1m15 0h1m2 0h2m17 0h1m2 0h2m18 0h3m17 0h2m12 0h1m3 0h1m1 0h2m3 0h1m19 0h1m61 0h1m84 0h1m59 0h1m3 0h2m-199 58h1m6 0h1m3 0h1m1 0h1m2 0h1m8 0h1m4 0h1m3 0h2m5 0h1m3 0h1m12 0h1m4 0h4m5 0h1m20 0h1m1 0h1m2 0h1m13 0h1m10 0h1m27 0h1m4 0h1m1 0h1m7 0h1m3 0h1m26 0h1m2 0h1m-156 29h1m4 0h1m15 0h1m1 0h1m25 0h1m111 0h1m-203 22h1m4 0h1m9 0h1m1 0h1m1 0h1m11 0h1m5 0h1m27 0h1m7 0h1m7 0h1m14 0h1m7 0h1m14 0h1m6 0h1m16 0h1m1 0h1m16 0h2m5 0h2m4 0h1m14 0h1m3 0h1"/>
<path stroke="#c02448" stroke-width="7" d="M189 276.5h1m-113 7h1m77 0h1m8 0h1m37 0h1m1 0h1m-52 29h1m22 0h1m30 0h1m5 0h1m16 0h1m194 0h1m-349 7h1m35 0h1m26 0h1m3 0h1m85 0h1m30 0h1m44 0h1m5 0h1m47 0h1m98 0h1m3 0h1m-76 29h1m-279 22h1m32 0h1m81 0h1m1 0h1m26 0h1m105 0h1m78 0h1m-361 7h1m33 0h1m10 0h1m60 0h1m35 0h1m8 0h1m138 0h1m-2 44h1m94 0h1m-180 7h1m9 0h1m22 0h1m22 0h1m35 0h1m3 0h1m5 0h1m3 0h1m7 0h1m-127 29h1m40 0h1m66 0h1m38 0h1m2 0h1m-332 7h1m82 0h1m159 0h1m5 0h1m19 0h1m24 0h1m17 0h1m51 0h1m3 0h1m12 0h1m-174 15h1m-12 22h1m2 0h1m104 0h1m-239 29h1m58 0h1m30 0h1m7 0h1m63 7h1m-21 7h1m58 0h1m86 0h1"/>
<path stroke="#c02448" stroke-width="8" d="M153 269h1m45 0h1m19 0h1m13 0h1m15 0h1m-171 29h1m2 0h1m36 0h1m45 0h1m71 0h1m18 0h1m-178 87h1m29 0h1m19 0h1m86 0h1m25 0h1m126 0h1m5 0h1m79 0h1m12 0h1m-240 29h1m85 29h1m49 0h1m24 0h1m3 0h1m10 0h1m1 0h1m38 0h1m5 0h1m-166 29h1m11 0h1m159 0h1m-58 22h1m56 0h1"/>
<path stroke="#c02454" stroke-width="7" d="M103 312.5h1m4 0h1m50 0h1m164 7h1m111 0h1m-243 51h1m19 0h1m27 0h1m-168 7h1m32 0h1m140 0h1m29 0h1m132 0h1m46 0h1m-351 29h1m165 15h1m60 0h1m94 7h1m35 0h1m-56 22h1m26 7h1m-121 7h1m81 0h1m36 0h1m-131 37h2m165 0h1m-400 29h1m1 0h1m3 0h1m196 7h1m2 0h1m17 0h1m101 0h1m-126 7h1m147 0h1m1 0h1m37 0h1"/>
<path stroke="#c02454" stroke-width="8" d="M126 269h1m113 0h1m-160 29h1m48 0h1m58 0h1m65 0h1m-57 87h1m82 58h1m12 0h1m10 0h2m45 0h1m59 0h1m16 0h1m1 0h1m7 0h1m-60 51h1m10 0h1m14 0h1m29 0h1m29 0h1"/>
<path stroke="#c0303c" stroke-width="8" d="M204 385h1"/>
<path stroke="#c03048" stroke-width="7" d="M230 283.5h1m131 138h1m-142 109h1"/>
<path stroke="#c03048" stroke-width="8" d="M256 414h1m60 29h1"/>
<path stroke="#c03054" stroke-width="8" d="M106 443h1"/>
<path stroke="#c03c54" stroke-width="8" d="M252 414h1"/>
<path stroke="#c04854" stroke-width="8" d="M120 414h1"/>
<path stroke="#c05460" stroke-width="8" d="M75 414h1m34 0h1"/>
<path stroke="#c0606c" stroke-width="8" d="M200 414h1"/>
<path stroke="#cc1848" stroke-width="7" d="M149 283.5h1m18 29h1m-95 7h1m15 0h1m81 0h1m101 0h1m-42 51h1m-118 7h1m42 0h1m49 0h1m51 80h1m63 0h1m-59 7h1m4 0h1m1 0h1m119 0h1m-309 66h1m39 0h1m4 0h1m279 14h1m31 0h1m9 0h1"/>
<path stroke="#cc1848" stroke-width="8" d="M133 269h1m21 0h1m-28 29h1m48 87h1m284 0h1m-185 58h1m45 0h2m-9 29h1m48 22h1m49 0h1m8 0h1m17 0h1"/>
<path stroke="#cc1854" stroke-width="7" d="M94 283.5h1m17 0h1m24 0h1m7 0h1m20 0h1m1 0h1m15 0h1m5 0h1m26 0h1m34 0h1m2 0h1m-177 29h1m1 0h1m23 0h1m21 0h1m14 0h1m9 0h1m34 0h1m4 0h1m27 0h2m20 0h1m50 0h1m-208 7h1m14 0h1m7 0h1m53 0h2m27 0h1m7 0h1m23 0h1m19 0h1m8 0h1m19 0h1m22 0h1m105 0h1m-64 29h1m25 0h1m-282 22h1m44 0h1m17 0h1m39 0h1m14 0h1m6 0h1m13 0h1m-124 7h1m2 0h1m3 0h1m34 0h1m5 0h1m2 0h1m36 0h1m18 0h1m2 0h1m7 0h1m217 44h1m-178 7h1m106 0h1m1 0h1m66 0h2m36 0h1m-60 22h1m-122 7h2m15 0h1m6 0h1m46 0h1m-97 7h2m7 0h1m4 0h2m40 0h1m42 0h1m7 0h1m31 0h1m2 0h1m5 0h1m34 0h1m12 0h1m-366 66h1m9 0h1m53 0h1m22 0h1m1 0h1m23 0h2m53 7h1m27 0h1m59 0h1m70 0h1m36 0h1m9 0h1m-158 7h1m36 0h1m15 0h1m1 0h1m34 0h1m19 0h1m46 0h1"/>
<path stroke="#cc1854" stroke-width="8" d="M76 269h1m32 0h1m28 0h1m54 0h1m2 0h1m45 0h1m-167 29h1m15 0h1m15 0h1m11 0h2m5 0h1m16 0h1m65 0h2m12 0h1m18 0h2m-160 87h1m9 0h1m39 0h1m20 0h1m4 0h1m6 0h1m26 0h1m5 0h1m10 0h1m4 0h1m249 0h1m-276 58h1m71 0h1m8 0h1m22 0h1m57 0h1m5 0h1m1 0h1m30 0h1m8 0h1m48 0h1m14 0h1m-132 51h2m53 0h1m47 0h1m15 0h1m8 0h1"/>
<path stroke="#cc2448" stroke-width="7" d="M75 283.5h1m5 0h1m8 0h1m1 0h1m7 0h1m19 0h1m4 0h1m2 0h1m17 0h1m9 0h1m2 0h1m10 0h1m1 0h1m3 0h1m4 0h1m3 0h1m3 0h1m4 0h2m1 0h1m2 0h2m17 0h1m3 0h1m1 0h1m1 0h1m5 0h1m1 0h2m6 0h1m5 0h1m3 0h1m-164 29h3m4 0h1m1 0h1m21 0h1m13 0h1m8 0h2m5 0h1m6 0h1m29 0h1m5 0h2m1 0h1m6 0h1m11 0h1m10 0h1m13 0h1m2 0h1m-158 7h1m6 0h1m1 0h1m5 0h1m2 0h1m4 0h1m4 0h1m14 0h1m1 0h3m3 0h1m2 0h1m1 0h1m5 0h1m2 0h2m1 0h1m2 0h1m1 0h1m4 0h1m5 0h1m6 0h1m4 0h1m1 0h1m8 0h1m1 0h1m1 0h1m2 0h1m2 0h1m8 0h1m2 0h3m2 0h1m1 0h1m7 0h1m1 0h1m3 0h2m6 0h1m1 0h1m1 0h1m104 0h1m11 0h1m9 0h1m91 0h1m-219 29h1m13 0h1m5 0h1m2 0h1m13 0h1m4 0h1m3 0h2m15 0h1m5 0h1m9 0h1m1 0h1m3 0h1m20 0h1m2 0h1m9 0h1m33 0h1m5 0h1m4 0h1m18 0h1m8 0h1m3 0h1m1 0h1m-364 22h1m4 0h1m10 0h1m3 0h1m22 0h1m35 0h1m46 0h1m1 0h1m22 0h1m20 0h1m-184 7h1m6 0h1m1 0h1m2 0h2m2 0h1m7 0h1m10 0h1m9 0h1m5 0h1m2 0h1m1 0h1m1 0h1m4 0h3m1 0h1m13 0h2m7 0h1m1 0h1m3 0h2m1 0h2m21 0h1m9 0h1m5 0h1m10 0h1m30 0h3m38 44h1m130 0h1m-167 7h2m8 0h1m1 0h1m18 0h1m109 0h2m47 0h1m3 0h1m9 0h1m7 0h1m-57 22h1m-122 7h1m4 0h1m17 0h1m32 0h1m13 0h1m6 0h1m3 0h1m19 0h1m30 0h1m41 0h1m-200 7h1m9 0h1m18 0h1m6 0h1m25 0h1m4 0h1m13 0h1m3 0h1m24 0h2m8 0h1m5 0h1m1 0h1m9 0h2m1 0h1m5 0h1m2 0h1m1 0h1m16 0h1m13 0h2m10 0h1m1 0h1m10 0h1m-10 15h1m-10 7h1m-187 15h1m24 0h1m7 0h1m145 0h1m-374 29h1m9 0h1m1 0h2m1 0h2m5 0h1m4 0h1m2 0h1m2 0h1m2 0h1m1 0h1m10 0h1m2 0h1m2 0h1m1 0h1m3 0h1m1 0h1m4 0h1m3 0h1m6 0h2m1 0h1m22 0h1m1 0h1m2 0h2m4 0h1m1 0h1m1 0h2m4 0h1m3 0h1m13 0h1m8 0h2m8 0h1m11 0h1m31 0h1m84 0h1m25 0h1m6 0h1m3 0h1m14 0h1m15 0h1m-154 7h1m29 0h1m1 0h1m21 0h1m112 0h1m4 0h1m-290 7h1m97 0h1m2 0h1m4 0h1m3 0h1m2 0h1m2 0h1m5 0h3m1 0h1m1 0h1m9 0h1m6 0h1m11 0h1m6 0h1m9 0h2m11 0h1m6 0h1m3 0h1m5 0h1m6 0h1m4 0h1m14 0h3m15 0h1m11 0h1m8 0h1m1 0h1m8 0h1m12 0h1m3 0h1m3 0h1m1 0h1"/>
<path stroke="#cc2448" stroke-width="8" d="M79 269h1m13 0h1m2 0h1m18 0h1m3 0h2m8 0h1m2 0h1m17 0h1m5 0h1m11 0h1m7 0h1m3 0h1m1 0h1m15 0h1m5 0h1m6 0h1m1 0h1m13 0h1m2 0h1m4 0h1m8 0h1m-168 29h1m5 0h1m1 0h1m4 0h1m5 0h1m1 0h1m44 0h1m8 0h1m8 0h1m6 0h1m1 0h1m16 0h1m2 0h1m6 0h1m3 0h1m5 0h1m1 0h1m7 0h1m7 0h1m-123 87h1m11 0h1m5 0h1m10 0h1m7 0h1m19 0h1m52 0h1m21 0h1m31 58h1m1 0h1m22 0h1m7 0h1m3 0h2m6 0h1m9 0h2m20 0h1m4 0h2m16 0h2m23 0h1m4 0h2m4 0h1m6 0h1m3 0h2m11 0h1m8 0h1m2 0h1m20 0h1m2 0h1m-176 29h1m87 0h1m63 0h1m-163 22h1m5 0h1m17 0h1m20 0h1m41 0h1m74 0h1m27 0h1"/>
<path stroke="#cc2454" stroke-width="7" d="M91 283.5h1m7 0h1m19 0h1m96 0h1m37 0h1m-106 29h1m87 0h1m-109 7h1m29 0h1m48 0h1m185 29h1m-200 29h1m210 44h1m-83 36h1m67 0h1m-84 7h1m28 0h1m35 0h1m2 0h1m28 0h1m62 0h1m-342 66h1m5 0h1m15 0h1m102 0h1m147 7h1m2 0h1m59 0h1m-178 7h1m63 0h1m25 0h1"/>
<path stroke="#cc2454" stroke-width="8" d="M170 269h2m-86 29h1m7 0h1m14 0h1m76 0h1m-111 87h1m7 0h1m8 0h1m334 58h1m-75 51h1m53 0h1m27 0h1"/>
<path stroke="#cc303c" stroke-width="7" d="M174 319.5h1m86 29h1m128 0h1m-1 73h1m-39 7h1m83 73h1m-255 29h1m126 0h1m147 0h1"/>
<path stroke="#cc303c" stroke-width="8" d="M79 414h1"/>
<path stroke="#cc3048" stroke-width="7" d="M147 283.5h1m89 0h1m-125 29h1m8 0h1m132 0h1m-173 7h1m35 0h1m57 0h1m31 0h1m41 0h1m100 29h1m39 0h1m43 0h1m17 0h1m-261 29h1m22 0h1m241 51h2m-186 29h1m3 0h1m160 0h1m-49 7h1m-93 37h1m-128 29h1m33 0h1m44 0h1m87 0h1m86 0h1m-6 14h1"/>
<path stroke="#cc3048" stroke-width="8" d="M78 269h1m146 0h1m13 0h1m-49 29h1m21 0h1m-131 87h1m8 0h1m179 58h1"/>
<path stroke="#cc3c48" stroke-width="7" d="M422 530.5h1"/>
<path stroke="#cc3c48" stroke-width="8" d="M163 414h1m41 0h1"/>
<path stroke="#cc5460" stroke-width="8" d="M166 414h1"/>
<path stroke="#d82448" stroke-width="7" d="M80 283.5h1m12 0h1m13 0h2m12 0h1m4 0h1m33 0h1m35 0h1m9 0h1m8 0h1m25 0h1m5 0h2m-142 29h1m55 0h1m79 0h1m-149 7h1m4 0h1m2 0h1m2 0h1m9 0h1m19 0h1m8 0h1m24 0h1m20 0h1m11 0h1m3 0h1m4 0h1m9 0h1m20 0h1m4 0h1m5 0h1m-115 29h1m127 0h2m9 0h2m3 0h1m6 0h1m2 0h2m16 0h1m21 0h1m28 0h2m13 0h2m25 0h1m24 0h1m9 0h1m21 0h1m1 0h1m1 0h1m1 0h1m-274 22h1m5 0h1m-126 7h1m5 0h1m9 0h1m2 0h1m1 0h1m3 0h2m2 0h2m37 0h1m23 0h2m2 0h1m10 0h2m4 0h1m21 0h1m7 0h1m4 0h1m4 0h1m5 0h1m190 80h1m-154 7h1m5 0h1m14 0h1m22 0h1m21 0h1m17 0h1m18 0h1m18 0h1m35 0h2m-356 66h1m43 0h1m5 0h1m2 0h1m7 0h1m1 0h1m20 0h1m27 0h1m3 0h1m11 0h1m17 0h1m11 0h1m11 0h1m13 0h1m93 0h1m4 0h1m84 0h1m-166 7h1m-21 7h1m11 0h1m2 0h1m19 0h1m13 0h1m7 0h1m6 0h1m12 0h1m14 0h1m1 0h1m10 0h2m3 0h1m13 0h1m2 0h1m33 0h1m32 0h1m14 0h1"/>
<path stroke="#d82448" stroke-width="8" d="M101 269h2m60 0h1m77 0h1m-167 29h1m17 0h1m54 0h1m81 0h1m4 0h2m-88 87h2m132 58h1m180 0h1m-39 51h1"/>
<path stroke="#d8303c" stroke-width="7" d="M113 283.5h1m128 36h1m13 0h1m49 29h1m38 0h1m40 0h1m64 0h1m-274 29h1m161 80h1m-29 7h1m-230 66h1m118 0h1m109 0h1m73 0h1m30 0h1"/>
<path stroke="#d83048" stroke-width="7" d="M79 283.5h1m15 0h1m7 0h2m17 0h1m1 0h1m2 0h1m16 0h1m3 0h1m9 0h1m6 0h1m66 0h1m7 0h1m-113 29h1m14 0h1m45 0h1m20 0h1m-113 7h2m28 0h1m25 0h1m14 0h1m14 0h1m5 0h1m4 0h1m1 0h1m1 0h1m6 0h1m4 0h1m24 0h1m15 0h1m2 0h1m-169 29h2m53 0h1m11 0h1m84 0h1m13 0h1m12 0h2m7 0h2m6 0h1m1 0h1m4 0h1m24 0h2m1 0h1m21 0h2m1 0h1m4 0h1m8 0h1m2 0h1m14 0h3m7 0h1m7 0h1m1 0h1m5 0h2m3 0h1m5 0h1m5 0h1m1 0h1m4 0h1m1 0h1m1 0h1m1 0h1m7 0h1m1 0h1m27 0h2m1 0h1m1 0h1m-384 29h1m18 0h1m38 0h1m40 0h1m11 0h1m11 0h1m19 0h1m185 0h1m-147 80h1m118 0h1m-102 7h2m19 0h1m11 0h1m24 0h1m75 0h1m-154 37h1m-199 29h1m5 0h1m18 0h1m48 0h1m1 0h1m45 0h1m38 0h1m5 0h1m16 0h1m8 0h2m22 0h1m39 0h1m1 0h1m24 0h1m37 0h1m14 0h1m3 0h1m14 0h1m43 0h1m-198 14h1m12 0h1m7 0h1m36 0h1m83 0h1"/>
<path stroke="#d83048" stroke-width="8" d="M127 269h1m18 0h1m17 0h1m26 0h1m9 0h1m4 0h2m28 0h1m-142 29h1m66 87h1m-41 29h1m20 0h1m143 29h1m11 0h1m8 0h1m68 0h1m47 0h1m-132 51h1"/>
<path stroke="#d83c3c" stroke-width="7" d="M106 283.5h1m20 36h1m107 0h1m23 29h1m12 0h1m31 0h1m42 0h1m6 0h1m19 0h1m23 0h1m45 0h1m8 0h1m3 0h1m1 0h1m-220 29h1m67 87h1m-211 66h1m164 0h1m1 0h1m6 0h1m50 0h1m47 0h1m2 0h1m14 0h1m39 0h1m23 0h1m6 0h1m1 0h1"/>
<path stroke="#d83c3c" stroke-width="8" d="M132 414h1m64 0h1"/>
<path stroke="#d83c48" stroke-width="7" d="M175 348.5h1m133 0h1m105 0h1m22 0h1m4 0h1m5 0h1m-329 29h1m168 87h1m-25 66h1m21 0h1m40 0h1m1 0h1m123 0h1m16 0h1m1 0h1"/>
<path stroke="#d83c48" stroke-width="8" d="M116 414h1m43 0h1m75 0h1"/>
<path stroke="#d8483c" stroke-width="7" d="M422 348.5h1m-123 182h1m68 0h1m72 0h1"/>
<path stroke="#d84848" stroke-width="7" d="M302 348.5h1"/>
<path stroke="#d84848" stroke-width="8" d="M146 414h1m47 0h1"/>
<path stroke="#d84854" stroke-width="7" d="M278 348.5h1"/>
<path stroke="#d84854" stroke-width="8" d="M165 414h1m24 0h1m20 0h1"/>
<path stroke="#d85454" stroke-width="8" d="M254 414h1"/>
<path stroke="#d86054" stroke-width="8" d="M127 414h1"/>
<path stroke="#d86c60" stroke-width="8" d="M233 414h1"/>
<path stroke="#d89c84" stroke-width="8" d="M113 414h1"/>
<path stroke="#e43048" stroke-width="7" d="M169 283.5h1m35 0h1m28 0h1m7 0h1m165 7h1m-316 29h1m10 0h1m42 0h1m-31 29h1m4 0h1m10 0h1m23 0h1m1 0h1m37 0h1m23 0h1m7 0h1m16 0h1m42 0h1m27 0h1m4 0h3m7 0h1m3 0h1m1 0h1m12 0h1m30 0h2m13 0h1m21 0h1m27 0h1m2 0h1m14 0h1m-321 29h1m4 0h1m50 0h1m11 0h1m48 153h1m16 0h1m1 0h1m8 0h1m22 0h1m3 0h1m6 0h1m10 0h1m29 0h1m44 0h1m14 0h1"/>
<path stroke="#e43048" stroke-width="8" d="M145 414h1"/>
<path stroke="#e43c3c" stroke-width="7" d="M188 283.5h1m154 7h1m3 0h1m7 0h1m12 0h1m13 0h1m5 0h1m67 0h1m9 0h1m-375 29h1m55 0h1m-74 29h1m6 0h2m1 0h2m4 0h2m1 0h1m3 0h1m3 0h1m1 0h1m5 0h1m5 0h1m1 0h1m12 0h1m3 0h1m15 0h1m3 0h2m1 0h1m3 0h1m4 0h1m3 0h2m7 0h1m2 0h1m1 0h1m4 0h2m1 0h1m4 0h1m4 0h1m8 0h1m1 0h2m2 0h1m1 0h1m5 0h1m3 0h2m6 0h1m1 0h1m2 0h1m1 0h1m1 0h1m26 0h1m7 0h1m5 0h1m36 0h2m1 0h1m8 0h1m23 0h2m3 0h1m5 0h1m59 0h1m22 0h1m11 0h1m-277 29h1m68 153h1m9 0h1m11 0h2m18 0h4m1 0h1m17 0h1m1 0h2m7 0h1m1 0h1m5 0h1m3 0h1m3 0h2m23 0h1m5 0h1m29 0h1m20 0h1m16 0h1"/>
<path stroke="#e43c48" stroke-width="7" d="M311 290.5h1m9 0h1m20 0h1m-236 29h1m-30 29h1m11 0h1m17 0h1m14 0h1m5 0h2m55 0h1m12 0h1m9 0h1m22 0h1m4 0h1m13 0h1m13 0h1m15 0h1m51 0h1m50 0h1m25 0h1m5 0h1m9 0h1m-298 29h1m35 0h1m127 153h1m43 0h1m26 0h1m2 0h1m43 0h1m8 0h2m43 0h1m-205 14h1m114 0h1"/>
<path stroke="#e43c48" stroke-width="8" d="M200 269h1"/>
<path stroke="#e4483c" stroke-width="7" d="M277 290.5h1m29 0h1m10 0h1m15 0h1m4 0h1m37 0h1m9 0h1m35 0h1m3 0h1m23 0h1m6 0h1m-322 29h1m-35 29h1m7 0h2m6 0h1m1 0h1m10 0h1m1 0h1m1 0h1m6 0h3m3 0h1m10 0h2m4 0h1m1 0h1m5 0h1m12 0h1m6 0h3m7 0h1m3 0h1m1 0h1m17 0h1m4 0h2m6 0h1m14 0h1m42 0h2m2 0h1m46 0h1m20 0h1m8 0h1m82 0h1m-197 182h1m8 0h1m1 0h1m5 0h1m4 0h1m29 0h1m6 0h1m18 0h1m20 0h1m9 0h1m3 0h1m3 0h1m8 0h2m1 0h1m10 0h1m6 0h1m4 0h1m15 0h1m8 0h1m1 0h1m12 0h1m3 0h1m2 0h1m3 0h1"/>
<path stroke="#e4483c" stroke-width="8" d="M96 414h1m65 0h1"/>
<path stroke="#e44848" stroke-width="7" d="M264 290.5h1m131 0h1m48 0h1m4 0h1m-249 29h1m-114 29h1m11 0h1m3 0h1m31 0h1m1 0h1m29 0h1m9 0h1m4 0h1m3 0h1m28 0h1m26 0h1m9 0h1m2 0h1m5 0h1m80 0h1m4 0h1m61 0h1m-138 182h1m5 0h1m10 0h1m24 0h1m34 0h1m11 0h1m35 0h1m2 0h1m23 0h1m41 0h1"/>
<path stroke="#e44848" stroke-width="8" d="M95 414h1"/>
<path stroke="#e4543c" stroke-width="7" d="M297 530.5h1m89 0h1m2 0h1m45 0h1m1 0h1m11 0h1"/>
<path stroke="#e4543c" stroke-width="8" d="M100 414h1"/>
<path stroke="#e45448" stroke-width="7" d="M305 290.5h1m67 0h1m-6 240h1m9 0h1"/>
<path stroke="#e45448" stroke-width="8" d="M235 414h1"/>
<path stroke="#e45454" stroke-width="7" d="M417 348.5h1"/>
<path stroke="#e46048" stroke-width="7" d="M341 530.5h1m39 0h1m21 0h1"/>
<path stroke="#e46048" stroke-width="8" d="M189 414h1"/>
<path stroke="#e46c54" stroke-width="8" d="M216 414h1m4 0h1"/>
<path stroke="#e47854" stroke-width="8" d="M191 414h1"/>
<path stroke="#e49084" stroke-width="8" d="M111 414h1"/>
<path stroke="#f0483c" stroke-width="7" d="M279 290.5h1m10 0h1m11 0h1m17 0h1m7 0h1m2 0h1m14 0h1m1 0h1m35 0h1m6 0h2m16 0h1m1 0h1m2 0h1m2 0h1m17 0h1m12 0h1m10 0h1m1 0h1m15 0h1m-402 58h2m2 0h2m2 0h1m10 0h1m1 0h1m1 0h1m13 0h1m10 0h1m3 0h1m9 0h1m11 0h1m1 0h2m9 0h1m1 0h1m4 0h1m2 0h1m3 0h1m3 0h2m9 0h1m8 0h1m4 0h2m11 0h1m2 0h1m1 0h2m16 0h1m5 0h2m2 0h1m143 0h1m76 0h1m-160 182h1m3 0h1m43 0h1m70 0h1m35 0h1"/>
<path stroke="#f04848" stroke-width="7" d="M216 348.5h1"/>
<path stroke="#f0543c" stroke-width="7" d="M250 290.5h1m8 0h1m2 0h1m2 0h1m2 0h2m1 0h1m4 0h1m3 0h1m1 0h1m2 0h1m5 0h1m5 0h2m9 0h1m1 0h1m2 0h3m3 0h1m3 0h1m6 0h1m9 0h2m12 0h1m1 0h1m2 0h1m3 0h2m7 0h1m3 0h1m2 0h2m5 0h1m8 0h1m2 0h2m4 0h1m2 0h1m2 0h1m1 0h1m2 0h1m9 0h2m1 0h1m2 0h1m1 0h1m2 0h2m2 0h1m1 0h1m3 0h2m1 0h1m3 0h1m1 0h1m1 0h1m2 0h1m1 0h1m2 0h1m1 0h1m1 0h1m1 0h3m1 0h2m1 0h1m-379 58h1m5 0h1m2 0h1m4 0h2m4 0h1m5 0h1m19 0h3m27 0h1m1 0h1m23 0h1m20 0h1m3 0h1m7 0h1m19 0h1m19 182h1m19 0h2m9 0h1m42 0h2m3 0h1m6 0h1m38 0h1m31 0h1m31 0h1"/>
<path stroke="#f05448" stroke-width="7" d="M260 290.5h1m5 0h1m8 0h1m10 0h1m9 0h1m7 0h1m7 0h1m16 0h1m15 0h1m39 0h1m3 0h1m7 0h1m2 0h1m18 0h1m1 0h2m11 0h1m4 0h1m12 0h1m17 0h1m-397 58h1m32 0h1m19 0h1m13 0h1m47 0h1m10 0h1m4 0h1m7 0h1m22 0h1m70 0h2m72 0h1m-109 182h1m41 0h1m90 0h1m32 0h1m33 0h1"/>
<path stroke="#f05448" stroke-width="8" d="M144 414h1"/>
<path stroke="#f0603c" stroke-width="7" d="M261 290.5h1m31 0h1m1 0h1"/>
<path stroke="#f06048" stroke-width="7" d="M101 290.5h1m16 0h1m7 0h1m54 0h1m16 0h1m64 0h1m3 0h1m2 0h1m2 0h2m6 0h1m1 0h2m3 0h2m2 0h1m1 0h1m6 0h1m1 0h1m12 0h2m6 0h1m1 0h2m4 0h1m2 0h4m5 0h1m5 0h1m1 0h1m4 0h2m1 0h2m3 0h1m1 0h1m1 0h2m3 0h2m2 0h1m4 0h1m17 0h1m3 0h2m6 0h1m2 0h1m1 0h1m5 0h1m4 0h2m1 0h1m5 0h1m2 0h1m1 0h1m10 0h1m8 0h1m10 0h1m-382 58h1m2 0h1m28 0h1m38 0h1m46 0h1m-56 167h1m18 0h1m118 15h1m106 0h1m52 0h1"/>
<path stroke="#f06c48" stroke-width="7" d="M81 290.5h1m2 0h1m1 0h1m2 0h1m32 0h1m31 0h1m4 0h1m11 0h1m3 0h1m1 0h2m1 0h1m22 0h1m26 0h3m2 0h1m5 0h1m4 0h1m6 0h2m2 0h1m14 0h1m5 0h1m8 0h1m11 0h1m6 0h1m2 0h1m12 0h1m2 0h1m7 0h1m17 0h1m1 0h1m12 0h1m4 0h1m9 0h1m12 0h1m7 0h2m16 0h1m23 0h1m19 0h1m3 0h1m-395 225h2m1 0h1m48 0h1m13 0h1m9 0h1m3 0h2m3 0h1m6 0h2m17 0h1m1 0h1m2 0h1m5 0h2m12 0h1m9 0h1m3 0h1m20 0h1m2 0h1m1 0h1m2 0h1m76 0h1m25 0h1m54 0h1"/>
<path stroke="#f06c54" stroke-width="7" d="M76 290.5h1m10 0h1m51 0h1m17 0h1m34 0h1m13 0h1m36 0h1m118 0h1m30 0h1m-315 58h1m8 167h1m23 0h1m70 0h1m53 0h1m26 0h1m20 0h1m137 0h1m52 0h1"/>
<path stroke="#f06c54" stroke-width="8" d="M159 414h1"/>
<path stroke="#f06c60" stroke-width="7" d="M117 515.5h1"/>
<path stroke="#f07854" stroke-width="7" d="M75 290.5h1m4 0h1m2 0h1m1 0h1m2 0h1m6 0h1m1 0h4m1 0h2m1 0h3m2 0h4m2 0h2m1 0h1m3 0h3m8 0h2m2 0h1m1 0h2m2 0h2m1 0h2m1 0h2m1 0h1m1 0h1m8 0h1m2 0h1m2 0h1m1 0h1m1 0h1m1 0h1m6 0h1m1 0h3m1 0h2m2 0h3m1 0h1m11 0h1m10 0h2m2 0h1m1 0h3m10 0h2m1 0h1m1 0h1m2 0h3m1 0h1m48 0h1m48 0h1m40 0h1m-315 225h1m1 0h1m1 0h1m2 0h2m2 0h1m1 0h1m9 0h3m2 0h2m7 0h1m2 0h1m1 0h2m3 0h1m4 0h1m2 0h1m7 0h1m5 0h1m1 0h1m1 0h1m2 0h2m18 0h1m3 0h1m1 0h1m1 0h3m1 0h1m7 0h1m10 0h1m4 0h2m4 0h2m5 0h2m2 0h1m3 0h2m3 0h1m4 0h1m4 0h1m1 0h2m1 0h1m2 0h1m10 0h1m5 0h2m15 0h1m10 0h1m3 0h1m19 0h1m11 0h1m9 0h1m2 0h2m22 0h1m12 0h2m28 0h1m10 0h2m2 0h2m3 0h2m20 0h2m18 0h1m2 0h1"/>
<path stroke="#f07860" stroke-width="7" d="M212 290.5h1m18 225h1m182 0h1"/>
<path stroke="#f07860" stroke-width="8" d="M121 414h1"/>
<path stroke="#f08454" stroke-width="7" d="M74 290.5h1m16 0h1m29 0h1m15 0h1m24 0h1m36 0h1m18 0h2m3 0h1m14 0h1m6 0h1m-165 225h1m29 0h1m8 0h1m14 0h1m1 0h1m5 0h1m29 0h1m28 0h1m2 0h2m4 0h1m4 0h1m23 0h1m13 0h1m29 0h1m26 0h1m6 0h2m2 0h1m5 0h1m9 0h1m66 0h1m24 0h1m13 0h1m17 0h1m3 0h1"/>
<path stroke="#f08460" stroke-width="7" d="M77 290.5h3m2 0h1m9 0h1m3 0h1m7 0h1m3 0h2m4 0h1m13 0h3m5 0h1m5 0h2m5 0h1m6 0h1m8 0h2m6 0h1m10 0h1m6 0h1m8 0h3m8 0h1m1 0h1m11 0h1m7 0h2m1 0h2m17 0h2m-172 225h1m5 0h1m2 0h1m3 0h1m7 0h1m2 0h1m4 0h1m6 0h2m1 0h2m4 0h1m1 0h1m3 0h1m1 0h1m3 0h1m1 0h1m3 0h1m8 0h2m1 0h2m1 0h1m1 0h1m2 0h1m1 0h2m2 0h1m2 0h1m1 0h1m6 0h1m1 0h1m4 0h1m1 0h1m2 0h4m2 0h1m8 0h1m5 0h1m3 0h1m2 0h1m8 0h2m1 0h1m2 0h1m1 0h1m7 0h1m8 0h1m7 0h1m3 0h1m6 0h1m2 0h1m4 0h1m3 0h1m6 0h1m3 0h4m1 0h1m2 0h1m2 0h2m1 0h1m3 0h1m2 0h1m3 0h1m1 0h1m2 0h1m2 0h1m1 0h1m4 0h1m2 0h1m2 0h1m1 0h1m2 0h1m3 0h1m9 0h1m3 0h1m1 0h1m2 0h1m2 0h1m8 0h2m1 0h1m2 0h2m8 0h1m1 0h1m1 0h1m1 0h1m5 0h2m3 0h2m3 0h2m3 0h1m9 0h3m1 0h1m2 0h1m3 0h1m7 0h1m16 0h1"/>
<path stroke="#f08460" stroke-width="8" d="M223 414h1"/>
<path stroke="#f0846c" stroke-width="7" d="M131 290.5h1"/>
<path stroke="#f09060" stroke-width="7" d="M94 290.5h1m38 0h1m18 0h1m7 0h2m1 0h1m4 0h1m13 0h1m5 0h1m16 0h1m2 0h1m1 0h1m4 0h2m5 0h1m-130 225h1m2 0h2m5 0h1m4 0h1m6 0h1m17 0h2m6 0h1m22 0h1m4 0h1m21 0h1m20 0h1m5 0h1m8 0h1m27 0h2m32 0h1m6 0h1m9 0h1m1 0h1m8 0h1m23 0h1m13 0h1m7 0h1m1 0h2m5 0h1m17 0h1m6 0h1m1 0h1m1 0h1m16 0h1m20 0h1m14 0h1m2 0h2m2 0h1m5 0h1m3 0h1"/>
<path stroke="#f0906c" stroke-width="7" d="M90 290.5h1m2 0h1m26 0h1m6 0h1m18 0h1m11 0h1m10 0h1m9 0h1m16 0h1m7 0h1m2 0h1m6 0h1m2 0h1m34 0h1m-174 225h1m2 0h1m3 0h1m3 0h1m1 0h1m2 0h1m6 0h1m24 0h1m1 0h1m21 0h1m37 0h1m27 0h1m10 0h1m3 0h1m9 0h1m16 0h1m1 0h2m8 0h1m1 0h5m2 0h1m9 0h1m1 0h1m1 0h1m4 0h2m8 0h1m2 0h1m2 0h1m15 0h1m4 0h1m2 0h1m4 0h1m7 0h1m5 0h2m9 0h1m7 0h2m1 0h3m4 0h1m10 0h1m3 0h2m5 0h1m5 0h1m3 0h2m14 0h1m11 0h1m3 0h1m1 0h1m9 0h2m4 0h2"/>
<path stroke="#f0906c" stroke-width="8" d="M222 414h1"/>
<path stroke="#f09c6c" stroke-width="7" d="M115 290.5h1m16 0h1m96 0h1m-123 225h1m38 0h1m15 0h1m44 0h1m57 0h1m15 0h1m6 0h1m6 0h1m30 0h1m33 0h1m1 0h1m1 0h1m9 0h2m9 0h2m6 0h1m2 0h1m10 0h1m41 0h2m22 0h1"/>
<path stroke="#f09c78" stroke-width="7" d="M110 515.5h1m83 0h1m38 0h1m23 0h1m8 0h2m10 0h1m4 0h1m9 0h1m40 0h1m5 0h1m8 0h1m1 0h1m2 0h1m6 0h1m6 0h1m23 0h1m7 0h1m11 0h1m19 0h1m4 0h1m27 0h1m2 0h1m3 0h1m1 0h1"/>
<path stroke="#f0a878" stroke-width="7" d="M324 515.5h2m110 0h1m3 0h1"/>
<path stroke="#f0a878" stroke-width="8" d="M452 414h1"/>
<path stroke="#f0a884" stroke-width="7" d="M438 515.5h1m7 0h1m12 0h1"/>
<path stroke="#f0a884" stroke-width="8" d="M320 414h2m51 0h1m5 0h1m43 0h1m24 0h1"/>
<path stroke="#fca884" stroke-width="8" d="M339 414h1"/>
<path stroke="#fcb484" stroke-width="8" d="M285 414h1"/>
<path stroke="#fcb490" stroke-width="8" d="M263 414h1m7 0h1m7 0h1m31 0h1m16 0h1m11 0h1m3 0h1m18 0h1m8 0h1m1 0h1m7 0h2m4 0h1m2 0h1m22 0h1m9 0h1m13 0h1m17 0h1m9 0h1"/>
<path stroke="#fcb49c" stroke-width="8" d="M322 414h1m20 0h1m32 0h1m38 0h1m13 0h1m15 0h1m21 0h1m3 0h1"/>
<path stroke="#fcc09c" stroke-width="8" d="M270 414h1m3 0h1m7 0h3m1 0h1m2 0h1m1 0h1m5 0h2m3 0h2m6 0h1m7 0h1m8 0h1m1 0h2m10 0h1m14 0h1m3 0h1m6 0h1m1 0h3m5 0h2m5 0h1m2 0h1m1 0h2m1 0h2m3 0h1m2 0h1m5 0h3m3 0h2m5 0h1m8 0h1m3 0h2m3 0h1m1 0h2m1 0h1m4 0h1m27 0h2m1 0h1"/>
<path stroke="#fcc0a8" stroke-width="8" d="M260 414h1m4 0h1m2 0h2m3 0h1m1 0h1m5 0h1m6 0h1m24 0h1m24 0h1m3 0h1m4 0h1m3 0h1m7 0h1m1 0h1m2 0h1m1 0h1m13 0h1m4 0h1m23 0h1m8 0h1m6 0h1m1 0h1m3 0h1m4 0h1m13 0h2m1 0h1m1 0h1m1 0h1m2 0h1m1 0h1m1 0h1m4 0h1m3 0h1"/>
<path stroke="#fccca8" stroke-width="8" d="M264 414h1m13 0h1m1 0h1m13 0h1m13 0h2m2 0h1m1 0h2m3 0h1m6 0h1m4 0h1m1 0h1m12 0h1m1 0h1m5 0h1m2 0h2m3 0h1m12 0h1m10 0h1m7 0h2m2 0h2m4 0h1m17 0h1m11 0h2m5 0h1m2 0h1m1 0h1m7 0h1m3 0h1m4 0h1m6 0h1"/>
<path stroke="#fcccb4" stroke-width="8" d="M262 414h1m3 0h2m4 0h1m3 0h2m12 0h1m1 0h1m2 0h1m4 0h1m3 0h2m10 0h2m14 0h1m1 0h2m9 0h1m4 0h1m14 0h1m2 0h1m12 0h1m14 0h1m13 0h2m4 0h2m2 0h2m4 0h1m16 0h1m5 0h1m9 0h1m1 0h1m3 0h1m2 0h1"/>
<path stroke="#fcd8b4" stroke-width="8" d="M301 414h1m5 0h1m17 0h1m75 0h1"/>
<path stroke="#fcd8c0" stroke-width="8" d="M259 414h1m1 0h1m25 0h1m5 0h1m2 0h1m2 0h1m23 0h2m11 0h2m11 0h1m2 0h2m1 0h1m46 0h2m1 0h1m24 0h1m41 0h1m1 0h1m2 0h1"/>
<path stroke="#fcd8cc" stroke-width="8" d="M306 414h1"/>
</g></g>
<rect x="482.3" y="265.8" width="5.7" height="145.0" fill="#da6259"/>
<rect x="482.3" y="410.8" width="5.7" height="144.7" fill="#8cc34f"/>
<rect x="75" y="560.2" width="183" height="4.8" fill="#d9625c"/>
<rect x="258" y="560.2" width="221" height="4.8" fill="#8cc34f"/>
<text x="166.8" y="574.6" font-size="7.6" text-anchor="middle" fill="#222">Pre</text>
<text x="368.6" y="574.6" font-size="7.6" text-anchor="middle" fill="#222">Post</text>
<defs><linearGradient id="cb" x1="0" y1="0" x2="0" y2="1"><stop offset="0.00" stop-color="#faebdd"/><stop offset="0.05" stop-color="#f8d9c3"/><stop offset="0.10" stop-color="#f7c6a6"/><stop offset="0.15" stop-color="#f6b18b"/><stop offset="0.20" stop-color="#f69c73"/><stop offset="0.25" stop-color="#f58860"/><stop offset="0.30" stop-color="#f3714d"/><stop offset="0.35" stop-color="#ef5840"/><stop offset="0.40" stop-color="#e83f3f"/><stop offset="0.45" stop-color="#db2946"/><stop offset="0.50" stop-color="#cb1b4f"/><stop offset="0.55" stop-color="#b71657"/><stop offset="0.60" stop-color="#a11a5b"/><stop offset="0.65" stop-color="#8b1d5b"/><stop offset="0.70" stop-color="#751f58"/><stop offset="0.75" stop-color="#611f53"/><stop offset="0.80" stop-color="#4c1d4b"/><stop offset="0.85" stop-color="#381a40"/><stop offset="0.90" stop-color="#251433"/><stop offset="0.95" stop-color="#130d25"/><stop offset="1.00" stop-color="#03051a"/></linearGradient></defs>
<rect x="491.6" y="412.4" width="8.1" height="143.2" fill="url(#cb)" stroke="#111" stroke-width="1"/>
<path d="M500 555.4h2.6" stroke="#111" stroke-width="0.8"/>
<text x="505.3" y="558.0" font-size="7.3" fill="#222">0</text>
<path d="M500 531.1h2.6" stroke="#111" stroke-width="0.8"/>
<text x="505.3" y="533.7" font-size="7.3" fill="#222">2</text>
<path d="M500 506.9h2.6" stroke="#111" stroke-width="0.8"/>
<text x="505.3" y="509.5" font-size="7.3" fill="#222">4</text>
<path d="M500 482.6h2.6" stroke="#111" stroke-width="0.8"/>
<text x="505.3" y="485.2" font-size="7.3" fill="#222">6</text>
<path d="M500 458.4h2.6" stroke="#111" stroke-width="0.8"/>
<text x="505.3" y="461.0" font-size="7.3" fill="#222">8</text>
<path d="M500 434.1h2.6" stroke="#111" stroke-width="0.8"/>
<text x="505.3" y="436.7" font-size="7.3" fill="#222">10</text>
<path d="M0 0.5H520M0.5 0V583M0 582.5H520" fill="none" stroke="#606060" stroke-width="1"/><path d="M519.5 0V583" stroke="#8a8a8a" stroke-width="1"/>
</g></svg>
</body></html>
